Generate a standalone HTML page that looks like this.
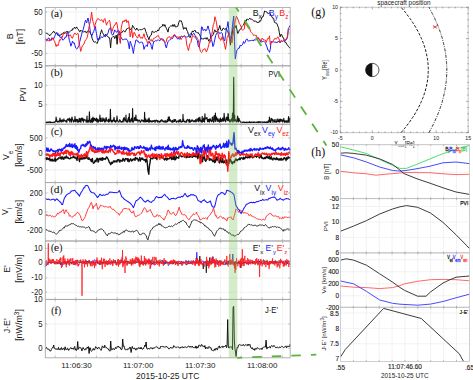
<!DOCTYPE html>
<html><head><meta charset="utf-8"><style>
html,body{margin:0;padding:0;background:#fff;width:473px;height:380px;overflow:hidden;position:relative}
text{font-family:"Liberation Sans",sans-serif;fill:#1a1a1a}
.tl{font-size:8px}
.xl{font-size:8.5px}
.yt{font-size:8.7px}
.yl{font-size:8.9px}
.sub{font-size:6px}
.sup{font-size:6px}
.pl{font-family:"Liberation Serif",serif;font-size:11.4px;fill:#111;stroke:#111;stroke-width:0.08}
.pp{font-size:9.3px}
.gs{font-size:5.2px}
.hs{font-size:6.5px;stroke:#1a1a1a;stroke-width:0.12}
.gl{font-family:"Liberation Serif",serif;font-size:12px;fill:#111}
.lg{font-size:8.4px}
.lgs{font-size:6px}
</style></head><body>
<svg width="473" height="380" viewBox="0 0 473 380" style="position:absolute;left:0;top:0">
<rect width="473" height="380" fill="#fff"/>
<line x1="55.2" y1="7.4" x2="55.2" y2="65.8" stroke="#efefef" stroke-width="0.8"/>
<line x1="75.9" y1="7.4" x2="75.9" y2="65.8" stroke="#efefef" stroke-width="0.8"/>
<line x1="96.5" y1="7.4" x2="96.5" y2="65.8" stroke="#efefef" stroke-width="0.8"/>
<line x1="117.2" y1="7.4" x2="117.2" y2="65.8" stroke="#efefef" stroke-width="0.8"/>
<line x1="137.9" y1="7.4" x2="137.9" y2="65.8" stroke="#efefef" stroke-width="0.8"/>
<line x1="158.6" y1="7.4" x2="158.6" y2="65.8" stroke="#efefef" stroke-width="0.8"/>
<line x1="179.2" y1="7.4" x2="179.2" y2="65.8" stroke="#efefef" stroke-width="0.8"/>
<line x1="199.9" y1="7.4" x2="199.9" y2="65.8" stroke="#efefef" stroke-width="0.8"/>
<line x1="220.6" y1="7.4" x2="220.6" y2="65.8" stroke="#efefef" stroke-width="0.8"/>
<line x1="241.2" y1="7.4" x2="241.2" y2="65.8" stroke="#efefef" stroke-width="0.8"/>
<line x1="261.9" y1="7.4" x2="261.9" y2="65.8" stroke="#efefef" stroke-width="0.8"/>
<line x1="282.6" y1="7.4" x2="282.6" y2="65.8" stroke="#efefef" stroke-width="0.8"/>
<line x1="45.3" y1="12.0" x2="290.2" y2="12.0" stroke="#efefef" stroke-width="0.8"/>
<line x1="45.3" y1="32.8" x2="290.2" y2="32.8" stroke="#efefef" stroke-width="0.8"/>
<line x1="45.3" y1="53.5" x2="290.2" y2="53.5" stroke="#efefef" stroke-width="0.8"/>
<line x1="55.2" y1="65.8" x2="55.2" y2="124.2" stroke="#efefef" stroke-width="0.8"/>
<line x1="75.9" y1="65.8" x2="75.9" y2="124.2" stroke="#efefef" stroke-width="0.8"/>
<line x1="96.5" y1="65.8" x2="96.5" y2="124.2" stroke="#efefef" stroke-width="0.8"/>
<line x1="117.2" y1="65.8" x2="117.2" y2="124.2" stroke="#efefef" stroke-width="0.8"/>
<line x1="137.9" y1="65.8" x2="137.9" y2="124.2" stroke="#efefef" stroke-width="0.8"/>
<line x1="158.6" y1="65.8" x2="158.6" y2="124.2" stroke="#efefef" stroke-width="0.8"/>
<line x1="179.2" y1="65.8" x2="179.2" y2="124.2" stroke="#efefef" stroke-width="0.8"/>
<line x1="199.9" y1="65.8" x2="199.9" y2="124.2" stroke="#efefef" stroke-width="0.8"/>
<line x1="220.6" y1="65.8" x2="220.6" y2="124.2" stroke="#efefef" stroke-width="0.8"/>
<line x1="241.2" y1="65.8" x2="241.2" y2="124.2" stroke="#efefef" stroke-width="0.8"/>
<line x1="261.9" y1="65.8" x2="261.9" y2="124.2" stroke="#efefef" stroke-width="0.8"/>
<line x1="282.6" y1="65.8" x2="282.6" y2="124.2" stroke="#efefef" stroke-width="0.8"/>
<line x1="45.3" y1="85.4" x2="290.2" y2="85.4" stroke="#efefef" stroke-width="0.8"/>
<line x1="45.3" y1="104.8" x2="290.2" y2="104.8" stroke="#efefef" stroke-width="0.8"/>
<line x1="55.2" y1="124.2" x2="55.2" y2="182.6" stroke="#efefef" stroke-width="0.8"/>
<line x1="75.9" y1="124.2" x2="75.9" y2="182.6" stroke="#efefef" stroke-width="0.8"/>
<line x1="96.5" y1="124.2" x2="96.5" y2="182.6" stroke="#efefef" stroke-width="0.8"/>
<line x1="117.2" y1="124.2" x2="117.2" y2="182.6" stroke="#efefef" stroke-width="0.8"/>
<line x1="137.9" y1="124.2" x2="137.9" y2="182.6" stroke="#efefef" stroke-width="0.8"/>
<line x1="158.6" y1="124.2" x2="158.6" y2="182.6" stroke="#efefef" stroke-width="0.8"/>
<line x1="179.2" y1="124.2" x2="179.2" y2="182.6" stroke="#efefef" stroke-width="0.8"/>
<line x1="199.9" y1="124.2" x2="199.9" y2="182.6" stroke="#efefef" stroke-width="0.8"/>
<line x1="220.6" y1="124.2" x2="220.6" y2="182.6" stroke="#efefef" stroke-width="0.8"/>
<line x1="241.2" y1="124.2" x2="241.2" y2="182.6" stroke="#efefef" stroke-width="0.8"/>
<line x1="261.9" y1="124.2" x2="261.9" y2="182.6" stroke="#efefef" stroke-width="0.8"/>
<line x1="282.6" y1="124.2" x2="282.6" y2="182.6" stroke="#efefef" stroke-width="0.8"/>
<line x1="45.3" y1="137.9" x2="290.2" y2="137.9" stroke="#efefef" stroke-width="0.8"/>
<line x1="45.3" y1="153.7" x2="290.2" y2="153.7" stroke="#efefef" stroke-width="0.8"/>
<line x1="45.3" y1="169.9" x2="290.2" y2="169.9" stroke="#efefef" stroke-width="0.8"/>
<line x1="55.2" y1="182.6" x2="55.2" y2="241.0" stroke="#efefef" stroke-width="0.8"/>
<line x1="75.9" y1="182.6" x2="75.9" y2="241.0" stroke="#efefef" stroke-width="0.8"/>
<line x1="96.5" y1="182.6" x2="96.5" y2="241.0" stroke="#efefef" stroke-width="0.8"/>
<line x1="117.2" y1="182.6" x2="117.2" y2="241.0" stroke="#efefef" stroke-width="0.8"/>
<line x1="137.9" y1="182.6" x2="137.9" y2="241.0" stroke="#efefef" stroke-width="0.8"/>
<line x1="158.6" y1="182.6" x2="158.6" y2="241.0" stroke="#efefef" stroke-width="0.8"/>
<line x1="179.2" y1="182.6" x2="179.2" y2="241.0" stroke="#efefef" stroke-width="0.8"/>
<line x1="199.9" y1="182.6" x2="199.9" y2="241.0" stroke="#efefef" stroke-width="0.8"/>
<line x1="220.6" y1="182.6" x2="220.6" y2="241.0" stroke="#efefef" stroke-width="0.8"/>
<line x1="241.2" y1="182.6" x2="241.2" y2="241.0" stroke="#efefef" stroke-width="0.8"/>
<line x1="261.9" y1="182.6" x2="261.9" y2="241.0" stroke="#efefef" stroke-width="0.8"/>
<line x1="282.6" y1="182.6" x2="282.6" y2="241.0" stroke="#efefef" stroke-width="0.8"/>
<line x1="45.3" y1="193.0" x2="290.2" y2="193.0" stroke="#efefef" stroke-width="0.8"/>
<line x1="45.3" y1="212.0" x2="290.2" y2="212.0" stroke="#efefef" stroke-width="0.8"/>
<line x1="45.3" y1="230.5" x2="290.2" y2="230.5" stroke="#efefef" stroke-width="0.8"/>
<line x1="55.2" y1="241.0" x2="55.2" y2="299.4" stroke="#efefef" stroke-width="0.8"/>
<line x1="75.9" y1="241.0" x2="75.9" y2="299.4" stroke="#efefef" stroke-width="0.8"/>
<line x1="96.5" y1="241.0" x2="96.5" y2="299.4" stroke="#efefef" stroke-width="0.8"/>
<line x1="117.2" y1="241.0" x2="117.2" y2="299.4" stroke="#efefef" stroke-width="0.8"/>
<line x1="137.9" y1="241.0" x2="137.9" y2="299.4" stroke="#efefef" stroke-width="0.8"/>
<line x1="158.6" y1="241.0" x2="158.6" y2="299.4" stroke="#efefef" stroke-width="0.8"/>
<line x1="179.2" y1="241.0" x2="179.2" y2="299.4" stroke="#efefef" stroke-width="0.8"/>
<line x1="199.9" y1="241.0" x2="199.9" y2="299.4" stroke="#efefef" stroke-width="0.8"/>
<line x1="220.6" y1="241.0" x2="220.6" y2="299.4" stroke="#efefef" stroke-width="0.8"/>
<line x1="241.2" y1="241.0" x2="241.2" y2="299.4" stroke="#efefef" stroke-width="0.8"/>
<line x1="261.9" y1="241.0" x2="261.9" y2="299.4" stroke="#efefef" stroke-width="0.8"/>
<line x1="282.6" y1="241.0" x2="282.6" y2="299.4" stroke="#efefef" stroke-width="0.8"/>
<line x1="45.3" y1="248.4" x2="290.2" y2="248.4" stroke="#efefef" stroke-width="0.8"/>
<line x1="45.3" y1="262.7" x2="290.2" y2="262.7" stroke="#efefef" stroke-width="0.8"/>
<line x1="45.3" y1="277.9" x2="290.2" y2="277.9" stroke="#efefef" stroke-width="0.8"/>
<line x1="45.3" y1="292.2" x2="290.2" y2="292.2" stroke="#efefef" stroke-width="0.8"/>
<line x1="55.2" y1="299.4" x2="55.2" y2="357.8" stroke="#efefef" stroke-width="0.8"/>
<line x1="75.9" y1="299.4" x2="75.9" y2="357.8" stroke="#efefef" stroke-width="0.8"/>
<line x1="96.5" y1="299.4" x2="96.5" y2="357.8" stroke="#efefef" stroke-width="0.8"/>
<line x1="117.2" y1="299.4" x2="117.2" y2="357.8" stroke="#efefef" stroke-width="0.8"/>
<line x1="137.9" y1="299.4" x2="137.9" y2="357.8" stroke="#efefef" stroke-width="0.8"/>
<line x1="158.6" y1="299.4" x2="158.6" y2="357.8" stroke="#efefef" stroke-width="0.8"/>
<line x1="179.2" y1="299.4" x2="179.2" y2="357.8" stroke="#efefef" stroke-width="0.8"/>
<line x1="199.9" y1="299.4" x2="199.9" y2="357.8" stroke="#efefef" stroke-width="0.8"/>
<line x1="220.6" y1="299.4" x2="220.6" y2="357.8" stroke="#efefef" stroke-width="0.8"/>
<line x1="241.2" y1="299.4" x2="241.2" y2="357.8" stroke="#efefef" stroke-width="0.8"/>
<line x1="261.9" y1="299.4" x2="261.9" y2="357.8" stroke="#efefef" stroke-width="0.8"/>
<line x1="282.6" y1="299.4" x2="282.6" y2="357.8" stroke="#efefef" stroke-width="0.8"/>
<line x1="45.3" y1="324.0" x2="290.2" y2="324.0" stroke="#efefef" stroke-width="0.8"/>
<line x1="45.3" y1="348.3" x2="290.2" y2="348.3" stroke="#efefef" stroke-width="0.8"/>
<text transform="translate(42.6,14.6) scale(0.9,1)" text-anchor="end" class="yt">50</text>
<text transform="translate(42.6,35.3) scale(0.9,1)" text-anchor="end" class="yt">0</text>
<text transform="translate(42.6,56.0) scale(0.9,1)" text-anchor="end" class="yt">-50</text>
<text transform="translate(42.6,68.3) scale(0.9,1)" text-anchor="end" class="yt">15</text>
<text transform="translate(42.6,88.0) scale(0.9,1)" text-anchor="end" class="yt">10</text>
<text transform="translate(42.6,107.3) scale(0.9,1)" text-anchor="end" class="yt">5</text>
<text transform="translate(42.6,140.5) scale(0.9,1)" text-anchor="end" class="yt">500</text>
<text transform="translate(42.6,156.2) scale(0.9,1)" text-anchor="end" class="yt">0</text>
<text transform="translate(42.6,172.5) scale(0.9,1)" text-anchor="end" class="yt">-500</text>
<text transform="translate(42.6,195.6) scale(0.9,1)" text-anchor="end" class="yt">200</text>
<text transform="translate(42.6,214.6) scale(0.9,1)" text-anchor="end" class="yt">0</text>
<text transform="translate(42.6,233.1) scale(0.9,1)" text-anchor="end" class="yt">-200</text>
<text transform="translate(42.6,251.0) scale(0.9,1)" text-anchor="end" class="yt">10</text>
<text transform="translate(42.6,265.2) scale(0.9,1)" text-anchor="end" class="yt">0</text>
<text transform="translate(42.6,280.4) scale(0.9,1)" text-anchor="end" class="yt">-10</text>
<text transform="translate(42.6,294.8) scale(0.9,1)" text-anchor="end" class="yt">-20</text>
<text transform="translate(42.6,301.9) scale(0.9,1)" text-anchor="end" class="yt">10</text>
<text transform="translate(42.6,326.6) scale(0.9,1)" text-anchor="end" class="yt">5</text>
<text transform="translate(42.6,350.9) scale(0.9,1)" text-anchor="end" class="yt">0</text>
<polyline points="45.3,32.5 46.0,33.5 46.6,33.4 47.3,33.8 48.1,33.8 48.9,34.7 49.7,35.9 50.4,34.8 51.0,34.6 51.7,33.4 52.3,32.8 53.0,32.0 53.8,31.1 54.6,33.0 55.4,33.0 56.0,33.8 56.6,33.3 57.3,34.0 57.9,35.4 58.7,35.4 59.5,35.7 60.3,35.2 61.0,35.0 61.6,33.8 62.3,33.9 62.9,33.5 63.6,32.3 64.2,33.7 64.9,32.7 65.5,33.0 66.2,31.7 66.8,31.4 67.4,31.7 68.1,31.8 68.7,32.3 69.4,32.1 70.0,31.6 70.7,30.6 71.3,30.2 72.0,30.7 72.6,28.7 73.3,28.8 73.9,28.7 74.5,27.2 75.2,28.0 75.8,28.6 76.6,26.9 77.4,28.4 78.0,29.4 78.7,29.7 79.3,31.4 79.9,31.9 80.7,30.2 81.5,31.0 82.1,31.1 82.8,31.4 83.4,31.9 84.0,31.3 84.8,31.7 85.6,31.3 86.4,33.1 87.2,31.5 88.0,30.8 88.6,30.7 89.2,31.3 89.9,32.0 90.5,33.5 91.3,34.6 92.1,38.3 92.9,40.2 93.7,41.8 94.5,42.1 95.3,41.7 96.2,42.5 97.0,43.5 97.8,42.0 98.4,39.7 99.0,39.0 99.7,37.1 100.3,34.4 100.9,32.1 101.6,29.8 102.4,32.5 103.3,33.9 104.1,35.1 104.9,36.4 105.7,34.1 106.5,35.1 107.3,36.2 108.2,37.1 109.0,37.2 109.8,39.7 110.6,47.9 111.4,38.0 112.2,37.5 113.0,36.7 113.8,35.9 114.7,38.6 115.5,36.8 116.3,35.1 117.1,44.3 117.9,33.9 118.8,34.0 119.6,35.0 120.4,33.1 121.2,32.4 122.0,32.6 122.8,31.1 123.7,30.5 124.5,31.7 125.3,31.7 126.1,30.0 126.9,28.6 127.7,28.5 128.5,28.1 129.3,27.6 130.2,29.6 131.0,28.8 131.8,28.7 132.6,25.4 133.4,26.5 134.2,28.2 135.1,29.4 135.9,30.1 136.7,28.0 137.5,29.1 138.3,30.4 139.1,30.3 139.9,29.4 140.8,29.7 141.6,29.9 142.4,29.1 143.2,29.1 144.0,28.2 144.8,28.3 145.7,31.3 146.5,33.3 147.3,35.8 148.1,37.6 148.9,39.8 149.7,37.0 150.5,35.5 151.3,35.1 152.2,31.0 153.0,31.7 153.8,32.3 154.6,32.2 155.2,31.9 155.8,31.2 156.5,31.7 157.1,31.3 157.8,29.9 158.5,31.0 159.2,28.9 159.9,27.4 160.7,27.2 161.5,26.6 162.3,26.2 162.9,24.2 163.6,25.5 164.2,26.3 164.8,24.6 165.6,26.6 166.4,28.4 167.2,30.0 168.0,32.1 168.8,27.9 169.7,26.8 170.5,26.0 171.3,25.8 172.1,26.5 172.9,24.5 173.8,26.5 174.6,24.5 175.4,27.0 176.2,26.8 177.0,26.7 177.8,26.2 178.7,22.9 179.5,20.6 180.3,21.0 181.1,20.6 181.9,22.5 182.7,25.6 183.5,29.3 184.3,27.6 185.2,28.8 186.0,27.5 186.8,30.1 187.6,31.7 188.4,34.4 189.2,36.4 190.1,37.7 190.9,35.6 191.7,32.6 192.5,30.9 193.1,32.1 193.8,30.9 194.4,30.6 195.0,30.1 195.8,32.2 196.6,32.1 197.4,32.9 198.2,32.5 199.0,34.3 199.8,34.8 200.7,37.3 201.5,39.0 202.3,38.6 203.1,39.4 203.9,38.2 204.7,38.3 205.5,37.9 206.3,39.3 207.1,37.5 207.9,38.9 208.8,41.2 209.6,39.5 210.4,38.6 211.0,36.1 211.6,36.7 212.4,35.8 213.3,34.5 214.1,31.8 214.9,29.8 215.7,31.8 216.5,32.0 217.3,30.8 218.2,30.4 219.0,28.1 219.8,25.5 220.6,29.2 221.4,30.7 222.2,30.4 223.1,28.1 223.9,28.3 224.7,29.5 225.5,29.2 226.3,28.0 227.2,30.8 228.0,31.9 228.8,35.5 229.6,38.7 230.4,45.2 231.2,38.9 232.1,35.0 232.9,28.3 233.7,28.0 234.5,26.6 235.3,27.7 236.1,25.4 236.9,29.9 237.8,33.5 238.6,31.9 239.4,29.9 240.2,29.3 241.0,29.1 241.8,26.7 242.7,25.7 243.5,24.9 244.3,22.9 245.0,20.5 245.6,20.5 246.2,21.2 246.9,19.0 247.5,19.3 248.3,19.8 249.1,19.1 249.9,18.1 250.5,19.2 251.2,19.4 251.8,19.1 252.4,19.5 253.2,20.4 254.0,21.6 254.8,20.9 255.4,21.1 256.1,21.6 256.7,21.6 257.3,22.9 258.1,22.0 258.9,22.7 259.7,20.7 260.5,21.2 261.3,19.3 262.1,16.8 263.0,16.9 263.8,14.2 264.6,11.0 265.4,11.4 266.2,11.7 267.0,12.1 267.9,13.7 268.7,13.3 269.5,12.8 270.3,13.8 271.1,15.7 272.0,16.9 272.8,18.4 273.6,18.3 274.4,21.9 275.2,23.0 276.0,22.8 276.9,23.5 277.7,25.9 278.5,27.6 279.3,32.3 280.1,36.8 281.0,34.2 281.8,34.8 282.6,37.3 283.4,37.6 284.2,40.1 285.0,42.4 285.9,42.4 286.7,44.1 287.5,45.2 288.3,46.3 289.1,47.0 289.9,48.3" fill="none" stroke="#111111" stroke-width="1.0" stroke-linejoin="round"/>
<polyline points="45.3,38.3 45.8,38.5 46.4,39.8 47.0,40.2 47.6,39.3 48.3,38.2 48.9,37.9 49.7,40.7 50.5,40.2 51.3,40.4 51.9,37.7 52.5,39.2 53.2,38.5 53.8,38.7 54.6,36.5 55.4,34.8 56.2,33.8 56.8,32.4 57.5,34.6 58.1,34.3 58.7,33.8 59.5,36.3 60.3,37.7 61.1,36.7 62.0,38.4 62.8,40.2 63.6,39.7 64.4,38.9 65.2,37.0 66.0,37.4 66.8,34.6 67.6,31.1 68.4,34.7 69.3,40.3 70.1,42.7 70.9,46.2 71.7,43.9 72.5,41.1 73.3,43.1 74.2,42.7 75.0,45.7 75.8,48.2 76.6,48.9 77.4,48.5 78.2,46.9 79.0,45.3 79.8,41.5 80.7,38.0 81.5,34.9 82.3,31.7 83.2,29.6 84.0,26.2 84.8,22.8 85.6,20.1 86.2,21.7 86.7,22.8 87.3,20.6 88.0,18.0 88.7,21.4 89.3,24.5 89.9,28.2 90.5,33.8 91.3,35.0 92.1,35.5 92.9,33.0 93.7,31.4 94.6,28.8 95.4,26.6 96.0,31.1 96.5,33.7 97.2,38.1 97.8,40.2 98.4,38.4 99.0,38.6 99.7,39.5 100.3,37.4 101.0,36.7 101.7,37.1 102.4,37.9 103.2,36.7 104.1,35.3 104.9,36.6 105.7,36.5 106.5,35.1 107.3,34.7 108.2,32.5 109.0,29.2 109.8,28.9 110.6,27.1 111.4,33.4 112.2,34.8 113.0,35.0 113.8,33.0 114.7,29.9 115.5,31.3 116.3,31.8 117.1,32.4 117.9,30.3 118.8,30.6 119.6,32.0 120.4,36.4 121.2,37.4 122.0,39.0 122.8,39.8 123.7,39.6 124.5,39.2 125.3,39.3 126.1,38.6 126.9,39.9 127.7,40.5 128.5,44.1 129.3,48.8 130.2,41.3 131.0,43.5 131.8,45.8 132.6,49.3 133.4,53.5 134.2,47.5 135.1,43.7 135.9,40.0 136.7,39.9 137.5,41.4 138.3,41.2 139.1,42.9 139.9,42.9 140.8,42.1 141.6,42.1 142.4,42.3 143.2,44.4 144.0,49.4 144.8,46.9 145.7,45.7 146.5,45.2 147.3,46.5 148.1,42.6 148.9,41.4 149.7,43.1 150.5,42.9 151.3,46.5 152.2,49.4 153.0,44.6 153.8,41.3 154.4,41.4 155.1,41.3 155.7,40.4 156.3,40.9 157.0,40.5 157.6,40.2 158.3,39.7 159.1,40.6 159.9,40.8 160.7,38.7 161.5,38.9 162.3,38.9 163.2,39.3 164.0,41.2 164.8,42.5 165.6,46.1 166.4,48.0 167.2,44.5 168.0,41.7 168.8,40.7 169.7,39.8 170.5,39.6 171.3,38.7 172.1,38.9 172.9,37.8 173.8,36.3 174.6,34.8 175.4,36.7 176.2,36.6 177.0,38.2 177.8,39.2 178.7,38.2 179.5,39.3 180.3,38.1 181.1,35.9 181.9,36.6 182.7,36.6 183.5,36.3 184.3,35.6 185.2,36.4 186.0,37.0 186.8,37.1 187.6,36.8 188.4,36.5 189.2,35.4 190.1,34.3 190.9,33.4 191.7,34.5 192.5,34.7 193.3,33.6 194.1,33.4 194.9,35.2 195.8,37.7 196.6,39.6 197.4,40.6 198.2,45.7 199.0,47.2 199.8,43.2 200.7,37.7 201.5,26.9 202.3,27.1 203.1,30.6 203.9,30.0 204.7,29.0 205.6,31.0 206.4,30.5 207.2,28.7 208.0,25.9 208.8,28.9 209.6,31.4 210.4,35.0 211.3,39.5 212.1,41.8 212.9,46.6 213.5,45.9 214.2,42.3 214.9,39.1 215.7,35.5 216.5,33.6 217.3,33.5 218.2,31.9 219.0,32.2 219.8,33.8 220.6,33.1 221.4,32.4 222.2,33.4 223.1,37.1 223.9,39.5 224.7,40.9 225.5,35.4 226.3,29.2 227.2,26.7 228.0,21.6 228.8,29.9 229.6,34.9 230.4,40.4 231.2,35.7 232.0,30.4 232.8,22.9 233.7,16.0 234.5,41.4 235.3,58.9 236.1,54.2 236.9,50.1 237.8,49.4 238.6,48.0 239.4,48.1 240.2,45.0 241.0,45.9 241.8,45.4 242.7,44.2 243.5,41.5 244.3,43.3 245.1,42.6 245.8,40.1 246.6,39.1 247.4,39.2 248.3,41.3 249.1,40.5 249.9,41.0 250.7,40.5 251.5,40.4 252.3,40.0 253.2,41.0 254.0,39.6 254.8,40.1 255.6,39.9 256.4,39.6 257.2,38.7 258.1,37.9 258.9,39.4 259.7,39.8 260.5,42.0 261.3,42.3 261.9,41.7 262.6,41.5 263.2,41.3 263.8,41.2 264.6,42.0 265.4,42.8 266.2,45.0 267.1,47.1 267.9,50.1 268.7,50.3 269.5,52.4 270.3,49.3 271.1,41.4 272.0,41.9 272.8,41.9 273.6,41.9 274.4,42.1 275.2,42.0 276.0,42.8 276.9,42.2 277.7,42.3 278.5,41.0 279.3,42.0 280.1,42.2 281.0,41.1 281.8,40.7 282.6,41.4 283.4,40.6 284.2,41.4 285.0,41.0 285.8,40.3 286.6,39.2 287.5,37.6 288.3,28.6 289.1,27.4 289.9,25.4" fill="none" stroke="#1a1aff" stroke-width="1.0" stroke-linejoin="round"/>
<polyline points="45.3,39.5 45.8,39.7 46.4,40.8 47.0,41.2 47.6,39.9 48.3,40.6 48.9,41.2 49.7,39.4 50.5,39.6 51.3,39.1 52.1,39.4 53.0,37.8 53.8,40.2 54.6,41.3 55.4,44.1 56.2,46.6 57.0,44.6 57.9,45.9 58.7,43.5 59.5,39.8 60.3,40.3 61.1,38.6 61.9,37.9 62.8,35.8 63.6,32.5 64.4,32.2 65.2,32.1 66.0,32.8 66.8,34.5 67.7,35.5 68.5,36.8 69.3,35.8 70.1,34.6 70.9,35.8 71.7,37.8 72.5,38.3 73.3,35.7 74.2,33.9 75.0,33.0 75.8,34.3 76.6,34.5 77.4,33.6 78.2,33.7 79.1,43.5 79.9,46.6 80.7,51.4 81.5,48.3 82.3,46.1 83.2,44.9 84.0,44.0 84.8,41.4 85.6,39.9 86.4,39.3 87.2,37.4 88.0,33.6 88.8,28.1 89.7,24.2 90.5,20.2 91.0,17.0 91.6,12.1 92.2,16.8 92.9,21.4 93.7,23.6 94.5,27.8 95.3,24.1 96.2,21.5 97.0,19.8 97.8,18.4 98.6,18.9 99.4,19.9 100.3,20.1 100.9,20.7 101.6,19.5 102.4,20.5 103.3,22.4 104.1,19.5 104.9,18.5 105.7,21.7 106.5,25.2 107.3,22.8 108.2,21.5 109.0,20.5 109.8,20.7 110.6,26.9 111.4,30.7 112.2,31.4 113.0,28.2 113.8,26.6 114.7,24.7 115.5,24.4 116.3,22.1 117.1,24.4 117.9,29.0 118.8,34.8 119.6,40.4 120.4,43.4 121.2,27.9 122.0,24.3 122.8,21.1 123.4,20.9 124.0,22.0 124.7,20.3 125.3,21.1 126.1,19.5 126.9,22.6 127.7,21.1 128.5,21.1 129.3,27.6 130.2,36.8 131.0,33.0 131.8,29.2 132.6,37.9 133.4,34.7 134.2,32.3 135.1,34.0 135.9,36.0 136.7,36.7 137.5,38.2 138.3,36.3 139.1,34.2 139.9,36.8 140.8,38.3 141.6,37.3 142.4,38.5 143.2,36.3 144.0,33.7 144.8,37.5 145.7,39.4 146.5,39.4 147.3,42.7 148.1,42.3 148.9,43.1 149.7,41.4 150.5,39.9 151.3,39.4 152.2,41.5 153.0,39.7 153.8,38.2 154.4,38.2 155.0,37.7 155.8,37.5 156.6,36.3 157.4,36.0 158.2,35.4 159.1,37.3 159.9,38.6 160.7,39.5 161.5,39.0 162.1,39.3 162.8,40.6 163.4,39.6 164.0,40.5 164.8,42.3 165.6,42.5 166.4,41.2 167.2,37.9 167.8,37.9 168.4,37.1 169.1,36.7 169.7,36.7 170.5,38.4 171.3,37.2 172.1,36.8 172.9,37.1 173.8,34.9 174.6,34.6 175.4,35.9 176.2,36.6 177.0,37.5 177.8,36.6 178.7,38.1 179.5,36.6 180.3,38.3 181.1,39.6 181.9,38.1 182.7,37.4 183.5,36.5 184.3,35.7 185.2,37.2 186.0,38.6 186.8,45.0 187.6,47.6 188.4,50.6 189.2,47.1 190.1,43.3 190.9,42.5 191.7,39.0 192.5,35.5 193.3,36.0 193.9,36.5 194.6,37.0 195.2,37.0 195.8,36.6 196.6,36.9 197.4,38.5 198.2,39.9 199.0,43.8 199.8,49.1 200.7,51.8 201.5,52.6 202.3,51.7 203.1,49.5 203.9,49.7 204.7,48.5 205.6,50.1 206.4,52.0 207.2,50.2 208.0,47.8 208.8,44.6 209.6,41.4 210.0,42.5 210.8,40.0 211.6,35.5 212.4,30.8 213.3,24.6 214.1,22.9 214.9,16.7 215.7,19.6 216.5,22.4 217.3,28.6 218.2,34.3 219.0,38.5 219.8,38.1 220.6,40.3 221.4,39.7 222.2,36.5 223.1,40.2 223.9,41.8 224.7,45.7 225.5,49.4 226.3,44.2 227.1,37.6 227.9,36.2 228.8,33.3 229.6,36.1 230.4,37.2 231.2,39.6 232.0,42.8 232.8,36.7 233.7,31.0 234.5,25.1 235.3,20.0 235.9,18.2 236.4,16.2 237.1,17.5 237.8,19.2 238.6,20.9 239.4,23.9 240.2,24.7 241.0,26.6 241.8,29.2 242.7,30.3 243.5,29.7 244.3,29.1 245.0,22.8 245.8,24.6 246.6,25.6 247.4,25.9 248.3,28.2 249.1,28.8 249.9,28.8 250.7,31.7 251.5,32.6 252.3,33.4 253.2,34.9 254.0,35.7 254.8,34.8 255.6,35.9 256.4,35.4 257.2,38.4 258.1,37.4 258.9,39.3 259.7,38.9 260.5,40.2 261.3,41.5 262.1,38.0 263.0,39.0 263.8,40.0 264.6,40.0 265.4,40.1 266.2,42.4 267.0,40.2 267.9,38.2 268.7,38.7 269.5,35.8 270.3,44.9 271.1,42.6 272.0,41.9 272.8,41.8 273.6,40.2 274.4,38.8 275.2,38.2 276.0,39.3 276.9,38.2 277.7,36.8 278.5,37.5 279.3,40.1 280.1,43.0 281.0,40.7 281.8,41.6 282.6,41.5 283.4,40.6 284.2,41.1 285.0,39.4 285.9,39.5 286.7,38.0 287.5,36.1 288.3,30.5 289.1,29.7 289.9,28.7" fill="none" stroke="#ff1a1a" stroke-width="1.0" stroke-linejoin="round"/>
<polyline points="45.3,122.2 45.6,122.5 45.9,122.3 46.2,122.6 46.5,122.1 46.8,122.3 47.1,122.6 47.4,122.2 47.7,122.4 48.0,122.0 48.3,122.5 48.6,122.5 48.9,122.0 49.2,121.9 49.5,122.3 49.8,122.5 50.1,121.7 50.4,122.2 50.7,122.6 51.0,122.2 51.3,122.4 51.6,122.5 51.9,122.4 52.2,122.5 52.5,122.6 52.8,122.3 53.1,122.1 53.4,122.2 53.7,122.2 54.0,122.6 54.3,122.1 54.6,122.3 54.9,121.9 55.2,121.9 55.5,120.8 55.8,121.8 56.1,117.0 56.4,119.4 56.7,119.3 57.0,121.7 57.3,121.5 57.6,121.6 57.9,122.1 58.2,121.6 58.5,121.7 58.8,120.9 59.1,122.1 59.4,121.0 59.7,119.8 60.0,118.0 60.3,120.9 60.6,121.5 60.9,120.2 61.2,122.2 61.5,120.5 61.8,121.5 62.1,119.7 62.4,119.8 62.7,120.7 63.0,121.9 63.3,121.2 63.6,120.9 63.9,118.8 64.2,121.0 64.5,120.6 64.8,120.5 65.1,120.8 65.4,121.1 65.7,121.4 66.0,121.8 66.3,120.3 66.6,120.5 66.9,122.3 67.2,119.7 67.5,119.2 67.8,118.8 68.1,119.1 68.4,119.3 68.7,120.4 69.0,119.9 69.3,118.0 69.6,120.5 69.9,122.1 70.2,119.1 70.5,120.1 70.8,119.4 71.1,119.2 71.4,122.1 71.7,118.3 72.0,117.1 72.3,119.1 72.6,119.3 72.9,120.4 73.2,121.8 73.5,121.9 73.8,121.9 74.1,120.2 74.4,119.9 74.7,120.9 75.0,116.5 75.3,121.9 75.6,120.7 75.9,119.5 76.2,121.3 76.5,119.8 76.8,119.4 77.1,121.1 77.4,122.1 77.7,119.5 78.0,122.1 78.3,122.2 78.6,121.3 78.9,122.0 79.2,118.4 79.5,121.5 79.8,118.8 80.1,118.7 80.4,121.9 80.7,121.8 81.0,122.2 81.3,118.0 81.6,118.9 81.9,120.2 82.2,118.5 82.5,120.4 82.8,118.1 83.1,121.1 83.4,122.1 83.7,121.2 84.0,119.3 84.3,119.5 84.6,120.3 84.9,120.3 85.2,120.0 85.5,120.0 85.8,120.1 86.1,122.1 86.4,121.6 86.7,121.3 87.0,116.0 87.3,122.1 87.6,122.2 87.9,121.5 88.2,120.4 88.5,122.1 88.8,122.0 89.1,119.8 89.4,111.8 89.7,119.1 90.0,120.8 90.3,122.3 90.6,120.2 90.9,121.4 91.2,122.2 91.5,118.7 91.8,119.9 92.1,122.3 92.4,118.1 92.7,122.2 93.0,117.0 93.3,119.8 93.6,121.2 93.9,119.0 94.2,118.2 94.5,118.2 94.8,119.0 95.1,120.8 95.4,119.5 95.7,120.5 96.0,118.7 96.3,121.3 96.6,118.1 96.9,118.5 97.2,122.3 97.5,119.5 97.8,121.8 98.1,119.4 98.4,122.2 98.7,120.9 99.0,121.4 99.3,120.6 99.6,120.2 99.9,115.0 100.2,119.4 100.5,121.8 100.8,120.8 101.1,118.0 101.4,120.1 101.7,121.3 102.0,121.2 102.3,121.5 102.6,119.6 102.9,117.8 103.2,121.0 103.5,120.6 103.8,119.9 104.1,118.7 104.4,119.9 104.7,122.2 105.0,122.1 105.3,121.8 105.6,120.1 105.9,118.2 106.2,117.5 106.5,119.7 106.8,121.1 107.1,120.8 107.4,120.7 107.7,121.1 108.0,120.7 108.3,119.3 108.6,122.1 108.9,119.1 109.2,121.8 109.5,120.9 109.8,120.9 110.1,120.9 110.4,109.3 110.7,119.6 111.0,120.2 111.3,122.2 111.6,121.2 111.9,120.4 112.2,120.5 112.5,122.0 112.8,120.6 113.1,119.7 113.4,120.9 113.7,120.5 114.0,117.3 114.3,119.4 114.6,121.7 114.9,120.7 115.2,121.8 115.5,122.2 115.8,120.5 116.1,121.9 116.4,120.7 116.7,120.1 117.0,116.0 117.3,119.5 117.6,121.0 117.9,121.2 118.2,121.5 118.5,121.5 118.8,122.2 119.1,121.8 119.4,119.9 119.7,119.9 120.0,120.8 120.3,120.4 120.6,121.1 120.9,122.1 121.2,122.1 121.5,121.5 121.8,121.5 122.1,122.2 122.4,121.9 122.7,121.0 123.0,120.0 123.3,119.1 123.6,118.4 123.9,121.9 124.2,117.4 124.5,119.1 124.8,119.3 125.1,119.4 125.4,120.9 125.7,120.8 126.0,115.0 126.3,122.0 126.6,121.2 126.9,121.4 127.2,120.9 127.5,122.3 127.8,120.0 128.1,118.5 128.4,118.0 128.7,117.2 129.0,121.7 129.3,113.5 129.6,122.0 129.9,119.5 130.2,122.1 130.5,120.7 130.8,119.8 131.1,120.6 131.4,118.2 131.7,118.2 132.0,121.9 132.3,119.9 132.6,108.5 132.9,120.8 133.2,122.3 133.5,121.5 133.8,120.8 134.1,120.8 134.4,117.8 134.7,117.8 135.0,117.4 135.3,120.6 135.6,119.1 135.9,115.1 136.2,119.0 136.5,120.7 136.8,120.6 137.1,119.5 137.4,119.9 137.7,119.8 138.0,122.2 138.3,120.5 138.6,120.2 138.9,120.2 139.2,120.1 139.5,120.6 139.8,121.4 140.1,122.1 140.4,121.5 140.7,122.2 141.0,121.1 141.3,119.8 141.6,120.6 141.9,120.7 142.2,120.5 142.5,120.1 142.8,120.8 143.1,121.5 143.4,120.2 143.7,121.3 144.0,122.1 144.3,121.6 144.6,112.2 144.9,121.8 145.2,119.6 145.5,121.6 145.8,118.8 146.1,121.9 146.4,120.6 146.7,121.8 147.0,120.4 147.3,120.5 147.6,121.5 147.9,119.4 148.2,120.3 148.5,122.2 148.8,118.6 149.1,117.9 149.4,120.3 149.7,122.2 150.0,121.8 150.3,120.6 150.6,121.0 150.9,121.3 151.2,121.6 151.5,121.2 151.8,122.0 152.1,120.6 152.4,121.9 152.7,121.1 153.0,121.1 153.3,121.5 153.6,121.4 153.9,120.5 154.2,121.0 154.5,120.2 154.8,121.9 155.1,122.3 155.4,120.8 155.7,120.5 156.0,120.3 156.3,120.1 156.6,121.0 156.9,120.4 157.2,121.4 157.5,122.1 157.8,120.5 158.1,120.7 158.4,121.7 158.7,121.9 159.0,122.2 159.3,122.0 159.6,121.3 159.9,122.2 160.2,121.3 160.5,120.6 160.8,121.8 161.1,120.4 161.4,119.9 161.7,119.9 162.0,119.9 162.3,121.0 162.6,120.7 162.9,121.8 163.2,121.8 163.5,121.1 163.8,122.0 164.1,121.7 164.4,121.8 164.7,122.0 165.0,120.4 165.3,122.3 165.6,121.1 165.9,121.9 166.2,121.1 166.5,122.2 166.8,121.5 167.1,121.7 167.4,119.6 167.7,121.8 168.0,121.3 168.3,117.0 168.6,120.5 168.9,120.4 169.2,116.7 169.5,118.7 169.8,120.8 170.1,121.3 170.4,119.7 170.7,120.9 171.0,120.9 171.3,120.9 171.6,121.9 171.9,122.2 172.2,121.6 172.5,120.3 172.8,122.3 173.1,121.4 173.4,121.7 173.7,121.4 174.0,119.2 174.3,121.2 174.6,121.6 174.9,119.7 175.2,120.8 175.5,119.5 175.8,120.7 176.1,121.6 176.4,122.2 176.7,122.0 177.0,121.9 177.3,121.0 177.6,121.1 177.9,121.0 178.2,121.3 178.5,122.1 178.8,121.6 179.1,119.8 179.4,120.3 179.7,121.7 180.0,121.7 180.3,119.7 180.6,119.6 180.9,121.6 181.2,122.2 181.5,121.7 181.8,121.3 182.1,121.5 182.4,121.7 182.7,121.8 183.0,114.4 183.3,121.3 183.6,119.4 183.9,121.3 184.2,121.6 184.5,122.0 184.8,121.2 185.1,121.9 185.4,121.8 185.7,122.2 186.0,122.3 186.3,120.5 186.6,121.9 186.9,121.3 187.2,119.3 187.5,119.7 187.8,119.9 188.1,119.7 188.4,120.0 188.7,121.2 189.0,122.0 189.3,122.3 189.6,119.4 189.9,120.8 190.2,120.9 190.5,122.0 190.8,120.9 191.1,120.9 191.4,121.4 191.7,121.1 192.0,119.5 192.3,120.9 192.6,120.2 192.9,121.1 193.2,121.1 193.5,120.9 193.8,121.9 194.1,120.8 194.4,121.4 194.7,121.6 195.0,120.5 195.3,121.7 195.6,119.5 195.9,121.4 196.2,121.8 196.5,121.1 196.8,120.2 197.1,118.6 197.4,119.7 197.7,120.0 198.0,121.0 198.3,121.7 198.6,117.8 198.9,120.4 199.2,121.2 199.5,118.5 199.8,117.4 200.1,119.5 200.4,121.2 200.7,120.1 201.0,120.5 201.3,122.2 201.6,121.4 201.9,121.8 202.2,116.4 202.5,122.0 202.8,121.5 203.1,119.4 203.4,121.4 203.7,118.1 204.0,120.1 204.3,120.7 204.6,122.2 204.9,113.8 205.2,117.8 205.5,119.0 205.8,118.8 206.1,118.8 206.4,117.9 206.7,118.4 207.0,117.5 207.3,120.4 207.6,121.8 207.9,119.5 208.2,121.7 208.5,119.2 208.8,120.0 209.1,119.6 209.4,122.2 209.7,120.5 210.0,118.5 210.3,119.4 210.6,119.9 210.9,121.1 211.2,121.2 211.5,121.7 211.8,121.2 212.1,119.3 212.4,117.0 212.7,120.9 213.0,119.5 213.3,120.8 213.6,122.3 213.9,116.1 214.2,119.3 214.5,115.6 214.8,116.1 215.1,121.6 215.4,113.0 215.7,119.5 216.0,121.1 216.3,116.9 216.6,118.4 216.9,119.7 217.2,118.0 217.5,119.9 217.8,121.6 218.1,121.6 218.4,121.2 218.7,119.6 219.0,118.8 219.3,120.6 219.6,122.2 219.9,120.9 220.2,121.3 220.5,118.1 220.8,121.4 221.1,119.8 221.4,121.5 221.7,119.5 222.0,119.4 222.3,121.3 222.6,118.6 222.9,117.9 223.2,120.0 223.5,121.2 223.8,121.0 224.1,113.2 224.4,116.8 224.7,118.5 225.0,120.8 225.3,120.2 225.6,121.9 225.9,121.2 226.2,118.6 226.5,117.2 226.8,117.5 227.1,119.7 227.4,119.2 227.7,120.6 228.0,113.5 228.3,114.2 228.6,120.5 228.9,120.4 229.2,121.1 229.5,122.0 229.8,119.4 230.1,121.6 230.4,121.9 230.7,121.1 231.0,121.4 231.3,119.5 231.6,118.7 231.9,120.8 232.2,120.3 232.5,113.0 232.8,121.9 233.1,121.5 233.4,111.0 233.7,77.2 234.0,112.0 234.3,121.2 234.6,115.0 234.9,121.0 235.2,119.6 235.5,121.0 235.8,119.8 236.1,119.8 236.4,121.5 236.7,122.1 237.0,120.9 237.3,118.6 237.6,116.1 237.9,117.9 238.2,121.8 238.5,121.9 238.8,118.3 239.1,118.6 239.4,121.0 239.7,120.2 240.0,120.9 240.3,121.5 240.6,121.9 240.9,122.5 241.2,122.3 241.5,122.3 241.8,122.1 242.1,122.3 242.4,122.3 242.7,122.6 243.0,122.0 243.3,121.9 243.6,122.0 243.9,122.4 244.2,122.0 244.5,122.2 244.8,122.6 245.1,122.2 245.4,122.3 245.7,122.6 246.0,122.4 246.3,122.6 246.6,122.0 246.9,122.0 247.2,122.4 247.5,122.3 247.8,122.5 248.1,122.5 248.4,122.3 248.7,122.2 249.0,122.4 249.3,121.6 249.6,122.4 249.9,122.5 250.2,122.1 250.5,122.6 250.8,122.3 251.1,122.4 251.4,122.4 251.7,122.3 252.0,121.9 252.3,122.0 252.6,122.4 252.9,122.4 253.2,122.2 253.5,122.5 253.8,121.9 254.1,121.9 254.4,122.5 254.7,122.0 255.0,122.2 255.3,122.3 255.6,122.3 255.9,122.2 256.2,122.5 256.5,122.5 256.8,122.5 257.1,121.8 257.4,121.9 257.7,122.4 258.0,122.6 258.3,122.5 258.6,121.6 258.9,122.6 259.2,122.3 259.5,122.0 259.8,121.7 260.1,122.3 260.4,122.5 260.7,122.5 261.0,121.8 261.3,122.3 261.6,122.3 261.9,122.1 262.2,122.6 262.5,121.9 262.8,122.4 263.1,122.2 263.4,122.4 263.7,122.4 264.0,121.8 264.3,122.5 264.6,122.3 264.9,122.4 265.2,122.1 265.5,122.4 265.8,122.1 266.1,122.4 266.4,121.9 266.7,122.4 267.0,122.6 267.3,121.9 267.6,122.1 267.9,122.5 268.2,120.8 268.5,120.8 268.8,122.1 269.1,122.0 269.4,117.1 269.7,118.8 270.0,121.3 270.3,122.4 270.6,121.0 270.9,122.3 271.2,118.4 271.5,118.9 271.8,120.1 272.1,119.4 272.4,119.2 272.7,120.6 273.0,122.5 273.3,120.8 273.6,120.9 273.9,120.3 274.2,119.5 274.5,121.7 274.8,122.3 275.1,122.3 275.4,121.3 275.7,121.7 276.0,119.4 276.3,121.8 276.6,122.3 276.9,122.2 277.2,121.1 277.5,120.4 277.8,118.9 278.1,121.4 278.4,119.9 278.7,120.3 279.0,122.1 279.3,122.1 279.6,119.3 279.9,119.5 280.2,121.7 280.5,119.0 280.8,119.4 281.1,119.6 281.4,121.1 281.7,119.5 282.0,119.6 282.3,120.4 282.6,122.2 282.9,120.4 283.2,121.0 283.5,120.9 283.8,118.4 284.1,121.0 284.4,122.4 284.7,120.8 285.0,121.5 285.3,121.1 285.6,121.2 285.9,122.4 286.2,120.5 286.5,122.0 286.8,122.1 287.1,122.3 287.4,121.6 287.7,120.6 288.0,122.2 288.3,118.9 288.6,116.5 288.9,119.0 289.2,122.5 289.5,120.8 289.8,119.3 290.1,117.6" fill="none" stroke="#111111" stroke-width="1.1" stroke-linejoin="round"/>
<polyline points="45.3,157.8 45.8,158.9 46.2,157.8 46.7,159.6 47.2,157.8 47.7,159.1 48.1,158.5 48.6,159.5 49.1,158.8 49.6,157.9 50.1,160.8 50.6,160.1 51.1,159.3 51.6,160.2 52.1,161.1 52.6,159.1 53.1,160.1 53.6,160.9 54.1,161.0 54.6,159.9 55.1,157.8 55.6,161.2 56.1,160.1 56.7,159.6 57.2,159.1 57.7,159.5 58.2,158.6 58.7,157.8 59.2,157.9 59.7,158.0 60.2,157.9 60.7,157.2 61.2,159.0 61.8,156.9 62.3,158.9 62.8,157.0 63.3,158.4 63.8,159.3 64.3,158.0 64.8,157.0 65.3,157.9 65.8,158.0 66.3,156.0 66.8,157.2 67.4,158.0 67.9,157.3 68.4,157.9 68.9,158.6 69.4,158.6 69.9,158.8 70.4,158.4 70.9,157.5 71.4,157.8 71.9,157.5 72.4,157.5 72.9,157.6 73.4,156.0 73.9,157.5 74.4,157.8 74.9,156.9 75.4,158.0 75.9,158.6 76.4,158.0 77.0,160.4 77.5,155.6 78.0,158.2 78.5,156.6 79.0,159.6 79.5,161.5 80.0,156.0 80.5,158.7 81.0,159.1 81.4,158.1 81.9,159.0 82.4,156.0 82.9,159.1 83.4,158.6 83.9,158.1 84.4,157.4 84.8,158.7 85.3,157.4 85.8,158.1 86.3,157.3 86.8,155.6 87.3,158.1 87.8,158.5 88.3,159.3 88.8,157.7 89.4,158.8 89.9,159.6 90.4,159.3 90.9,160.6 91.4,161.6 91.9,159.1 92.4,158.5 92.9,162.0 93.4,163.2 93.9,163.1 94.4,162.6 95.0,160.8 95.5,160.4 96.0,161.7 96.5,159.5 97.0,158.2 97.6,158.8 98.1,162.1 98.6,161.4 99.1,158.6 99.6,158.5 100.1,159.4 100.7,158.3 101.2,160.4 101.7,158.9 102.2,157.7 102.7,160.2 103.2,158.1 103.7,159.0 104.2,158.8 104.7,158.6 105.2,159.4 105.8,158.4 106.3,157.2 106.8,156.9 107.3,158.0 107.8,158.6 108.3,159.5 108.8,160.7 109.3,162.4 109.8,163.2 110.3,163.4 110.8,164.7 111.3,162.3 111.8,163.5 112.3,163.4 112.8,162.6 113.3,161.1 113.8,160.9 114.3,162.0 114.8,161.0 115.3,161.7 115.8,161.4 116.4,160.9 116.9,162.0 117.4,160.0 117.9,160.1 118.4,159.6 118.9,159.5 119.4,161.9 119.9,162.0 120.5,160.1 121.0,160.6 121.5,161.1 122.0,160.6 122.5,161.0 123.0,158.4 123.5,159.0 124.1,160.1 124.6,161.1 125.1,159.6 125.6,158.6 126.1,159.1 126.6,158.8 127.1,158.6 127.6,161.1 128.1,158.8 128.6,159.5 129.1,161.8 129.6,160.7 130.1,159.9 130.6,158.8 131.1,159.8 131.6,161.0 132.0,159.9 132.5,160.5 133.0,159.3 133.5,159.6 134.0,158.8 134.5,159.4 135.0,160.3 135.4,157.4 135.9,158.7 136.4,159.0 136.9,158.1 137.4,158.4 137.9,159.6 138.4,161.0 138.8,159.6 139.3,159.3 139.8,157.4 140.3,161.1 140.8,159.2 141.3,159.2 141.8,158.1 142.2,159.3 142.7,158.2 143.2,159.5 143.7,160.0 144.2,159.8 144.7,160.3 145.2,159.3 145.6,162.0 146.1,160.0 146.6,159.0 147.1,161.0 147.5,165.5 147.9,170.3 148.4,172.3 148.8,174.2 149.2,168.0 149.6,164.5 150.0,163.1 150.4,159.4 150.9,158.4 151.4,158.6 151.9,158.2 152.3,158.1 152.8,158.8 153.3,157.8 153.8,155.3 154.3,157.7 154.8,156.7 155.3,158.2 155.8,156.8 156.4,157.6 156.9,159.6 157.4,156.1 157.9,156.0 158.4,155.6 158.9,154.5 159.4,155.1 159.9,157.5 160.4,156.6 160.9,155.4 161.4,155.8 162.0,158.1 162.5,156.7 163.0,157.3 163.5,158.1 164.0,159.2 164.5,159.9 165.0,159.1 165.5,158.2 166.0,158.4 166.5,160.1 167.0,159.8 167.5,158.1 168.0,159.0 168.5,158.9 169.0,158.8 169.5,158.1 170.0,157.1 170.5,157.9 171.0,156.7 171.6,159.5 172.1,158.7 172.6,156.8 173.1,159.4 173.6,158.8 174.1,155.8 174.6,159.7 175.1,158.5 175.6,159.7 176.1,156.2 176.6,158.0 177.2,157.8 177.7,157.5 178.2,157.3 178.7,158.2 179.2,155.4 179.7,155.6 180.2,155.4 180.7,156.1 181.2,156.0 181.8,156.9 182.3,156.7 182.8,156.4 183.3,155.6 183.8,155.7 184.3,157.1 184.8,156.9 185.3,156.2 185.8,155.8 186.3,157.7 186.8,155.5 187.3,156.8 187.8,157.3 188.3,155.8 188.8,157.0 189.3,154.9 189.8,157.2 190.3,156.3 190.8,154.4 191.3,156.8 191.9,155.2 192.4,157.4 192.9,155.4 193.4,155.9 193.9,156.4 194.4,155.8 194.9,156.4 195.4,155.6 195.9,157.0 196.3,156.3 196.8,156.8 197.3,151.2 197.8,158.7 198.3,156.6 198.9,153.2 199.4,156.8 199.9,157.6 200.5,158.8 201.0,154.7 201.5,159.9 202.0,156.8 202.5,161.8 202.9,157.2 203.4,158.9 203.9,157.1 204.4,155.8 204.9,160.2 205.4,160.0 205.8,161.3 206.3,160.2 206.8,157.6 207.3,155.7 207.8,157.7 208.3,157.8 208.9,157.6 209.4,160.3 209.9,159.9 210.4,158.9 210.9,159.8 211.4,159.3 211.9,160.1 212.5,161.2 213.0,161.6 213.5,158.6 214.0,157.0 214.5,162.6 215.0,160.1 215.5,162.0 216.0,156.8 216.6,159.3 217.1,160.0 217.6,157.2 218.1,159.0 218.6,161.4 219.1,162.0 219.6,163.0 220.1,158.5 220.6,157.7 221.2,161.5 221.7,162.4 222.2,161.2 222.7,158.5 223.2,162.6 223.7,162.8 224.2,162.5 224.8,160.7 225.3,162.3 225.8,163.4 226.3,161.6 226.8,159.9 227.3,164.8 227.8,165.9 228.3,163.5 228.9,163.6 229.4,159.8 229.9,158.8 230.4,159.3 230.9,161.0 231.4,162.8 231.9,161.6 232.4,163.8 232.9,163.0 233.5,162.0 234.0,161.5 234.5,162.5 235.0,160.2 235.5,160.0 236.0,158.8 236.5,160.3 237.0,160.7 237.5,160.0 238.1,159.7 238.6,159.1 239.1,159.3 239.6,157.9 240.1,159.7 240.6,158.5 241.1,157.8 241.7,158.0 242.2,157.9 242.7,159.1 243.2,159.2 243.7,157.2 244.2,158.9 244.8,158.8 245.3,157.5 245.8,156.7 246.3,157.2 246.8,157.2 247.3,157.9 247.8,157.3 248.3,155.8 248.8,157.6 249.4,156.1 249.9,157.9 250.4,156.2 250.9,156.5 251.4,156.3 251.9,156.4 252.4,157.8 252.9,157.5 253.4,157.3 253.9,157.1 254.4,155.6 254.9,156.4 255.4,156.4 256.0,156.0 256.5,157.2 257.0,156.2 257.5,156.2 258.0,156.0 258.5,155.2 259.0,157.4 259.5,158.0 260.1,157.2 260.6,156.4 261.1,155.1 261.6,157.4 262.1,158.4 262.6,157.7 263.1,158.3 263.7,158.8 264.2,158.6 264.7,157.4 265.2,158.6 265.7,158.4 266.2,156.6 266.7,157.5 267.2,156.7 267.8,157.7 268.3,158.3 268.8,156.9 269.3,156.2 269.8,158.8 270.3,158.1 270.8,159.0 271.3,156.8 271.8,158.8 272.4,159.7 272.9,159.8 273.4,158.1 273.9,158.6 274.4,158.3 274.9,159.3 275.4,159.5 276.0,158.8 276.5,157.7 277.0,159.5 277.5,158.5 278.0,159.4 278.5,159.1 279.0,160.2 279.5,159.8 280.0,158.5 280.5,159.2 281.0,160.3 281.5,158.5 282.0,159.2 282.5,159.9 283.0,159.9 283.5,159.2 284.0,157.7 284.5,157.7 285.1,158.8 285.6,158.8 286.1,160.5 286.6,157.7 287.1,159.2 287.6,158.8 288.1,156.8 288.7,157.4 289.2,158.1 289.7,157.5 290.2,157.8" fill="none" stroke="#111111" stroke-width="1.4" stroke-linejoin="round"/>
<polyline points="45.3,154.2 45.8,155.1 46.3,153.5 46.8,155.2 47.3,153.9 47.8,154.1 48.3,155.6 48.8,154.3 49.3,155.4 49.8,157.2 50.3,155.3 50.8,155.1 51.3,156.1 51.8,154.6 52.3,156.3 52.9,153.2 53.4,155.4 53.9,153.9 54.4,153.4 54.9,156.5 55.4,153.1 56.0,156.2 56.5,154.7 57.0,155.6 57.5,152.4 58.0,155.0 58.5,155.3 59.0,153.2 59.5,153.1 60.0,156.3 60.6,153.3 61.1,152.5 61.6,152.2 62.1,153.4 62.6,153.2 63.1,152.8 63.6,154.5 64.1,151.7 64.5,152.4 65.0,153.4 65.5,150.1 66.0,152.4 66.5,153.9 67.0,150.3 67.5,151.1 67.9,151.7 68.4,151.1 68.9,154.5 69.4,152.1 69.9,154.9 70.4,156.0 70.9,152.0 71.3,153.5 71.8,151.4 72.3,154.7 72.8,152.7 73.3,153.4 73.8,154.0 74.3,154.8 74.8,153.8 75.3,154.5 75.8,153.9 76.3,154.9 76.8,153.5 77.3,155.2 77.8,152.9 78.3,155.0 78.8,158.4 79.4,156.4 79.9,155.1 80.4,157.3 80.9,155.6 81.5,154.5 82.0,155.4 82.5,157.1 83.0,156.4 83.5,155.6 84.1,154.3 84.6,153.9 85.1,156.8 85.6,155.1 86.1,153.4 86.5,151.7 87.0,152.4 87.5,157.0 88.0,152.2 88.5,152.1 89.0,151.1 89.5,149.3 90.0,147.8 90.5,145.1 91.0,146.3 91.5,150.6 92.0,148.4 92.5,151.3 93.0,149.0 93.5,150.8 94.0,151.6 94.5,152.6 95.0,150.0 95.5,152.3 96.1,152.1 96.6,150.7 97.1,152.3 97.6,150.7 98.1,150.9 98.6,151.8 99.1,148.3 99.6,151.5 100.1,150.3 100.7,149.7 101.2,150.9 101.7,152.3 102.2,150.8 102.7,152.8 103.2,149.6 103.7,149.4 104.2,153.1 104.7,151.6 105.2,152.3 105.8,150.1 106.3,152.1 106.8,151.4 107.3,151.9 107.8,151.1 108.3,152.6 108.8,150.2 109.3,149.6 109.8,148.9 110.2,152.0 110.7,149.5 111.2,149.0 111.7,149.0 112.2,150.2 112.6,149.8 113.1,151.6 113.6,151.8 114.1,152.5 114.5,152.6 115.0,154.4 115.5,153.5 116.0,153.8 116.5,153.6 116.9,153.4 117.4,149.9 117.9,151.6 118.4,150.9 118.9,153.0 119.4,150.2 119.9,151.4 120.5,152.0 121.0,152.1 121.5,153.9 122.0,152.2 122.5,154.0 123.0,151.0 123.5,150.5 124.1,154.3 124.6,153.3 125.1,153.4 125.6,153.2 126.1,153.9 126.6,152.0 127.0,154.9 127.5,153.3 128.0,155.4 128.5,154.5 129.0,151.8 129.4,152.5 129.9,155.5 130.4,153.8 130.9,153.3 131.3,154.0 131.8,153.1 132.3,152.8 132.8,153.6 133.3,153.5 133.8,155.2 134.4,153.3 134.9,155.5 135.4,155.3 135.9,155.1 136.4,154.2 136.9,153.0 137.4,153.0 137.9,152.6 138.4,151.9 138.9,152.7 139.4,152.0 140.0,154.9 140.5,153.5 141.0,152.2 141.5,150.4 142.0,152.7 142.5,152.4 143.0,151.7 143.5,151.7 143.9,150.4 144.4,154.1 144.9,153.4 145.4,156.9 146.0,154.4 146.5,155.1 147.1,157.9 147.6,156.2 148.0,156.1 148.5,155.3 149.0,154.9 149.5,157.4 149.9,156.7 150.4,157.5 150.9,154.9 151.4,155.3 151.9,154.2 152.3,156.5 152.8,153.5 153.3,156.0 153.8,156.7 154.3,157.2 154.8,154.3 155.3,156.9 155.8,154.7 156.4,154.7 156.9,154.1 157.4,157.3 157.9,158.0 158.4,155.3 158.9,155.1 159.4,155.7 159.9,159.3 160.4,157.4 160.9,155.4 161.4,153.8 162.0,155.3 162.5,157.6 163.0,158.5 163.5,155.8 164.0,155.2 164.5,155.4 165.0,153.6 165.5,157.0 166.0,154.4 166.5,157.0 167.0,153.5 167.5,153.9 168.0,155.8 168.5,154.4 169.0,156.3 169.5,155.2 170.0,153.6 170.5,155.8 171.0,156.0 171.6,152.4 172.1,157.1 172.6,155.3 173.1,155.5 173.6,152.1 174.1,153.5 174.6,153.9 175.1,155.6 175.6,152.3 176.1,153.0 176.6,151.4 177.2,153.6 177.7,154.3 178.2,151.6 178.7,152.9 179.2,154.2 179.7,155.7 180.2,154.6 180.7,153.5 181.2,152.4 181.8,152.8 182.3,153.2 182.8,154.3 183.3,154.2 183.8,156.4 184.3,154.8 184.8,153.1 185.3,156.5 185.8,155.9 186.3,154.9 186.8,153.9 187.3,152.6 187.8,153.7 188.3,156.3 188.8,154.2 189.3,153.6 189.8,155.4 190.3,155.3 190.8,155.6 191.3,155.4 191.9,156.2 192.4,153.2 192.9,155.3 193.4,152.7 193.9,154.6 194.4,153.8 194.9,153.8 195.4,154.6 195.9,153.2 196.3,155.7 196.8,155.0 197.3,153.2 197.8,151.5 198.2,151.0 198.7,151.5 199.1,152.2 199.6,154.7 200.1,163.6 200.7,160.3 201.2,162.7 201.7,157.1 202.2,155.7 202.7,154.8 203.2,154.1 203.7,150.6 204.2,155.9 204.8,150.2 205.3,153.2 205.8,147.4 206.3,154.8 206.8,157.5 207.3,159.3 207.8,159.0 208.4,156.9 208.9,155.4 209.4,149.4 209.9,152.3 210.4,148.9 210.9,156.0 211.4,155.5 211.9,154.5 212.4,153.2 212.9,153.8 213.4,159.5 214.0,159.4 214.5,155.4 215.0,158.6 215.5,152.2 216.0,151.3 216.5,154.4 217.0,153.4 217.6,154.0 218.1,155.6 218.6,161.9 219.1,153.4 219.6,154.9 220.1,155.7 220.6,155.2 221.1,157.7 221.6,159.8 222.2,153.2 222.7,156.7 223.2,155.9 223.7,157.6 224.2,154.7 224.7,155.5 225.2,155.6 225.8,163.5 226.3,164.1 226.8,165.2 227.3,163.2 227.8,171.3 228.3,161.8 228.8,151.6 229.3,154.4 229.9,157.2 230.4,157.7 230.9,157.8 231.4,157.4 231.9,155.0 232.4,154.8 232.9,153.8 233.4,155.9 234.0,156.7 234.5,155.6 235.0,154.6 235.5,152.9 236.0,155.5 236.5,153.1 237.1,152.6 237.6,154.1 238.1,153.0 238.6,150.7 239.1,153.4 239.6,154.0 240.1,155.5 240.6,155.1 241.1,154.7 241.6,153.0 242.1,153.4 242.7,154.6 243.2,155.0 243.7,153.7 244.2,154.4 244.7,154.4 245.2,154.9 245.6,155.1 246.1,154.5 246.6,153.6 247.1,156.0 247.6,156.3 248.1,154.7 248.6,155.8 249.0,155.2 249.5,155.4 250.0,155.3 250.5,154.1 251.0,155.4 251.5,155.8 252.0,153.9 252.5,156.7 253.0,156.8 253.5,156.6 254.0,156.7 254.5,155.5 255.0,154.5 255.5,154.2 256.0,154.0 256.5,154.9 257.0,154.7 257.5,155.3 258.1,152.6 258.6,156.7 259.1,156.5 259.6,154.2 260.1,154.8 260.6,154.5 261.1,154.2 261.7,153.7 262.2,153.7 262.7,152.9 263.2,153.9 263.7,153.8 264.2,154.2 264.6,153.1 265.1,154.0 265.6,154.1 266.1,154.7 266.6,153.2 267.1,154.7 267.5,155.3 268.0,155.0 268.5,154.1 269.0,154.0 269.5,154.2 270.0,155.1 270.5,155.8 271.0,154.1 271.5,153.5 272.0,154.5 272.5,154.2 273.0,153.1 273.5,153.2 274.0,153.7 274.5,154.4 275.0,152.6 275.5,152.8 276.0,154.3 276.5,152.7 277.0,154.1 277.5,154.4 278.0,154.0 278.5,153.2 279.0,154.2 279.5,154.0 280.0,154.7 280.5,153.6 281.0,155.5 281.5,152.8 282.0,154.2 282.5,154.3 283.0,155.2 283.5,153.6 284.0,154.6 284.5,153.5 285.0,154.7 285.5,155.6 286.0,153.4 286.5,154.2 287.0,152.8 287.5,154.5 288.1,154.5 288.6,153.2 289.1,151.9 289.7,153.3 290.2,152.7" fill="none" stroke="#ff1a1a" stroke-width="1.4" stroke-linejoin="round"/>
<polyline points="45.3,151.4 45.8,151.2 46.2,150.9 46.7,148.0 47.2,149.1 47.7,151.2 48.1,148.3 48.6,150.7 49.1,151.4 49.6,150.4 50.1,150.9 50.6,149.6 51.1,148.8 51.6,150.1 52.1,150.2 52.6,150.5 53.1,151.5 53.6,150.8 54.1,151.3 54.6,151.5 55.1,150.9 55.6,152.8 56.1,151.2 56.7,150.7 57.2,150.3 57.7,149.8 58.2,151.8 58.7,150.4 59.2,149.1 59.7,149.6 60.2,150.1 60.7,149.7 61.1,151.3 61.6,149.0 62.1,150.7 62.6,150.4 63.2,148.1 63.7,148.6 64.3,147.6 64.8,147.9 65.3,146.5 65.8,146.9 66.2,144.5 66.7,144.7 67.2,146.3 67.7,146.2 68.2,145.2 68.7,144.7 69.2,146.6 69.6,143.4 70.1,144.9 70.6,146.6 71.1,146.7 71.6,144.9 72.0,144.0 72.5,147.5 73.0,146.2 73.5,145.1 73.9,146.1 74.4,146.9 74.9,143.8 75.4,148.1 75.9,148.2 76.3,145.8 76.8,149.2 77.3,147.0 77.8,150.6 78.4,150.1 78.9,152.3 79.5,149.6 80.1,148.8 80.6,148.5 81.2,145.3 81.7,145.1 82.2,145.4 82.7,145.5 83.1,144.3 83.6,145.9 84.1,145.8 84.6,145.2 85.1,146.7 85.6,144.3 86.1,145.8 86.5,143.6 87.0,144.8 87.5,141.7 88.0,143.7 88.6,142.7 89.1,141.8 89.7,141.2 90.3,143.4 90.8,145.0 91.4,145.4 91.9,147.1 92.3,147.1 92.8,147.1 93.3,146.6 93.8,147.6 94.2,148.5 94.7,147.4 95.2,147.3 95.7,149.4 96.2,149.1 96.6,149.1 97.1,149.5 97.6,148.0 98.1,148.4 98.6,149.7 99.1,147.9 99.6,148.4 100.0,148.9 100.5,148.9 101.0,148.2 101.5,149.5 102.0,148.2 102.5,149.0 103.0,149.3 103.4,148.7 103.9,148.7 104.4,146.6 104.9,146.3 105.4,147.1 105.9,148.2 106.4,149.3 106.8,146.4 107.3,148.0 107.8,146.8 108.3,146.9 108.8,147.2 109.3,147.9 109.8,147.2 110.2,148.0 110.7,145.5 111.2,147.2 111.7,147.0 112.2,146.2 112.6,146.7 113.1,145.8 113.6,145.3 114.1,146.1 114.5,146.0 115.0,149.8 115.5,146.4 116.0,148.8 116.5,147.4 116.9,147.6 117.4,148.2 117.9,146.8 118.4,148.7 118.9,148.1 119.4,146.1 119.9,148.3 120.3,148.3 120.8,148.2 121.3,149.4 121.8,147.3 122.3,148.5 122.9,149.0 123.4,147.6 123.9,149.9 124.4,147.2 124.9,147.5 125.3,149.6 125.8,148.0 126.3,149.1 126.8,147.7 127.3,149.7 127.7,148.7 128.2,150.5 128.7,148.8 129.2,151.1 129.6,150.6 130.1,151.2 130.6,150.8 131.1,150.8 131.6,149.0 132.0,147.4 132.5,149.9 133.0,148.7 133.5,148.9 134.0,149.6 134.5,146.8 135.0,147.9 135.4,147.8 135.9,147.1 136.4,148.3 136.9,147.6 137.4,146.8 137.9,146.7 138.4,148.5 138.8,147.0 139.3,148.3 139.8,148.2 140.3,145.7 140.8,146.4 141.3,147.4 141.8,147.7 142.2,148.0 142.7,147.9 143.2,148.0 143.7,146.4 144.2,147.1 144.7,148.6 145.2,147.8 145.6,149.9 146.1,147.6 146.6,150.4 147.1,150.0 147.6,147.9 148.0,150.7 148.5,149.8 149.0,149.3 149.5,147.9 149.9,148.3 150.4,150.1 150.9,147.8 151.4,145.1 151.9,148.0 152.3,147.8 152.8,149.0 153.3,148.9 153.8,148.4 154.3,148.3 154.8,150.0 155.3,147.2 155.7,150.5 156.2,147.6 156.7,146.8 157.2,148.5 157.7,148.3 158.2,146.7 158.7,148.7 159.1,146.0 159.6,147.0 160.1,149.2 160.6,147.8 161.1,146.8 161.6,148.8 162.1,149.2 162.5,148.3 163.0,146.5 163.5,148.1 164.0,148.9 164.5,149.2 165.0,150.2 165.5,147.9 165.9,147.5 166.4,147.9 166.9,149.1 167.4,146.7 167.9,149.3 168.3,145.3 168.8,149.3 169.3,148.0 169.8,149.4 170.2,149.9 170.7,148.2 171.2,149.3 171.7,149.7 172.2,150.0 172.6,148.4 173.1,148.4 173.6,147.4 174.1,152.1 174.6,149.1 175.1,148.9 175.6,147.4 176.0,149.9 176.5,148.2 177.0,150.1 177.5,149.4 178.0,148.4 178.5,149.0 179.0,147.0 179.4,147.7 179.9,147.3 180.4,146.5 180.9,147.7 181.5,146.4 182.0,146.9 182.6,140.8 183.2,144.7 183.7,145.6 184.3,147.2 184.8,148.1 185.3,148.1 185.8,147.7 186.2,147.2 186.7,148.2 187.2,148.1 187.7,145.8 188.2,147.5 188.6,146.5 189.1,146.8 189.6,148.3 190.1,148.3 190.5,148.5 191.0,147.6 191.5,148.3 192.0,147.5 192.5,148.9 192.9,149.2 193.4,150.3 193.9,149.8 194.4,147.7 194.9,148.3 195.4,148.0 195.9,149.5 196.3,153.2 196.8,151.1 197.3,145.8 197.8,147.8 198.2,147.2 198.7,150.1 199.1,148.6 199.6,149.3 200.1,152.2 200.6,147.4 201.1,147.5 201.7,153.0 202.2,150.0 202.7,148.0 203.2,145.7 203.7,146.6 204.2,144.7 204.7,149.4 205.2,149.2 205.8,150.9 206.3,148.6 206.8,147.4 207.3,147.2 207.8,152.1 208.3,145.0 208.8,148.6 209.4,148.1 209.9,149.1 210.4,147.1 210.9,148.7 211.4,149.1 211.9,147.2 212.4,146.5 212.9,146.9 213.4,145.3 214.0,146.6 214.5,146.3 215.0,147.1 215.5,149.1 216.0,148.9 216.5,145.5 217.0,147.3 217.6,146.6 218.1,147.4 218.6,145.8 219.1,146.1 219.6,144.6 220.1,144.1 220.6,147.4 221.1,148.4 221.6,147.3 222.2,147.0 222.7,146.8 223.2,145.6 223.7,143.2 224.2,147.5 224.7,146.3 225.2,144.5 225.8,143.4 226.3,147.3 226.8,141.1 227.3,147.1 227.8,144.2 228.3,146.7 228.8,140.0 229.3,142.2 229.9,142.4 230.4,143.9 230.9,144.3 231.4,143.6 231.9,145.4 232.4,143.3 232.9,143.5 233.4,139.2 234.0,132.6 234.5,140.4 235.0,149.0 235.5,148.7 236.0,148.3 236.5,150.1 237.0,150.5 237.5,152.4 238.0,150.5 238.6,152.5 239.1,151.4 239.6,152.1 240.1,152.4 240.6,152.7 241.1,152.9 241.6,153.3 242.1,151.2 242.7,152.5 243.2,152.0 243.7,151.6 244.2,150.1 244.7,151.3 245.2,150.4 245.8,150.7 246.3,150.1 246.8,150.8 247.3,151.0 247.8,151.0 248.3,149.8 248.8,150.7 249.4,150.9 249.9,148.9 250.4,150.8 250.9,148.5 251.4,150.0 251.9,150.1 252.4,150.8 252.9,149.8 253.4,149.2 254.0,149.0 254.5,148.6 255.0,150.2 255.5,149.4 256.0,149.0 256.5,150.0 257.0,148.9 257.5,149.1 258.1,149.0 258.6,150.6 259.1,150.4 259.6,149.0 260.1,147.8 260.6,149.2 261.1,148.9 261.7,149.0 262.2,149.1 262.7,148.3 263.2,149.3 263.7,149.1 264.2,148.5 264.7,147.9 265.2,147.8 265.8,148.7 266.3,147.1 266.8,147.8 267.3,147.3 267.8,146.7 268.3,148.2 268.8,147.6 269.3,147.8 269.8,148.6 270.4,146.9 270.9,148.2 271.4,148.7 271.9,149.3 272.4,147.9 272.9,149.5 273.4,149.3 274.0,150.4 274.5,150.3 275.0,150.0 275.5,151.2 276.0,149.4 276.5,149.0 277.0,149.0 277.5,148.4 278.1,149.1 278.6,147.5 279.1,148.9 279.6,149.2 280.1,149.6 280.6,148.4 281.1,149.7 281.6,148.2 282.1,148.7 282.7,147.3 283.2,148.3 283.7,148.4 284.2,150.3 284.7,149.6 285.2,148.4 285.8,149.8 286.3,149.8 286.8,149.3 287.3,149.6 287.8,149.2 288.3,148.8 288.8,147.7 289.2,148.9 289.7,149.8 290.2,148.6" fill="none" stroke="#1a1aff" stroke-width="1.4" stroke-linejoin="round"/>
<polyline points="45.3,230.0 46.1,229.6 46.8,229.7 47.6,230.3 48.3,231.1 49.1,231.2 49.9,231.0 50.8,231.7 51.6,231.8 52.4,232.4 53.3,232.2 54.1,232.1 55.0,233.3 55.8,234.2 56.7,233.9 57.5,233.2 58.4,232.5 59.2,230.8 60.1,230.1 60.9,230.6 61.8,229.5 62.6,229.0 63.5,227.5 64.3,228.0 65.2,225.9 66.0,225.8 66.8,226.1 67.7,226.1 68.6,224.9 69.4,224.8 70.2,224.8 71.1,223.4 72.0,224.1 72.8,223.6 73.6,223.6 74.4,224.5 75.3,225.0 76.1,225.2 76.9,225.8 77.8,226.6 78.7,226.2 79.5,226.9 80.3,226.6 81.2,227.3 82.1,226.6 82.9,227.0 83.8,227.1 84.6,227.3 85.5,228.2 86.3,227.7 87.1,227.8 88.0,226.9 88.8,226.6 89.7,228.0 90.5,230.6 91.3,230.8 92.2,230.5 93.0,231.1 93.8,231.4 94.7,231.8 95.6,232.8 96.4,232.4 97.2,231.1 98.1,230.3 99.0,230.0 99.8,229.1 100.7,229.1 101.5,229.0 102.4,229.3 103.2,230.0 104.1,231.5 104.9,232.4 105.7,233.8 106.6,235.0 107.4,235.9 108.3,233.6 109.1,234.0 110.0,233.4 110.8,233.1 111.7,232.1 112.5,232.6 113.3,233.0 114.2,233.1 115.0,232.8 115.8,233.0 116.7,234.0 117.6,233.3 118.4,234.8 119.3,234.4 120.0,234.5 120.8,233.2 121.7,232.9 122.6,232.8 123.4,231.3 124.2,232.4 125.1,230.4 126.0,230.1 126.8,230.2 127.6,230.8 128.4,231.4 129.3,231.3 130.1,231.8 130.9,231.8 131.8,231.7 132.7,230.8 133.5,232.3 134.3,231.6 135.2,231.1 136.1,230.4 136.9,230.3 137.8,231.5 138.6,232.7 139.5,234.5 140.3,234.6 141.2,234.8 142.0,233.5 142.8,233.2 143.7,233.3 144.5,233.4 145.4,234.9 146.2,235.8 147.1,238.7 147.9,240.0 148.7,236.5 149.6,234.4 150.4,230.8 151.3,229.8 152.1,229.3 153.0,227.3 153.8,227.0 154.7,226.6 155.5,226.2 156.3,225.1 157.2,225.1 158.1,225.0 158.9,223.2 159.8,224.9 160.6,223.8 161.5,226.0 162.3,225.9 163.2,226.7 164.0,227.1 164.8,227.6 165.7,227.9 166.5,227.5 167.4,227.4 168.2,226.5 169.0,226.1 169.9,226.3 170.7,226.5 171.5,225.9 172.4,226.7 173.2,225.8 174.1,225.2 174.9,224.5 175.8,223.8 176.7,224.4 177.5,223.7 178.3,222.6 179.2,223.0 180.1,221.6 180.9,222.0 181.7,220.8 182.6,220.5 183.4,220.3 184.3,221.1 185.1,222.2 186.0,222.2 186.8,224.6 187.7,225.7 188.5,226.4 189.3,227.9 190.2,225.4 191.0,223.6 191.9,221.1 192.7,220.9 193.6,220.1 194.4,219.8 195.2,220.0 196.0,220.3 196.8,220.3 197.6,220.9 198.3,221.3 199.1,222.1 199.9,221.6 200.7,223.1 201.6,222.5 202.4,223.4 203.2,224.0 204.0,224.4 204.8,226.0 205.7,225.8 206.5,227.2 207.3,227.6 208.1,227.7 208.9,228.9 209.8,230.1 210.6,230.2 211.4,231.2 212.2,232.2 212.9,233.8 213.7,234.9 214.5,236.3 215.5,234.2 216.5,231.8 217.3,230.5 218.1,229.7 218.8,229.2 219.6,228.0 220.4,227.9 221.2,229.0 222.1,228.4 222.9,229.4 223.7,228.8 224.5,230.6 225.3,229.9 226.2,231.4 227.0,232.2 227.8,231.8 228.6,233.4 229.4,232.9 230.1,233.0 230.9,234.6 231.7,235.1 232.4,235.2 233.2,234.7 234.0,236.3 234.8,235.9 235.5,235.6 236.2,235.4 237.0,234.5 237.8,234.3 238.6,234.5 239.3,233.6 240.1,232.0 240.9,231.1 241.7,230.7 242.6,230.2 243.4,229.2 244.2,227.6 245.0,227.4 245.8,226.5 246.7,226.3 247.5,225.3 248.3,224.2 249.1,224.7 249.9,224.3 250.8,225.3 251.6,224.7 252.4,225.3 253.2,225.7 254.0,225.1 254.9,225.4 255.7,225.1 256.5,226.2 257.3,225.9 258.1,225.6 259.0,225.7 259.8,224.4 260.6,225.1 261.5,225.1 262.3,225.0 263.2,225.4 264.1,225.9 264.9,224.9 265.8,224.7 266.6,225.6 267.3,226.6 268.1,227.6 268.8,227.7 269.6,228.1 270.4,226.9 271.3,227.3 272.1,226.7 272.9,226.3 273.7,227.2 274.5,226.4 275.4,226.6 276.2,227.1 277.0,227.5 277.8,226.7 278.6,227.6 279.5,227.4 280.3,228.2 281.1,228.7 281.8,229.2 282.5,230.1 283.2,231.3 284.0,229.4 284.8,230.5 285.5,229.9 286.3,229.3 287.1,229.0 287.9,228.9 288.6,229.1 289.4,229.7 290.2,229.2" fill="none" stroke="#333" stroke-width="1.0" stroke-linejoin="round"/>
<polyline points="45.3,215.0 46.0,215.9 46.7,214.3 47.4,215.6 48.2,215.9 49.1,215.8 49.9,215.0 50.8,215.5 51.6,216.8 52.5,216.0 53.3,216.6 54.1,217.0 55.0,216.4 55.8,216.1 56.6,215.2 57.5,213.1 58.4,214.2 59.2,212.6 60.0,211.9 60.9,212.4 61.8,211.0 62.6,209.9 63.5,209.6 64.3,213.8 65.2,211.5 66.0,209.7 66.8,211.6 67.7,212.6 68.6,213.1 69.4,216.3 70.2,215.4 71.1,216.7 71.9,217.5 72.7,217.0 73.6,215.7 74.4,215.2 75.2,215.4 76.1,213.7 77.0,212.5 77.8,212.6 78.7,213.1 79.5,214.5 80.4,215.9 81.2,218.5 82.1,220.8 82.9,220.5 83.8,219.1 84.6,217.8 85.4,216.3 86.3,213.2 87.1,211.4 88.0,208.8 88.8,207.7 89.7,205.9 90.6,203.1 91.4,202.4 92.2,205.1 93.0,208.9 93.8,206.0 94.7,206.1 95.6,204.9 96.4,203.3 97.2,206.8 98.1,209.7 99.0,208.2 99.8,206.6 100.7,205.0 101.5,205.7 102.4,205.8 103.2,206.2 104.0,206.5 104.9,207.1 105.8,206.4 106.6,206.8 107.4,207.2 108.3,207.1 109.2,207.3 110.0,206.1 110.8,207.9 111.7,208.5 112.5,209.6 113.3,208.9 114.2,210.2 115.0,211.0 115.8,211.4 116.7,212.2 117.6,213.2 118.4,213.4 119.3,215.3 120.0,213.8 120.8,212.4 121.7,212.3 122.6,210.0 123.4,208.7 124.2,208.7 125.1,208.2 126.0,208.9 126.8,208.4 127.6,209.2 128.5,209.0 129.3,208.8 130.1,211.0 131.0,211.6 131.8,213.1 132.7,212.0 133.5,210.8 134.3,214.3 135.2,216.4 136.0,216.6 136.9,216.2 137.8,215.4 138.6,215.3 139.4,214.8 140.3,214.3 141.2,213.4 142.0,212.6 142.8,210.8 143.7,208.9 144.5,207.6 145.4,208.6 146.2,210.1 147.1,212.2 147.9,211.1 148.8,210.9 149.6,210.2 150.4,209.6 151.2,211.8 152.1,213.3 153.0,215.4 153.8,216.7 154.7,217.1 155.5,216.2 156.3,216.4 157.2,214.4 158.0,215.6 158.9,216.4 159.8,215.3 160.6,216.5 161.4,217.6 162.3,218.4 163.2,218.5 164.0,220.2 164.8,218.5 165.7,216.2 166.5,215.4 167.3,212.4 168.2,209.9 169.0,211.1 169.9,213.0 170.7,214.1 171.6,214.1 172.4,213.2 173.3,212.1 174.1,213.4 175.0,215.1 175.8,215.6 176.7,214.1 177.5,212.3 178.3,210.0 179.2,207.1 180.0,210.2 180.9,212.2 181.7,214.2 182.5,214.0 183.4,215.1 184.2,214.7 185.1,214.7 185.9,215.9 186.8,217.7 187.7,218.3 188.5,219.6 189.3,219.6 190.2,217.9 191.0,216.3 191.8,216.0 192.7,215.2 193.6,213.7 194.4,214.7 195.1,214.3 195.8,213.6 196.5,212.1 197.3,214.5 198.1,215.5 199.1,217.1 200.1,220.0 200.9,219.8 201.6,218.9 202.4,218.9 203.2,217.9 204.0,218.5 204.8,218.4 205.5,217.9 206.3,218.4 207.1,219.4 207.9,217.0 208.6,216.5 209.4,215.4 210.2,214.9 210.9,213.5 211.7,212.2 212.4,211.7 213.5,207.8 214.5,212.2 215.5,216.2 216.2,215.5 216.9,217.3 217.6,218.3 218.3,218.3 219.1,217.0 219.8,216.8 220.6,216.0 221.4,216.7 222.1,217.7 222.9,218.7 223.7,217.3 224.5,219.1 225.2,219.1 226.0,219.2 226.8,221.0 227.8,217.7 228.8,217.9 229.5,217.3 230.2,217.5 230.9,216.7 231.9,218.9 232.9,220.0 233.6,218.0 234.3,215.8 235.0,213.0 236.0,208.9 236.7,209.6 237.4,210.5 238.1,211.1 238.8,212.4 239.6,211.0 240.3,209.9 241.1,210.8 241.9,211.2 242.6,211.8 243.4,213.2 244.2,212.7 245.0,212.9 245.8,212.8 246.7,213.4 247.5,213.4 248.3,213.9 249.1,215.7 249.9,214.8 250.8,214.6 251.6,216.3 252.4,216.2 253.2,216.6 254.0,217.0 254.9,217.5 255.7,217.8 256.5,218.6 257.3,218.8 258.1,219.4 259.0,218.9 259.8,219.5 260.6,219.5 261.4,220.2 262.2,219.9 263.1,219.1 263.9,219.4 264.7,220.2 265.5,218.5 266.2,216.3 267.0,215.8 267.8,215.1 268.5,214.1 269.2,213.7 269.9,213.4 270.6,213.7 271.4,213.8 272.1,215.4 272.9,215.8 273.7,216.1 274.5,216.0 275.4,215.8 276.2,216.1 277.0,216.7 277.8,216.8 278.6,216.4 279.5,218.7 280.3,217.9 281.1,218.5 281.9,218.8 282.7,216.9 283.6,218.4 284.4,216.9 285.2,217.2 286.0,216.8 286.9,217.4 287.7,217.5 288.5,217.6 289.4,216.8 290.2,217.9" fill="none" stroke="#ff3a3a" stroke-width="1.0" stroke-linejoin="round"/>
<polyline points="45.3,198.4 46.3,198.9 47.4,199.4 48.5,199.0 49.7,199.7 50.8,199.9 52.0,199.5 53.3,199.2 54.1,199.2 55.0,200.7 55.9,199.7 56.7,198.8 57.5,199.5 58.4,200.3 59.6,201.5 60.9,202.7 61.8,204.4 62.6,204.6 63.5,201.1 64.3,198.4 65.4,196.6 66.6,194.9 67.7,194.1 68.8,193.6 70.0,192.9 71.1,191.3 72.2,190.7 73.3,190.7 74.4,190.2 75.3,190.9 76.1,192.1 77.0,192.9 78.2,194.4 79.5,196.1 80.3,193.9 81.2,192.2 82.5,190.5 83.7,187.8 84.6,187.8 85.4,185.7 86.3,185.5 87.2,185.4 88.0,186.1 89.2,188.8 90.5,191.5 91.8,192.5 93.0,192.8 93.8,193.0 94.7,193.7 95.6,195.0 96.4,195.8 97.3,197.5 98.5,196.5 99.8,194.2 100.9,195.1 102.1,195.6 103.2,194.8 104.3,195.3 105.5,194.9 106.6,194.2 107.7,194.3 108.9,193.0 110.0,191.9 111.1,192.3 112.2,192.3 113.3,192.4 114.4,192.6 115.6,192.8 116.7,192.6 117.6,192.3 118.4,191.9 119.3,190.4 120.0,192.0 120.8,194.1 121.7,196.8 122.8,197.4 124.0,199.0 125.1,199.8 126.2,200.4 127.4,201.3 128.5,202.0 129.8,202.9 131.0,204.0 132.2,205.5 133.5,207.6 134.4,205.1 135.2,202.9 136.1,200.7 137.3,200.2 138.6,199.1 139.4,198.1 140.3,197.1 141.6,198.2 142.8,199.7 143.7,200.9 144.5,201.5 145.4,202.2 146.7,201.0 147.9,200.1 149.0,201.3 150.2,202.1 151.3,202.4 152.6,201.0 153.8,200.5 154.7,199.3 155.5,197.5 156.4,196.5 157.7,197.2 158.9,197.8 160.2,197.2 161.4,197.5 162.5,196.5 163.7,195.2 164.8,194.4 165.7,195.8 166.5,196.6 167.4,197.1 168.7,199.0 169.9,199.7 171.2,198.6 172.4,198.5 173.5,198.3 174.7,198.8 175.8,198.9 176.9,198.0 178.1,197.4 179.2,197.1 180.3,197.4 181.5,196.3 182.6,196.9 183.8,195.2 185.1,193.4 186.0,195.0 186.8,196.3 187.7,196.9 188.8,195.6 189.9,195.7 191.0,194.3 192.1,195.1 193.3,194.6 194.4,195.5 195.2,195.7 196.0,195.9 197.1,198.4 198.1,200.6 199.1,201.0 200.2,201.4 201.2,202.6 202.2,200.9 203.2,200.6 204.2,199.6 205.2,201.0 206.3,201.8 207.3,202.6 208.3,202.3 209.4,201.8 210.4,201.0 211.4,204.5 212.4,206.8 213.4,207.0 214.5,207.2 215.5,203.5 216.5,198.6 217.6,195.9 218.6,194.5 219.6,194.3 220.7,193.0 221.7,192.4 222.7,192.8 223.7,193.4 224.7,194.7 225.8,193.3 226.8,190.2 227.8,190.5 228.9,191.1 229.9,191.1 230.9,192.0 231.9,192.6 232.9,193.5 234.0,194.9 235.0,200.4 236.0,205.9 237.1,207.2 238.1,209.1 239.1,209.7 240.1,211.9 241.1,213.6 242.1,211.8 243.2,209.8 244.2,207.7 245.3,206.2 246.3,204.2 247.3,204.2 248.4,203.3 249.4,202.9 250.4,202.6 251.4,202.3 252.4,202.9 253.5,202.3 254.5,202.8 255.5,202.3 256.6,201.6 257.6,201.7 258.6,201.2 259.6,200.9 260.6,200.4 261.7,200.5 262.7,199.3 263.7,200.2 264.8,200.1 265.8,199.8 266.8,199.7 267.8,200.0 268.9,198.3 269.9,198.4 270.9,197.7 271.9,197.5 272.9,197.3 274.0,197.3 275.0,197.5 276.0,198.8 277.0,200.3 278.0,199.7 279.1,199.5 280.1,198.2 281.1,199.2 282.2,199.4 283.2,200.3 284.2,199.3 285.3,199.0 286.3,198.6 287.3,198.8 288.2,198.7 289.2,199.4 290.2,199.4" fill="none" stroke="#1a1aff" stroke-width="1.05" stroke-linejoin="round"/>
<polyline points="45.3,263.0 45.8,263.7 46.3,262.6 46.8,262.0 47.3,262.5 47.8,263.7 48.3,263.5 48.8,262.2 49.3,261.8 49.8,262.1 50.3,263.0 50.8,262.8 51.3,262.4 51.8,262.3 52.3,262.5 52.8,262.0 53.3,262.3 53.8,262.6 54.3,263.7 54.8,263.1 55.3,263.5 55.8,262.4 56.3,263.0 56.8,262.9 57.3,262.4 57.8,262.4 58.3,263.1 58.8,262.6 59.3,263.3 59.8,264.0 60.3,264.5 60.8,264.7 61.3,262.9 61.8,263.0 62.3,262.3 62.8,263.1 63.3,262.9 63.8,262.9 64.3,263.1 64.8,262.4 65.3,262.5 65.8,262.1 66.3,263.7 66.8,262.9 67.3,262.7 67.8,261.4 68.3,260.9 68.8,261.1 69.3,262.3 69.8,262.9 70.3,263.0 70.8,262.3 71.3,263.7 71.8,262.5 72.3,261.9 72.8,262.5 73.3,261.9 73.8,262.4 74.3,263.1 74.8,262.8 75.3,263.0 75.8,262.8 76.3,262.2 76.8,260.2 77.3,260.4 77.8,261.4 78.3,260.8 78.8,261.2 79.3,261.9 79.8,263.1 80.3,261.9 80.8,261.9 81.3,262.3 81.8,262.8 82.3,261.7 82.8,263.4 83.3,262.4 83.8,263.2 84.3,262.8 84.8,263.0 85.3,263.9 85.8,263.8 86.3,263.3 86.8,262.3 87.3,262.0 87.8,261.2 88.3,263.2 88.8,261.9 89.3,260.4 89.8,262.5 90.3,263.4 90.8,262.8 91.3,263.3 91.8,262.4 92.3,262.1 92.8,262.6 93.3,262.9 93.8,262.4 94.3,263.6 94.8,263.6 95.3,263.2 95.8,262.1 96.3,262.4 96.8,262.3 97.3,262.3 97.8,263.0 98.3,262.4 98.8,262.6 99.3,263.2 99.8,263.1 100.3,264.5 100.8,262.4 101.3,262.4 101.8,261.7 102.3,262.0 102.8,264.0 103.3,262.2 103.8,262.2 104.3,262.8 104.8,262.7 105.3,263.3 105.8,261.9 106.3,262.9 106.8,262.1 107.3,261.4 107.8,262.3 108.3,262.8 108.8,262.2 109.3,261.8 109.8,262.0 110.3,262.2 110.8,262.2 111.3,261.7 111.8,260.5 112.3,262.3 112.8,262.5 113.3,261.7 113.8,261.0 114.3,261.2 114.8,261.5 115.3,260.5 115.8,262.4 116.3,262.7 116.8,262.4 117.3,262.7 117.8,262.8 118.3,263.4 118.8,263.1 119.3,263.7 119.8,264.3 120.3,263.3 120.8,262.6 121.3,262.0 121.8,262.1 122.3,261.8 122.8,262.1 123.3,262.5 123.8,262.9 124.3,261.9 124.8,262.9 125.3,262.5 125.8,262.5 126.3,262.1 126.8,260.9 127.3,261.8 127.8,260.9 128.3,262.4 128.8,262.5 129.3,263.6 129.8,263.6 130.3,263.6 130.8,264.1 131.3,263.3 131.8,264.0 132.3,263.3 132.8,263.1 133.3,262.4 133.8,262.8 134.3,263.2 134.8,262.5 135.3,261.6 135.8,262.0 136.3,262.5 136.8,262.4 137.3,261.8 137.8,261.6 138.3,261.8 138.8,260.3 139.3,260.9 139.8,262.6 140.3,261.7 140.8,261.9 141.3,263.4 141.8,263.5 142.3,263.7 142.8,263.1 143.3,261.9 143.8,264.2 144.3,263.6 144.8,263.3 145.3,264.1 145.8,263.9 146.3,263.3 146.8,262.2 147.3,262.2 147.8,262.3 148.3,261.9 148.8,261.6 149.3,261.3 149.8,261.8 150.3,261.7 150.8,262.3 151.3,263.1 151.8,263.1 152.3,262.8 152.8,263.8 153.3,263.7 153.8,262.1 154.3,261.8 154.8,262.3 155.3,261.8 155.8,262.6 156.3,261.4 156.8,260.5 157.3,262.1 157.8,262.7 158.3,261.5 158.8,262.0 159.3,263.2 159.8,262.1 160.3,261.5 160.8,261.1 161.3,261.0 161.8,260.5 162.3,261.1 162.8,260.7 163.3,261.6 163.8,263.5 164.3,262.3 164.8,263.0 165.3,263.6 165.8,261.5 166.3,262.0 166.8,262.2 167.3,262.1 167.8,262.9 168.3,262.4 168.8,262.7 169.3,262.3 169.8,262.3 170.3,261.9 170.8,263.7 171.3,263.1 171.8,262.1 172.3,263.6 172.8,264.2 173.3,263.3 173.8,262.5 174.3,262.0 174.8,263.1 175.3,262.6 175.8,262.1 176.3,262.8 176.8,262.5 177.3,262.5 177.8,263.8 178.3,263.8 178.8,264.1 179.3,263.7 179.8,264.0 180.3,263.2 180.8,263.6 181.3,263.8 181.8,262.9 182.3,261.8 182.8,262.5 183.3,262.4 183.8,262.9 184.3,262.3 184.8,262.8 185.3,263.3 185.8,264.6 186.3,264.9 186.8,264.1 187.3,264.4 187.8,263.1 188.3,263.6 188.8,263.2 189.3,263.8 189.8,263.5 190.3,262.9 190.8,262.2 191.3,263.2 191.8,262.9 192.3,263.2 192.8,263.2 193.3,261.5 193.8,262.4 194.3,262.2 194.8,262.6 195.3,262.9 195.8,261.5 196.3,261.7 196.8,262.0 197.3,262.5 197.8,263.2 198.3,262.4 198.8,262.3 199.3,262.8 199.8,256.0 200.3,263.2 200.8,262.2 201.3,263.3 201.8,263.0 202.3,264.1 202.8,264.1 203.3,269.0 203.8,261.8 204.3,262.2 204.8,262.6 205.3,262.9 205.8,261.9 206.3,272.8 206.8,261.4 207.3,262.1 207.8,261.7 208.3,262.0 208.8,262.9 209.3,262.4 209.8,257.5 210.3,263.2 210.8,262.7 211.3,263.4 211.8,263.3 212.3,262.8 212.8,262.2 213.3,262.3 213.8,262.6 214.3,263.4 214.8,263.2 215.3,262.4 215.8,261.5 216.3,262.2 216.8,262.6 217.3,263.3 217.8,262.6 218.3,261.7 218.8,262.6 219.3,262.4 219.8,261.6 220.3,263.2 220.8,263.5 221.3,263.1 221.8,263.0 222.3,262.3 222.8,263.1 223.3,262.5 223.8,262.2 224.3,262.1 224.8,261.5 225.3,262.7 225.8,263.8 226.3,263.7 226.8,261.7 227.3,261.9 227.8,261.7 228.3,262.3 228.8,260.9 229.3,260.1 229.8,260.9 230.3,262.3 230.8,262.3 231.3,263.9 231.8,262.7 232.3,262.6 232.8,262.5 233.3,261.9 233.8,262.9 234.3,261.8 234.8,268.0 235.3,261.6 235.8,261.7 236.3,262.8 236.8,262.3 237.3,262.8 237.8,262.3 238.3,263.3 238.8,262.9 239.3,262.9 239.8,261.6 240.3,262.5 240.8,268.0 241.3,262.9 241.8,263.1 242.3,263.2 242.8,263.7 243.3,263.4 243.8,262.4 244.3,262.5 244.8,262.6 245.3,261.8 245.8,262.5 246.3,263.5 246.8,263.2 247.3,263.0 247.8,263.1 248.3,263.6 248.8,262.7 249.3,263.3 249.8,262.4 250.3,262.8 250.8,263.0 251.3,261.9 251.8,262.6 252.3,262.7 252.8,261.5 253.3,261.6 253.8,261.6 254.3,261.4 254.8,262.2 255.3,261.8 255.8,262.1 256.3,261.5 256.8,261.8 257.3,263.4 257.8,263.3 258.3,261.8 258.8,261.5 259.3,261.8 259.8,261.0 260.3,262.4 260.8,262.4 261.3,262.4 261.8,262.5 262.3,262.0 262.8,261.4 263.3,259.8 263.8,259.9 264.3,261.2 264.8,262.3 265.3,262.2 265.8,261.1 266.3,261.5 266.8,262.0 267.3,261.3 267.8,262.8 268.3,261.9 268.8,262.2 269.3,261.6 269.8,262.6 270.3,261.7 270.8,261.4 271.3,262.7 271.8,261.7 272.3,261.7 272.8,262.4 273.3,262.7 273.8,261.4 274.3,262.3 274.8,262.2 275.3,263.2 275.8,261.7 276.3,262.6 276.8,262.8 277.3,262.4 277.8,262.2 278.3,262.6 278.8,262.1 279.3,262.0 279.8,261.7 280.3,262.2 280.8,262.8 281.3,261.5 281.8,262.0 282.3,262.4 282.8,263.5 283.3,262.5 283.8,263.4 284.3,262.7 284.8,262.9 285.3,262.9 285.8,262.9 286.3,262.5 286.8,261.8 287.3,263.2 287.8,263.9 288.3,263.2 288.8,262.7 289.3,262.5 289.8,261.6" fill="none" stroke="#111111" stroke-width="0.8" stroke-linejoin="round"/>
<polyline points="45.3,263.0 45.8,262.6 46.3,265.8 46.8,264.8 47.3,263.9 47.8,263.7 48.3,262.7 48.8,261.9 49.3,262.7 49.8,262.2 50.3,263.1 50.8,262.6 51.3,260.9 51.8,260.4 52.3,260.5 52.8,259.5 53.3,260.8 53.8,261.3 54.3,262.7 54.8,261.8 55.3,261.9 55.8,262.7 56.3,263.3 56.8,262.0 57.3,263.7 57.8,262.5 58.3,263.7 58.8,262.9 59.3,262.3 59.8,261.2 60.3,261.7 60.8,264.3 61.3,262.9 61.8,264.2 62.3,264.7 62.8,263.3 63.3,264.0 63.8,264.6 64.3,263.4 64.8,262.5 65.3,263.6 65.8,263.4 66.3,265.0 66.8,264.3 67.3,262.4 67.8,262.4 68.3,261.3 68.8,262.6 69.3,263.2 69.8,262.5 70.3,261.7 70.8,262.9 71.3,262.4 71.8,263.6 72.3,262.2 72.8,262.1 73.3,261.7 73.8,261.1 74.3,264.3 74.8,265.1 75.3,263.3 75.8,263.7 76.3,261.5 76.8,263.1 77.3,263.9 77.8,262.9 78.3,262.4 78.8,262.7 79.3,263.0 79.8,262.5 80.3,261.7 80.8,261.8 81.3,261.7 81.8,262.8 82.3,262.8 82.8,262.9 83.3,261.1 83.8,261.4 84.3,261.5 84.8,261.5 85.3,261.8 85.8,261.9 86.3,260.7 86.8,262.4 87.3,263.3 87.8,262.5 88.3,263.1 88.8,262.0 89.3,261.0 89.8,261.5 90.3,263.4 90.8,262.9 91.3,261.3 91.8,262.1 92.3,261.8 92.8,261.4 93.3,262.3 93.8,260.7 94.3,259.9 94.8,259.7 95.3,262.0 95.8,262.4 96.3,261.9 96.8,261.5 97.3,262.6 97.8,263.8 98.3,262.6 98.8,262.8 99.3,264.9 99.8,264.5 100.3,263.3 100.8,263.3 101.3,263.1 101.8,263.5 102.3,263.4 102.8,262.6 103.3,262.5 103.8,262.9 104.3,262.1 104.8,262.4 105.3,261.6 105.8,263.2 106.3,264.4 106.8,262.8 107.3,263.5 107.8,263.3 108.3,263.1 108.8,262.6 109.3,262.9 109.8,263.7 110.3,262.1 110.8,263.3 111.3,262.7 111.8,261.6 112.3,262.0 112.8,262.9 113.3,262.7 113.8,262.9 114.3,262.5 114.8,262.0 115.3,263.2 115.8,262.1 116.3,263.3 116.8,263.3 117.3,262.7 117.8,262.5 118.3,262.3 118.8,262.4 119.3,262.4 119.8,262.4 120.3,260.7 120.8,259.6 121.3,261.3 121.8,261.3 122.3,261.3 122.8,261.8 123.3,261.1 123.8,263.2 124.3,263.0 124.8,262.6 125.3,261.6 125.8,262.9 126.3,263.5 126.8,264.5 127.3,264.5 127.8,262.9 128.3,261.6 128.8,263.3 129.3,262.4 129.8,262.4 130.3,262.3 130.8,262.9 131.3,263.3 131.8,262.0 132.3,261.7 132.8,260.5 133.3,262.0 133.8,262.1 134.3,260.8 134.8,262.6 135.3,262.6 135.8,261.7 136.3,261.7 136.8,261.6 137.3,262.1 137.8,262.6 138.3,262.0 138.8,262.7 139.3,260.2 139.8,261.0 140.3,262.3 140.8,263.4 141.3,263.8 141.8,262.3 142.3,260.9 142.8,261.3 143.3,264.0 143.8,263.6 144.3,262.5 144.8,261.0 145.3,261.9 145.8,261.8 146.3,262.6 146.8,262.8 147.3,260.5 147.8,261.4 148.3,262.7 148.8,262.1 149.3,261.2 149.8,260.8 150.3,260.4 150.8,263.4 151.3,264.3 151.8,263.0 152.3,264.1 152.8,262.4 153.3,262.0 153.8,261.6 154.3,261.9 154.8,262.8 155.3,264.6 155.8,264.4 156.3,263.5 156.8,263.2 157.3,262.7 157.8,263.0 158.3,262.0 158.8,262.5 159.3,263.0 159.8,263.7 160.3,262.4 160.8,262.9 161.3,263.0 161.8,262.1 162.3,260.5 162.8,260.9 163.3,262.5 163.8,262.3 164.3,264.5 164.8,264.2 165.3,262.8 165.8,262.6 166.3,263.0 166.8,263.3 167.3,262.7 167.8,263.1 168.3,265.6 168.8,265.1 169.3,264.1 169.8,263.0 170.3,261.2 170.8,262.0 171.3,261.9 171.8,262.1 172.3,261.8 172.8,262.9 173.3,263.7 173.8,262.6 174.3,261.3 174.8,262.2 175.3,263.6 175.8,263.5 176.3,263.5 176.8,261.8 177.3,261.7 177.8,262.6 178.3,262.9 178.8,262.8 179.3,263.2 179.8,263.7 180.3,263.3 180.8,262.3 181.3,261.1 181.8,262.0 182.3,262.1 182.8,262.1 183.3,263.3 183.8,262.4 184.3,262.2 184.8,263.0 185.3,262.0 185.8,260.3 186.3,260.8 186.8,262.3 187.3,261.9 187.8,262.0 188.3,260.5 188.8,262.5 189.3,261.0 189.8,261.1 190.3,261.6 190.8,263.8 191.3,263.3 191.8,262.3 192.3,261.1 192.8,261.5 193.3,260.8 193.8,261.0 194.3,261.8 194.8,263.2 195.3,261.9 195.8,263.5 196.3,261.3 196.8,252.3 197.3,262.6 197.8,262.2 198.3,261.9 198.8,262.4 199.3,262.4 199.8,262.2 200.3,261.7 200.8,261.6 201.3,262.1 201.8,261.8 202.3,261.5 202.8,260.7 203.3,261.5 203.8,262.4 204.3,261.6 204.8,262.9 205.3,262.7 205.8,262.7 206.3,261.1 206.8,262.3 207.3,263.6 207.8,264.9 208.3,263.3 208.8,262.9 209.3,263.4 209.8,263.5 210.3,262.5 210.8,262.6 211.3,263.5 211.8,263.6 212.3,263.1 212.8,256.5 213.3,261.9 213.8,262.6 214.3,262.0 214.8,261.9 215.3,262.9 215.8,264.3 216.3,264.0 216.8,263.4 217.3,264.5 217.8,264.3 218.3,261.5 218.8,261.5 219.3,261.4 219.8,261.3 220.3,260.5 220.8,262.0 221.3,262.4 221.8,264.1 222.3,263.1 222.8,263.0 223.3,262.1 223.8,263.3 224.3,264.1 224.8,264.9 225.3,264.8 225.8,263.3 226.3,264.1 226.8,262.6 227.3,262.0 227.8,262.1 228.3,264.2 228.8,262.9 229.3,261.8 229.8,262.4 230.3,263.6 230.8,263.6 231.3,263.7 231.8,262.4 232.3,262.2 232.8,254.0 233.3,263.2 233.8,262.4 234.3,262.2 234.8,263.6 235.3,264.7 235.8,264.1 236.3,262.7 236.8,264.2 237.3,262.9 237.8,262.9 238.3,263.1 238.8,262.9 239.3,262.6 239.8,264.1 240.3,263.7 240.8,261.9 241.3,261.7 241.8,263.3 242.3,262.9 242.8,261.8 243.3,263.0 243.8,263.3 244.3,263.0 244.8,263.4 245.3,262.7 245.8,262.8 246.3,263.3 246.8,262.5 247.3,263.7 247.8,262.3 248.3,264.3 248.8,263.6 249.3,263.5 249.8,262.0 250.3,263.0 250.8,262.1 251.3,262.8 251.8,262.7 252.3,262.0 252.8,263.9 253.3,263.5 253.8,262.6 254.3,262.3 254.8,262.8 255.3,262.8 255.8,263.5 256.3,262.6 256.8,262.8 257.3,262.3 257.8,261.8 258.3,262.9 258.8,262.1 259.3,260.9 259.8,262.3 260.3,262.0 260.8,262.8 261.3,263.2 261.8,263.4 262.3,263.1 262.8,264.3 263.3,262.6 263.8,263.7 264.3,263.1 264.8,263.2 265.3,262.6 265.8,263.4 266.3,263.5 266.8,262.7 267.3,262.7 267.8,263.1 268.3,262.8 268.8,265.0 269.3,264.4 269.8,263.3 270.3,263.9 270.8,263.6 271.3,262.7 271.8,262.4 272.3,261.1 272.8,262.5 273.3,263.9 273.8,263.3 274.3,262.3 274.8,260.9 275.3,260.6 275.8,261.6 276.3,261.5 276.8,261.9 277.3,261.5 277.8,261.9 278.3,262.0 278.8,262.5 279.3,262.7 279.8,262.8 280.3,262.1 280.8,262.1 281.3,261.3 281.8,261.5 282.3,262.0 282.8,262.7 283.3,261.5 283.8,261.2 284.3,261.4 284.8,260.9 285.3,261.4 285.8,261.8 286.3,261.6 286.8,263.5 287.3,262.7 287.8,262.9 288.3,261.2 288.8,262.6 289.3,262.9 289.8,263.0" fill="none" stroke="#1a1aff" stroke-width="0.8" stroke-linejoin="round"/>
<polyline points="45.3,267.1 45.5,261.1 45.8,262.9 46.0,262.0 46.3,260.5 46.5,260.9 46.8,261.1 47.0,262.0 47.3,263.2 47.5,264.8 47.8,263.4 48.0,265.0 48.3,243.4 48.5,262.9 48.8,262.0 49.0,260.3 49.3,258.6 49.5,261.4 49.8,261.8 50.0,262.9 50.3,263.2 50.5,259.9 50.8,260.4 51.0,259.6 51.3,263.9 51.5,262.4 51.8,262.6 52.0,260.5 52.3,259.3 52.5,260.5 52.8,261.7 53.0,263.2 53.3,259.3 53.5,262.4 53.8,260.5 54.0,260.9 54.3,261.3 54.5,261.2 54.8,263.1 55.0,264.3 55.3,263.4 55.5,261.4 55.8,263.0 56.0,263.2 56.3,264.3 56.5,263.3 56.8,259.1 57.0,260.1 57.3,261.0 57.5,264.0 57.8,262.4 58.0,264.2 58.3,263.3 58.5,260.0 58.8,261.9 59.0,263.4 59.3,263.4 59.5,259.4 59.8,262.6 60.0,261.1 60.3,257.7 60.5,260.2 60.8,257.8 61.0,258.7 61.3,264.6 61.5,267.9 61.8,265.7 62.0,263.9 62.3,266.6 62.5,263.9 62.8,260.6 63.0,256.8 63.3,263.1 63.5,257.7 63.8,255.4 64.0,259.6 64.3,261.9 64.5,260.4 64.8,264.1 65.0,258.5 65.3,262.8 65.5,263.4 65.8,261.3 66.0,262.6 66.3,267.3 66.5,261.3 66.8,262.5 67.0,263.5 67.3,261.4 67.5,262.0 67.8,258.7 68.0,260.7 68.3,262.1 68.5,264.6 68.8,264.8 69.0,261.6 69.3,259.9 69.5,265.7 69.8,264.9 70.0,258.8 70.3,260.9 70.5,260.2 70.8,260.6 71.0,258.4 71.3,260.7 71.5,260.9 71.8,261.6 72.0,264.4 72.3,263.3 72.5,260.0 72.8,258.2 73.0,260.4 73.3,264.4 73.5,264.8 73.8,261.6 74.0,264.7 74.3,263.8 74.5,261.4 74.8,263.1 75.0,262.4 75.3,260.0 75.5,261.0 75.8,262.5 76.0,265.2 76.3,260.8 76.5,262.6 76.8,262.5 77.0,262.3 77.3,259.8 77.5,264.6 77.8,265.6 78.0,266.4 78.3,264.2 78.5,265.9 78.8,264.3 79.0,264.9 79.3,262.2 79.5,262.9 79.8,261.8 80.0,260.0 80.3,261.0 80.5,259.7 80.8,259.5 81.0,261.0 81.3,260.9 81.5,266.5 81.8,267.0 82.0,295.8 82.3,264.8 82.5,261.1 82.8,262.7 83.0,259.4 83.3,260.5 83.5,261.0 83.8,261.4 84.0,264.1 84.3,261.1 84.5,267.3 84.8,262.3 85.0,264.2 85.3,259.4 85.5,263.8 85.8,260.1 86.0,262.4 86.3,262.4 86.5,264.2 86.8,264.1 87.0,263.6 87.3,262.4 87.5,266.6 87.8,262.3 88.0,262.4 88.3,261.4 88.5,262.5 88.8,260.4 89.0,261.2 89.3,263.3 89.5,261.4 89.8,263.2 90.0,261.4 90.3,265.3 90.5,262.7 90.8,266.3 91.0,264.3 91.3,262.5 91.5,264.5 91.8,265.4 92.0,266.3 92.3,266.2 92.5,265.1 92.8,260.5 93.0,264.1 93.3,262.6 93.5,263.3 93.8,265.3 94.0,261.5 94.3,265.1 94.5,268.1 94.8,264.8 95.0,262.2 95.3,265.4 95.5,263.4 95.8,264.9 96.0,265.6 96.3,259.8 96.5,262.6 96.8,259.2 97.0,257.5 97.3,263.3 97.5,260.1 97.8,260.4 98.0,261.1 98.3,262.8 98.5,263.3 98.8,263.6 99.0,261.6 99.3,260.7 99.5,263.0 99.8,260.7 100.0,260.3 100.3,263.5 100.5,260.9 100.8,260.2 101.0,264.4 101.3,262.7 101.5,257.7 101.8,259.9 102.0,266.1 102.3,269.2 102.5,263.1 102.8,264.1 103.0,264.3 103.3,263.5 103.5,258.7 103.8,263.8 104.0,263.3 104.3,262.1 104.5,258.9 104.8,260.3 105.0,267.0 105.3,261.7 105.5,262.8 105.8,261.7 106.0,264.4 106.3,264.1 106.5,260.3 106.8,260.7 107.0,263.0 107.3,261.3 107.5,265.2 107.8,261.8 108.0,262.8 108.3,263.8 108.5,260.2 108.8,264.6 109.0,262.4 109.3,260.9 109.5,260.6 109.8,258.4 110.0,258.7 110.3,264.8 110.5,262.6 110.8,261.8 111.0,262.7 111.3,263.7 111.5,260.9 111.8,261.6 112.0,262.8 112.3,264.6 112.5,263.4 112.8,266.1 113.0,262.7 113.3,261.7 113.5,259.3 113.8,261.7 114.0,263.6 114.3,262.1 114.5,262.0 114.8,260.2 115.0,260.7 115.3,261.1 115.5,261.9 115.8,264.6 116.0,263.9 116.3,264.6 116.5,265.3 116.8,262.0 117.0,265.2 117.3,263.0 117.5,259.7 117.8,260.6 118.0,261.8 118.3,259.0 118.5,266.6 118.8,263.1 119.0,264.4 119.3,260.2 119.5,262.2 119.8,262.9 120.0,260.9 120.3,262.6 120.5,262.4 120.8,263.2 121.0,260.0 121.3,263.0 121.5,261.9 121.8,260.5 122.0,257.3 122.3,260.9 122.5,250.1 122.8,267.2 123.0,260.8 123.3,265.2 123.5,265.6 123.8,263.9 124.0,263.2 124.3,263.6 124.5,259.5 124.8,264.8 125.0,273.0 125.3,260.7 125.5,262.0 125.8,256.4 126.0,258.3 126.3,259.0 126.5,258.3 126.8,262.8 127.0,265.8 127.3,263.1 127.5,261.8 127.8,262.9 128.1,261.4 128.3,262.4 128.6,263.2 128.8,262.0 129.1,261.4 129.3,262.3 129.6,262.5 129.8,263.8 130.1,259.4 130.3,259.4 130.6,260.7 130.8,263.0 131.1,259.7 131.3,264.4 131.6,265.8 131.8,261.4 132.1,264.5 132.3,258.3 132.6,261.3 132.8,258.7 133.1,263.9 133.3,264.4 133.6,263.8 133.8,261.4 134.1,259.7 134.3,262.7 134.6,261.3 134.8,263.5 135.1,258.5 135.3,262.6 135.6,263.6 135.8,256.7 136.1,257.9 136.3,259.6 136.6,260.2 136.8,257.4 137.1,261.3 137.3,259.1 137.6,261.4 137.8,257.4 138.1,258.2 138.3,263.2 138.6,258.0 138.8,261.3 139.1,265.7 139.3,264.9 139.6,259.4 139.8,267.2 140.1,261.8 140.3,264.5 140.6,265.1 140.8,261.9 141.1,263.7 141.3,255.5 141.6,261.1 141.8,262.3 142.1,261.3 142.3,262.3 142.6,264.9 142.8,265.1 143.1,261.2 143.3,264.0 143.6,265.5 143.8,263.1 144.1,263.3 144.3,256.2 144.6,257.0 144.8,262.1 145.1,258.3 145.3,263.5 145.6,265.4 145.8,260.3 146.1,258.8 146.3,261.0 146.6,262.5 146.8,264.3 147.1,262.0 147.3,262.2 147.6,259.6 147.8,262.3 148.1,260.2 148.3,264.3 148.6,264.3 148.8,258.4 149.1,262.2 149.3,259.4 149.6,264.0 149.8,259.9 150.1,269.0 150.3,265.4 150.6,267.7 150.8,264.1 151.1,262.6 151.3,265.3 151.6,259.6 151.8,261.5 152.1,261.2 152.3,261.8 152.6,258.0 152.8,257.0 153.1,256.8 153.3,264.7 153.6,261.8 153.8,263.6 154.1,262.1 154.3,261.5 154.6,265.3 154.8,256.9 155.1,260.5 155.3,259.8 155.6,259.3 155.8,257.4 156.1,257.3 156.3,258.1 156.6,264.0 156.8,260.7 157.1,260.6 157.3,261.4 157.6,263.5 157.8,265.0 158.1,263.2 158.3,262.3 158.6,263.5 158.8,260.3 159.1,262.3 159.3,266.4 159.6,261.3 159.8,259.8 160.1,259.5 160.3,261.8 160.6,263.1 160.8,261.8 161.1,261.7 161.3,263.9 161.6,262.6 161.8,263.4 162.1,261.9 162.3,264.1 162.6,264.0 162.8,262.4 163.1,261.4 163.3,265.9 163.6,261.4 163.8,260.7 164.1,258.2 164.3,262.5 164.6,262.4 164.8,262.2 165.1,260.0 165.3,261.8 165.6,261.0 165.8,260.3 166.1,261.5 166.3,262.6 166.6,262.1 166.8,261.5 167.1,263.2 167.3,262.8 167.6,261.8 167.8,263.1 168.1,262.9 168.3,263.8 168.6,263.8 168.8,263.7 169.1,261.7 169.3,264.1 169.6,264.1 169.8,261.9 170.1,264.1 170.3,262.8 170.6,260.9 170.8,262.0 171.1,260.3 171.3,263.6 171.6,260.7 171.8,264.2 172.1,261.4 172.3,261.9 172.6,264.1 172.8,263.2 173.1,260.0 173.3,261.7 173.6,259.5 173.8,262.7 174.1,260.9 174.3,261.9 174.6,262.0 174.8,260.0 175.1,262.3 175.3,265.0 175.6,261.5 175.8,261.3 176.1,262.7 176.3,264.2 176.6,261.4 176.8,262.4 177.1,262.9 177.3,264.0 177.6,261.4 177.8,265.8 178.1,266.0 178.3,261.1 178.6,260.9 178.8,262.6 179.1,261.4 179.3,261.4 179.6,262.1 179.8,261.2 180.1,261.2 180.3,262.4 180.6,261.8 180.8,262.8 181.1,264.0 181.3,264.3 181.6,262.9 181.8,265.5 182.1,262.4 182.3,263.7 182.6,265.3 182.8,263.2 183.1,263.7 183.3,261.9 183.6,261.4 183.8,262.5 184.1,263.1 184.3,263.1 184.6,263.5 184.8,263.1 185.1,262.4 185.3,261.5 185.6,262.0 185.8,262.4 186.1,262.4 186.3,260.8 186.6,263.9 186.8,264.3 187.1,263.1 187.3,261.8 187.6,263.9 187.8,262.4 188.1,262.0 188.3,263.2 188.6,261.8 188.8,262.5 189.1,261.7 189.3,263.2 189.6,263.2 189.8,263.6 190.1,263.3 190.3,263.1 190.6,263.1 190.8,263.7 191.1,261.3 191.3,260.5 191.6,262.1 191.8,262.6 192.1,262.1 192.3,264.5 192.6,263.5 192.8,264.5 193.1,263.0 193.3,260.5 193.6,260.1 193.8,263.5 194.1,262.7 194.3,261.8 194.6,264.2 194.8,265.3 195.1,263.9 195.3,265.7 195.6,262.3 195.8,260.2 196.1,258.1 196.3,264.1 196.6,259.1 196.8,260.8 197.1,262.2 197.3,263.7 197.6,258.3 197.8,261.0 198.1,260.2 198.3,265.4 198.6,262.5 198.8,260.9 199.1,266.1 199.3,263.5 199.6,264.5 199.8,263.6 200.1,262.3 200.3,264.1 200.6,261.0 200.8,258.9 201.1,260.2 201.3,263.4 201.6,261.7 201.8,264.8 202.1,264.5 202.3,263.3 202.6,265.2 202.8,263.8 203.1,263.4 203.3,262.0 203.6,262.1 203.8,262.2 204.1,264.8 204.3,266.6 204.6,265.8 204.8,263.7 205.1,262.4 205.3,263.0 205.6,261.2 205.8,262.1 206.1,261.6 206.3,262.2 206.6,256.8 206.8,261.3 207.1,263.7 207.3,260.2 207.6,266.1 207.8,263.5 208.1,261.3 208.3,265.5 208.6,260.8 208.8,268.4 209.1,262.0 209.3,264.5 209.6,266.2 209.8,264.8 210.1,263.2 210.3,260.9 210.6,261.8 210.8,262.8 211.1,264.8 211.3,257.7 211.6,262.9 211.8,259.9 212.1,260.5 212.3,261.8 212.6,260.8 212.8,263.5 213.1,257.0 213.3,262.8 213.6,260.1 213.8,261.1 214.1,262.0 214.3,259.0 214.6,262.7 214.8,267.4 215.1,261.9 215.3,260.2 215.6,265.5 215.8,266.9 216.1,258.5 216.3,260.8 216.6,260.2 216.8,262.3 217.1,262.2 217.3,260.0 217.6,260.9 217.8,264.7 218.1,260.7 218.3,262.6 218.6,263.9 218.8,266.7 219.1,264.2 219.3,263.3 219.6,260.4 219.8,262.6 220.1,265.6 220.3,264.1 220.6,265.6 220.8,261.9 221.1,264.2 221.3,262.2 221.6,260.7 221.8,260.6 222.1,264.8 222.3,264.3 222.6,262.4 222.8,261.8 223.1,264.2 223.3,261.7 223.6,264.9 223.8,263.6 224.1,261.3 224.3,261.8 224.6,259.8 224.8,259.4 225.1,260.6 225.3,260.9 225.6,261.3 225.8,260.4 226.1,260.5 226.3,262.8 226.6,259.4 226.8,255.9 227.1,265.1 227.3,263.2 227.6,263.0 227.8,265.2 228.1,265.6 228.3,266.4 228.6,265.4 228.8,264.8 229.1,264.0 229.3,262.5 229.6,262.1 229.8,254.0 230.1,264.6 230.3,262.6 230.6,260.1 230.8,264.7 231.1,261.2 231.3,263.1 231.6,260.6 231.8,259.4 232.1,264.4 232.3,263.1 232.6,258.9 232.8,263.3 233.1,264.7 233.3,262.2 233.6,264.0 233.8,265.8 234.1,265.8 234.3,266.0 234.6,264.7 234.8,266.7 235.1,272.8 235.3,262.1 235.6,261.7 235.8,269.8 236.1,261.5 236.3,262.3 236.6,258.1 236.8,261.5 237.1,261.8 237.3,262.1 237.6,264.2 237.8,266.2 238.1,263.7 238.3,260.8 238.6,260.9 238.8,262.2 239.1,260.7 239.3,261.9 239.6,263.6 239.8,263.1 240.1,267.5 240.3,259.4 240.6,262.1 240.8,265.0 241.1,260.2 241.3,257.8 241.6,266.6 241.8,265.6 242.1,264.4 242.3,249.2 242.6,260.6 242.8,259.2 243.1,265.6 243.3,263.3 243.6,258.6 243.8,261.3 244.1,266.1 244.3,260.5 244.6,258.1 244.8,255.8 245.1,260.7 245.3,261.8 245.6,260.7 245.8,260.7 246.1,261.3 246.3,260.6 246.6,260.6 246.8,264.4 247.1,262.9 247.3,263.8 247.6,258.1 247.8,259.3 248.1,264.3 248.3,263.1 248.6,265.1 248.8,259.3 249.1,263.3 249.3,261.2 249.6,262.2 249.8,260.6 250.1,260.0 250.3,259.7 250.6,261.6 250.8,264.4 251.1,260.5 251.3,260.7 251.6,260.0 251.8,260.1 252.1,263.4 252.3,261.7 252.6,260.2 252.8,263.4 253.1,263.3 253.3,263.3 253.6,262.9 253.8,261.2 254.1,263.9 254.3,261.4 254.6,262.7 254.8,262.8 255.1,264.9 255.3,262.6 255.6,264.2 255.8,259.1 256.1,262.0 256.3,262.7 256.6,262.7 256.8,258.2 257.1,263.1 257.3,261.2 257.6,260.7 257.8,265.4 258.1,262.5 258.3,264.4 258.6,259.1 258.8,263.2 259.1,263.0 259.3,263.2 259.6,276.9 259.8,262.8 260.1,262.1 260.3,265.2 260.6,261.9 260.8,258.9 261.1,263.9 261.3,260.4 261.6,261.5 261.8,263.8 262.1,266.3 262.3,264.4 262.6,264.3 262.8,263.2 263.1,262.8 263.3,262.4 263.6,263.1 263.8,260.6 264.1,262.5 264.3,264.9 264.6,263.3 264.8,262.3 265.1,264.0 265.3,260.9 265.6,261.7 265.8,267.1 266.1,265.1 266.3,264.6 266.6,262.6 266.8,261.0 267.1,259.8 267.3,262.0 267.6,265.1 267.8,262.9 268.1,264.3 268.3,262.2 268.6,262.6 268.8,263.3 269.1,268.9 269.3,264.0 269.6,260.9 269.8,264.1 270.1,262.8 270.3,263.7 270.6,261.2 270.8,264.1 271.1,261.3 271.3,263.1 271.6,261.8 271.8,260.8 272.1,263.4 272.3,263.5 272.6,258.4 272.8,263.2 273.1,264.3 273.3,263.2 273.6,263.4 273.8,263.3 274.1,263.3 274.3,261.9 274.6,264.6 274.8,265.5 275.1,261.3 275.3,262.4 275.6,260.5 275.8,261.1 276.1,264.3 276.3,262.9 276.6,263.0 276.8,261.8 277.1,267.3 277.3,265.9 277.6,264.0 277.8,263.2 278.1,266.3 278.3,265.8 278.6,263.8 278.8,262.4 279.1,260.1 279.3,264.9 279.6,266.6 279.8,268.3 280.1,264.3 280.3,264.7 280.6,258.8 280.8,263.2 281.1,261.1 281.3,260.5 281.6,260.3 281.8,260.2 282.1,261.0 282.3,263.3 282.6,261.2 282.8,261.5 283.1,262.0 283.3,266.6 283.6,265.0 283.8,261.7 284.1,264.0 284.3,266.3 284.6,262.9 284.8,264.1 285.1,265.1 285.3,260.1 285.6,262.3 285.8,262.2 286.1,264.2 286.3,265.6 286.6,262.1 286.8,259.2 287.1,260.8 287.3,262.2 287.6,261.1 287.8,262.7 288.1,260.1 288.3,263.1 288.6,264.2 288.8,267.0 289.1,263.2 289.3,264.7 289.6,261.5 289.8,260.9 290.1,260.5" fill="none" stroke="#ff1a1a" stroke-width="0.8" stroke-linejoin="round"/>
<polyline points="45.3,349.0 45.9,348.8 46.5,347.4 47.1,348.9 47.7,349.1 48.3,349.2 48.9,349.1 49.5,350.6 50.1,350.7 50.7,351.1 51.3,349.6 51.9,348.6 52.5,347.5 53.1,347.7 53.7,345.0 54.3,348.4 54.9,348.6 55.5,348.7 56.1,349.6 56.7,348.7 57.3,348.9 57.9,349.6 58.5,347.4 59.1,349.9 59.7,349.4 60.3,349.7 60.9,348.0 61.5,347.6 62.1,349.9 62.7,348.7 63.3,348.2 63.9,348.9 64.5,350.3 65.1,346.8 65.7,349.3 66.3,349.2 66.9,349.9 67.5,348.2 68.1,348.7 68.7,350.4 69.3,349.5 69.9,348.4 70.5,348.0 71.1,347.6 71.7,348.9 72.3,349.0 72.9,348.2 73.5,349.3 74.1,347.7 74.7,346.5 75.3,350.2 75.9,348.7 76.5,350.5 77.1,349.5 77.7,341.5 78.3,349.3 78.9,348.0 79.5,347.3 80.1,347.6 80.7,347.6 81.3,348.8 81.9,350.9 82.5,348.5 83.1,347.5 83.7,348.9 84.3,349.3 84.9,350.2 85.5,348.6 86.1,349.3 86.7,348.9 87.3,346.9 87.9,348.1 88.5,346.6 89.1,353.5 89.7,347.8 90.3,347.9 90.9,350.6 91.5,351.4 92.1,350.6 92.7,350.1 93.3,348.5 93.9,350.0 94.5,350.0 95.1,348.4 95.7,346.6 96.3,347.5 96.9,347.8 97.5,349.1 98.1,347.7 98.7,347.1 99.3,348.2 99.9,348.5 100.5,349.6 101.1,350.4 101.7,348.5 102.3,345.9 102.9,347.1 103.5,347.0 104.1,347.9 104.7,345.2 105.3,346.6 105.9,347.6 106.5,347.4 107.1,348.5 107.7,348.6 108.3,348.9 108.9,350.2 109.5,350.9 110.1,351.2 110.7,341.0 111.3,349.8 111.9,349.9 112.5,349.6 113.1,348.3 113.7,348.9 114.3,349.8 114.9,348.8 115.5,347.4 116.1,348.6 116.7,347.7 117.3,346.4 117.9,347.1 118.5,346.1 119.1,347.6 119.7,347.4 120.3,347.5 120.9,349.1 121.5,349.9 122.1,348.9 122.7,339.0 123.3,346.4 123.9,345.8 124.5,347.8 125.1,349.7 125.7,349.7 126.3,349.7 126.9,349.6 127.5,349.7 128.1,348.5 128.7,349.3 129.3,348.4 129.9,347.0 130.5,347.5 131.1,352.5 131.7,348.7 132.3,346.4 132.9,348.5 133.5,348.6 134.1,349.0 134.7,348.0 135.3,348.6 135.9,350.2 136.5,348.5 137.1,349.1 137.7,349.0 138.3,347.6 138.9,348.0 139.5,348.7 140.1,347.5 140.7,349.0 141.3,347.4 141.9,349.0 142.5,349.3 143.1,349.0 143.7,347.7 144.3,347.0 144.9,345.0 145.5,346.3 146.1,342.0 146.7,348.1 147.3,349.2 147.9,348.9 148.5,348.2 149.1,349.2 149.7,348.7 150.3,348.4 150.9,347.5 151.5,348.4 152.1,347.8 152.7,349.1 153.3,348.1 153.9,347.8 154.5,347.9 155.1,347.6 155.7,346.9 156.3,346.8 156.9,346.8 157.5,347.2 158.1,348.2 158.7,348.5 159.3,348.5 159.9,348.8 160.5,346.5 161.1,346.5 161.7,346.5 162.3,346.3 162.9,347.0 163.5,346.8 164.1,346.4 164.7,347.3 165.3,347.0 165.9,347.0 166.5,346.3 167.1,347.3 167.7,347.3 168.3,348.2 168.9,349.1 169.5,348.7 170.1,347.9 170.7,347.2 171.3,348.2 171.9,347.7 172.5,347.9 173.1,347.8 173.7,345.6 174.3,346.5 174.9,347.0 175.5,347.2 176.1,347.2 176.7,347.4 177.3,346.8 177.9,347.4 178.5,347.1 179.1,347.3 179.7,348.3 180.3,348.0 180.9,347.1 181.5,347.4 182.1,346.5 182.7,347.0 183.3,348.0 183.9,347.1 184.5,347.1 185.1,346.7 185.7,347.1 186.3,347.4 186.9,347.5 187.5,347.2 188.1,346.2 188.7,346.2 189.3,346.4 189.9,347.3 190.5,346.2 191.1,347.3 191.7,346.9 192.3,346.1 192.9,347.5 193.5,347.6 194.1,347.0 194.7,347.3 195.3,348.1 195.9,345.9 196.5,348.3 197.1,346.7 197.7,348.1 198.3,347.0 198.9,345.1 199.5,345.3 200.1,345.6 200.7,346.5 201.3,344.7 201.9,344.6 202.5,346.2 203.1,346.3 203.7,346.1 204.3,347.2 204.9,345.5 205.5,349.0 206.1,347.3 206.7,347.8 207.3,347.4 207.9,348.7 208.5,347.5 209.1,346.4 209.7,347.2 210.3,348.0 210.9,347.5 211.5,350.1 212.1,349.9 212.7,350.6 213.3,350.8 213.9,350.6 214.5,348.9 215.1,350.3 215.7,348.5 216.3,348.2 216.9,349.6 217.5,349.8 218.1,347.3 218.7,346.9 219.3,345.9 219.9,348.1 220.5,347.3 221.1,347.3 221.7,346.5 222.3,346.2 222.9,347.6 223.5,346.2 224.1,346.8 224.7,346.4 225.3,346.3 225.9,345.1 226.5,347.6 227.1,345.4 227.7,319.6 228.3,347.1 228.9,348.0 229.5,347.7 230.1,346.5 230.7,347.1 231.3,346.9 231.9,347.1 232.5,349.7 233.1,307.5 233.7,306.3 234.3,340.0 234.9,348.5 235.5,352.0 236.1,356.5 236.7,350.0 237.3,347.2 237.9,347.6 238.5,345.1 239.1,344.9 239.7,344.5 240.3,345.1 240.9,344.9 241.5,345.3 242.1,345.8 242.7,345.2 243.3,344.3 243.9,345.7 244.5,345.9 245.1,345.2 245.7,344.4 246.3,344.9 246.9,345.3 247.5,345.7 248.1,344.0 248.7,345.4 249.3,345.2 249.9,344.3 250.5,347.3 251.1,347.5 251.7,348.7 252.3,347.7 252.9,349.3 253.5,349.5 254.1,348.7 254.7,350.4 255.3,348.5 255.9,348.8 256.5,349.1 257.1,347.7 257.7,347.8 258.3,348.5 258.9,349.1 259.5,349.1 260.1,348.8 260.7,348.9 261.3,348.3 261.9,349.6 262.5,348.0 263.1,347.7 263.7,346.9 264.3,346.8 264.9,347.1 265.5,347.0 266.1,340.1 266.7,348.8 267.3,348.6 267.9,347.0 268.5,347.4 269.1,346.8 269.7,346.8 270.3,348.1 270.9,346.4 271.5,345.6 272.1,345.7 272.7,346.7 273.3,346.5 273.9,345.3 274.5,346.2 275.1,346.9 275.7,347.7 276.3,347.4 276.9,347.9 277.5,347.0 278.1,347.5 278.7,348.0 279.3,347.3 279.9,346.8 280.5,347.6 281.1,346.8 281.7,346.2 282.3,346.5 282.9,347.0 283.5,347.5 284.1,346.9 284.7,347.2 285.3,346.4 285.9,345.8 286.5,347.9 287.1,346.9 287.7,345.9 288.3,346.5 288.9,346.1 289.5,346.9 290.1,344.2" fill="none" stroke="#111111" stroke-width="1.0" stroke-linejoin="round"/>
<rect x="45.3" y="7.4" width="244.9" height="58.4" fill="none" stroke="#aaaaaa" stroke-width="0.9"/>
<line x1="55.2" y1="7.4" x2="55.2" y2="9.4" stroke="#aaaaaa" stroke-width="0.7"/>
<line x1="55.2" y1="65.8" x2="55.2" y2="63.8" stroke="#aaaaaa" stroke-width="0.7"/>
<line x1="75.9" y1="7.4" x2="75.9" y2="9.4" stroke="#aaaaaa" stroke-width="0.7"/>
<line x1="75.9" y1="65.8" x2="75.9" y2="63.8" stroke="#aaaaaa" stroke-width="0.7"/>
<line x1="96.5" y1="7.4" x2="96.5" y2="9.4" stroke="#aaaaaa" stroke-width="0.7"/>
<line x1="96.5" y1="65.8" x2="96.5" y2="63.8" stroke="#aaaaaa" stroke-width="0.7"/>
<line x1="117.2" y1="7.4" x2="117.2" y2="9.4" stroke="#aaaaaa" stroke-width="0.7"/>
<line x1="117.2" y1="65.8" x2="117.2" y2="63.8" stroke="#aaaaaa" stroke-width="0.7"/>
<line x1="137.9" y1="7.4" x2="137.9" y2="9.4" stroke="#aaaaaa" stroke-width="0.7"/>
<line x1="137.9" y1="65.8" x2="137.9" y2="63.8" stroke="#aaaaaa" stroke-width="0.7"/>
<line x1="158.6" y1="7.4" x2="158.6" y2="9.4" stroke="#aaaaaa" stroke-width="0.7"/>
<line x1="158.6" y1="65.8" x2="158.6" y2="63.8" stroke="#aaaaaa" stroke-width="0.7"/>
<line x1="179.2" y1="7.4" x2="179.2" y2="9.4" stroke="#aaaaaa" stroke-width="0.7"/>
<line x1="179.2" y1="65.8" x2="179.2" y2="63.8" stroke="#aaaaaa" stroke-width="0.7"/>
<line x1="199.9" y1="7.4" x2="199.9" y2="9.4" stroke="#aaaaaa" stroke-width="0.7"/>
<line x1="199.9" y1="65.8" x2="199.9" y2="63.8" stroke="#aaaaaa" stroke-width="0.7"/>
<line x1="220.6" y1="7.4" x2="220.6" y2="9.4" stroke="#aaaaaa" stroke-width="0.7"/>
<line x1="220.6" y1="65.8" x2="220.6" y2="63.8" stroke="#aaaaaa" stroke-width="0.7"/>
<line x1="241.2" y1="7.4" x2="241.2" y2="9.4" stroke="#aaaaaa" stroke-width="0.7"/>
<line x1="241.2" y1="65.8" x2="241.2" y2="63.8" stroke="#aaaaaa" stroke-width="0.7"/>
<line x1="261.9" y1="7.4" x2="261.9" y2="9.4" stroke="#aaaaaa" stroke-width="0.7"/>
<line x1="261.9" y1="65.8" x2="261.9" y2="63.8" stroke="#aaaaaa" stroke-width="0.7"/>
<line x1="282.6" y1="7.4" x2="282.6" y2="9.4" stroke="#aaaaaa" stroke-width="0.7"/>
<line x1="282.6" y1="65.8" x2="282.6" y2="63.8" stroke="#aaaaaa" stroke-width="0.7"/>
<line x1="45.3" y1="12.0" x2="47.3" y2="12.0" stroke="#aaaaaa" stroke-width="0.7"/>
<line x1="290.2" y1="12.0" x2="288.2" y2="12.0" stroke="#aaaaaa" stroke-width="0.7"/>
<line x1="45.3" y1="32.8" x2="47.3" y2="32.8" stroke="#aaaaaa" stroke-width="0.7"/>
<line x1="290.2" y1="32.8" x2="288.2" y2="32.8" stroke="#aaaaaa" stroke-width="0.7"/>
<line x1="45.3" y1="53.5" x2="47.3" y2="53.5" stroke="#aaaaaa" stroke-width="0.7"/>
<line x1="290.2" y1="53.5" x2="288.2" y2="53.5" stroke="#aaaaaa" stroke-width="0.7"/>
<rect x="45.3" y="65.8" width="244.9" height="58.4" fill="none" stroke="#aaaaaa" stroke-width="0.9"/>
<line x1="55.2" y1="65.8" x2="55.2" y2="67.8" stroke="#aaaaaa" stroke-width="0.7"/>
<line x1="55.2" y1="124.2" x2="55.2" y2="122.2" stroke="#aaaaaa" stroke-width="0.7"/>
<line x1="75.9" y1="65.8" x2="75.9" y2="67.8" stroke="#aaaaaa" stroke-width="0.7"/>
<line x1="75.9" y1="124.2" x2="75.9" y2="122.2" stroke="#aaaaaa" stroke-width="0.7"/>
<line x1="96.5" y1="65.8" x2="96.5" y2="67.8" stroke="#aaaaaa" stroke-width="0.7"/>
<line x1="96.5" y1="124.2" x2="96.5" y2="122.2" stroke="#aaaaaa" stroke-width="0.7"/>
<line x1="117.2" y1="65.8" x2="117.2" y2="67.8" stroke="#aaaaaa" stroke-width="0.7"/>
<line x1="117.2" y1="124.2" x2="117.2" y2="122.2" stroke="#aaaaaa" stroke-width="0.7"/>
<line x1="137.9" y1="65.8" x2="137.9" y2="67.8" stroke="#aaaaaa" stroke-width="0.7"/>
<line x1="137.9" y1="124.2" x2="137.9" y2="122.2" stroke="#aaaaaa" stroke-width="0.7"/>
<line x1="158.6" y1="65.8" x2="158.6" y2="67.8" stroke="#aaaaaa" stroke-width="0.7"/>
<line x1="158.6" y1="124.2" x2="158.6" y2="122.2" stroke="#aaaaaa" stroke-width="0.7"/>
<line x1="179.2" y1="65.8" x2="179.2" y2="67.8" stroke="#aaaaaa" stroke-width="0.7"/>
<line x1="179.2" y1="124.2" x2="179.2" y2="122.2" stroke="#aaaaaa" stroke-width="0.7"/>
<line x1="199.9" y1="65.8" x2="199.9" y2="67.8" stroke="#aaaaaa" stroke-width="0.7"/>
<line x1="199.9" y1="124.2" x2="199.9" y2="122.2" stroke="#aaaaaa" stroke-width="0.7"/>
<line x1="220.6" y1="65.8" x2="220.6" y2="67.8" stroke="#aaaaaa" stroke-width="0.7"/>
<line x1="220.6" y1="124.2" x2="220.6" y2="122.2" stroke="#aaaaaa" stroke-width="0.7"/>
<line x1="241.2" y1="65.8" x2="241.2" y2="67.8" stroke="#aaaaaa" stroke-width="0.7"/>
<line x1="241.2" y1="124.2" x2="241.2" y2="122.2" stroke="#aaaaaa" stroke-width="0.7"/>
<line x1="261.9" y1="65.8" x2="261.9" y2="67.8" stroke="#aaaaaa" stroke-width="0.7"/>
<line x1="261.9" y1="124.2" x2="261.9" y2="122.2" stroke="#aaaaaa" stroke-width="0.7"/>
<line x1="282.6" y1="65.8" x2="282.6" y2="67.8" stroke="#aaaaaa" stroke-width="0.7"/>
<line x1="282.6" y1="124.2" x2="282.6" y2="122.2" stroke="#aaaaaa" stroke-width="0.7"/>
<line x1="45.3" y1="65.8" x2="47.3" y2="65.8" stroke="#aaaaaa" stroke-width="0.7"/>
<line x1="290.2" y1="65.8" x2="288.2" y2="65.8" stroke="#aaaaaa" stroke-width="0.7"/>
<line x1="45.3" y1="85.4" x2="47.3" y2="85.4" stroke="#aaaaaa" stroke-width="0.7"/>
<line x1="290.2" y1="85.4" x2="288.2" y2="85.4" stroke="#aaaaaa" stroke-width="0.7"/>
<line x1="45.3" y1="104.8" x2="47.3" y2="104.8" stroke="#aaaaaa" stroke-width="0.7"/>
<line x1="290.2" y1="104.8" x2="288.2" y2="104.8" stroke="#aaaaaa" stroke-width="0.7"/>
<rect x="45.3" y="124.2" width="244.9" height="58.4" fill="none" stroke="#aaaaaa" stroke-width="0.9"/>
<line x1="55.2" y1="124.2" x2="55.2" y2="126.2" stroke="#aaaaaa" stroke-width="0.7"/>
<line x1="55.2" y1="182.6" x2="55.2" y2="180.6" stroke="#aaaaaa" stroke-width="0.7"/>
<line x1="75.9" y1="124.2" x2="75.9" y2="126.2" stroke="#aaaaaa" stroke-width="0.7"/>
<line x1="75.9" y1="182.6" x2="75.9" y2="180.6" stroke="#aaaaaa" stroke-width="0.7"/>
<line x1="96.5" y1="124.2" x2="96.5" y2="126.2" stroke="#aaaaaa" stroke-width="0.7"/>
<line x1="96.5" y1="182.6" x2="96.5" y2="180.6" stroke="#aaaaaa" stroke-width="0.7"/>
<line x1="117.2" y1="124.2" x2="117.2" y2="126.2" stroke="#aaaaaa" stroke-width="0.7"/>
<line x1="117.2" y1="182.6" x2="117.2" y2="180.6" stroke="#aaaaaa" stroke-width="0.7"/>
<line x1="137.9" y1="124.2" x2="137.9" y2="126.2" stroke="#aaaaaa" stroke-width="0.7"/>
<line x1="137.9" y1="182.6" x2="137.9" y2="180.6" stroke="#aaaaaa" stroke-width="0.7"/>
<line x1="158.6" y1="124.2" x2="158.6" y2="126.2" stroke="#aaaaaa" stroke-width="0.7"/>
<line x1="158.6" y1="182.6" x2="158.6" y2="180.6" stroke="#aaaaaa" stroke-width="0.7"/>
<line x1="179.2" y1="124.2" x2="179.2" y2="126.2" stroke="#aaaaaa" stroke-width="0.7"/>
<line x1="179.2" y1="182.6" x2="179.2" y2="180.6" stroke="#aaaaaa" stroke-width="0.7"/>
<line x1="199.9" y1="124.2" x2="199.9" y2="126.2" stroke="#aaaaaa" stroke-width="0.7"/>
<line x1="199.9" y1="182.6" x2="199.9" y2="180.6" stroke="#aaaaaa" stroke-width="0.7"/>
<line x1="220.6" y1="124.2" x2="220.6" y2="126.2" stroke="#aaaaaa" stroke-width="0.7"/>
<line x1="220.6" y1="182.6" x2="220.6" y2="180.6" stroke="#aaaaaa" stroke-width="0.7"/>
<line x1="241.2" y1="124.2" x2="241.2" y2="126.2" stroke="#aaaaaa" stroke-width="0.7"/>
<line x1="241.2" y1="182.6" x2="241.2" y2="180.6" stroke="#aaaaaa" stroke-width="0.7"/>
<line x1="261.9" y1="124.2" x2="261.9" y2="126.2" stroke="#aaaaaa" stroke-width="0.7"/>
<line x1="261.9" y1="182.6" x2="261.9" y2="180.6" stroke="#aaaaaa" stroke-width="0.7"/>
<line x1="282.6" y1="124.2" x2="282.6" y2="126.2" stroke="#aaaaaa" stroke-width="0.7"/>
<line x1="282.6" y1="182.6" x2="282.6" y2="180.6" stroke="#aaaaaa" stroke-width="0.7"/>
<line x1="45.3" y1="137.9" x2="47.3" y2="137.9" stroke="#aaaaaa" stroke-width="0.7"/>
<line x1="290.2" y1="137.9" x2="288.2" y2="137.9" stroke="#aaaaaa" stroke-width="0.7"/>
<line x1="45.3" y1="153.7" x2="47.3" y2="153.7" stroke="#aaaaaa" stroke-width="0.7"/>
<line x1="290.2" y1="153.7" x2="288.2" y2="153.7" stroke="#aaaaaa" stroke-width="0.7"/>
<line x1="45.3" y1="169.9" x2="47.3" y2="169.9" stroke="#aaaaaa" stroke-width="0.7"/>
<line x1="290.2" y1="169.9" x2="288.2" y2="169.9" stroke="#aaaaaa" stroke-width="0.7"/>
<rect x="45.3" y="182.6" width="244.9" height="58.4" fill="none" stroke="#aaaaaa" stroke-width="0.9"/>
<line x1="55.2" y1="182.6" x2="55.2" y2="184.6" stroke="#aaaaaa" stroke-width="0.7"/>
<line x1="55.2" y1="241.0" x2="55.2" y2="239.0" stroke="#aaaaaa" stroke-width="0.7"/>
<line x1="75.9" y1="182.6" x2="75.9" y2="184.6" stroke="#aaaaaa" stroke-width="0.7"/>
<line x1="75.9" y1="241.0" x2="75.9" y2="239.0" stroke="#aaaaaa" stroke-width="0.7"/>
<line x1="96.5" y1="182.6" x2="96.5" y2="184.6" stroke="#aaaaaa" stroke-width="0.7"/>
<line x1="96.5" y1="241.0" x2="96.5" y2="239.0" stroke="#aaaaaa" stroke-width="0.7"/>
<line x1="117.2" y1="182.6" x2="117.2" y2="184.6" stroke="#aaaaaa" stroke-width="0.7"/>
<line x1="117.2" y1="241.0" x2="117.2" y2="239.0" stroke="#aaaaaa" stroke-width="0.7"/>
<line x1="137.9" y1="182.6" x2="137.9" y2="184.6" stroke="#aaaaaa" stroke-width="0.7"/>
<line x1="137.9" y1="241.0" x2="137.9" y2="239.0" stroke="#aaaaaa" stroke-width="0.7"/>
<line x1="158.6" y1="182.6" x2="158.6" y2="184.6" stroke="#aaaaaa" stroke-width="0.7"/>
<line x1="158.6" y1="241.0" x2="158.6" y2="239.0" stroke="#aaaaaa" stroke-width="0.7"/>
<line x1="179.2" y1="182.6" x2="179.2" y2="184.6" stroke="#aaaaaa" stroke-width="0.7"/>
<line x1="179.2" y1="241.0" x2="179.2" y2="239.0" stroke="#aaaaaa" stroke-width="0.7"/>
<line x1="199.9" y1="182.6" x2="199.9" y2="184.6" stroke="#aaaaaa" stroke-width="0.7"/>
<line x1="199.9" y1="241.0" x2="199.9" y2="239.0" stroke="#aaaaaa" stroke-width="0.7"/>
<line x1="220.6" y1="182.6" x2="220.6" y2="184.6" stroke="#aaaaaa" stroke-width="0.7"/>
<line x1="220.6" y1="241.0" x2="220.6" y2="239.0" stroke="#aaaaaa" stroke-width="0.7"/>
<line x1="241.2" y1="182.6" x2="241.2" y2="184.6" stroke="#aaaaaa" stroke-width="0.7"/>
<line x1="241.2" y1="241.0" x2="241.2" y2="239.0" stroke="#aaaaaa" stroke-width="0.7"/>
<line x1="261.9" y1="182.6" x2="261.9" y2="184.6" stroke="#aaaaaa" stroke-width="0.7"/>
<line x1="261.9" y1="241.0" x2="261.9" y2="239.0" stroke="#aaaaaa" stroke-width="0.7"/>
<line x1="282.6" y1="182.6" x2="282.6" y2="184.6" stroke="#aaaaaa" stroke-width="0.7"/>
<line x1="282.6" y1="241.0" x2="282.6" y2="239.0" stroke="#aaaaaa" stroke-width="0.7"/>
<line x1="45.3" y1="193.0" x2="47.3" y2="193.0" stroke="#aaaaaa" stroke-width="0.7"/>
<line x1="290.2" y1="193.0" x2="288.2" y2="193.0" stroke="#aaaaaa" stroke-width="0.7"/>
<line x1="45.3" y1="212.0" x2="47.3" y2="212.0" stroke="#aaaaaa" stroke-width="0.7"/>
<line x1="290.2" y1="212.0" x2="288.2" y2="212.0" stroke="#aaaaaa" stroke-width="0.7"/>
<line x1="45.3" y1="230.5" x2="47.3" y2="230.5" stroke="#aaaaaa" stroke-width="0.7"/>
<line x1="290.2" y1="230.5" x2="288.2" y2="230.5" stroke="#aaaaaa" stroke-width="0.7"/>
<rect x="45.3" y="241.0" width="244.9" height="58.4" fill="none" stroke="#aaaaaa" stroke-width="0.9"/>
<line x1="55.2" y1="241.0" x2="55.2" y2="243.0" stroke="#aaaaaa" stroke-width="0.7"/>
<line x1="55.2" y1="299.4" x2="55.2" y2="297.4" stroke="#aaaaaa" stroke-width="0.7"/>
<line x1="75.9" y1="241.0" x2="75.9" y2="243.0" stroke="#aaaaaa" stroke-width="0.7"/>
<line x1="75.9" y1="299.4" x2="75.9" y2="297.4" stroke="#aaaaaa" stroke-width="0.7"/>
<line x1="96.5" y1="241.0" x2="96.5" y2="243.0" stroke="#aaaaaa" stroke-width="0.7"/>
<line x1="96.5" y1="299.4" x2="96.5" y2="297.4" stroke="#aaaaaa" stroke-width="0.7"/>
<line x1="117.2" y1="241.0" x2="117.2" y2="243.0" stroke="#aaaaaa" stroke-width="0.7"/>
<line x1="117.2" y1="299.4" x2="117.2" y2="297.4" stroke="#aaaaaa" stroke-width="0.7"/>
<line x1="137.9" y1="241.0" x2="137.9" y2="243.0" stroke="#aaaaaa" stroke-width="0.7"/>
<line x1="137.9" y1="299.4" x2="137.9" y2="297.4" stroke="#aaaaaa" stroke-width="0.7"/>
<line x1="158.6" y1="241.0" x2="158.6" y2="243.0" stroke="#aaaaaa" stroke-width="0.7"/>
<line x1="158.6" y1="299.4" x2="158.6" y2="297.4" stroke="#aaaaaa" stroke-width="0.7"/>
<line x1="179.2" y1="241.0" x2="179.2" y2="243.0" stroke="#aaaaaa" stroke-width="0.7"/>
<line x1="179.2" y1="299.4" x2="179.2" y2="297.4" stroke="#aaaaaa" stroke-width="0.7"/>
<line x1="199.9" y1="241.0" x2="199.9" y2="243.0" stroke="#aaaaaa" stroke-width="0.7"/>
<line x1="199.9" y1="299.4" x2="199.9" y2="297.4" stroke="#aaaaaa" stroke-width="0.7"/>
<line x1="220.6" y1="241.0" x2="220.6" y2="243.0" stroke="#aaaaaa" stroke-width="0.7"/>
<line x1="220.6" y1="299.4" x2="220.6" y2="297.4" stroke="#aaaaaa" stroke-width="0.7"/>
<line x1="241.2" y1="241.0" x2="241.2" y2="243.0" stroke="#aaaaaa" stroke-width="0.7"/>
<line x1="241.2" y1="299.4" x2="241.2" y2="297.4" stroke="#aaaaaa" stroke-width="0.7"/>
<line x1="261.9" y1="241.0" x2="261.9" y2="243.0" stroke="#aaaaaa" stroke-width="0.7"/>
<line x1="261.9" y1="299.4" x2="261.9" y2="297.4" stroke="#aaaaaa" stroke-width="0.7"/>
<line x1="282.6" y1="241.0" x2="282.6" y2="243.0" stroke="#aaaaaa" stroke-width="0.7"/>
<line x1="282.6" y1="299.4" x2="282.6" y2="297.4" stroke="#aaaaaa" stroke-width="0.7"/>
<line x1="45.3" y1="248.4" x2="47.3" y2="248.4" stroke="#aaaaaa" stroke-width="0.7"/>
<line x1="290.2" y1="248.4" x2="288.2" y2="248.4" stroke="#aaaaaa" stroke-width="0.7"/>
<line x1="45.3" y1="262.7" x2="47.3" y2="262.7" stroke="#aaaaaa" stroke-width="0.7"/>
<line x1="290.2" y1="262.7" x2="288.2" y2="262.7" stroke="#aaaaaa" stroke-width="0.7"/>
<line x1="45.3" y1="277.9" x2="47.3" y2="277.9" stroke="#aaaaaa" stroke-width="0.7"/>
<line x1="290.2" y1="277.9" x2="288.2" y2="277.9" stroke="#aaaaaa" stroke-width="0.7"/>
<line x1="45.3" y1="292.2" x2="47.3" y2="292.2" stroke="#aaaaaa" stroke-width="0.7"/>
<line x1="290.2" y1="292.2" x2="288.2" y2="292.2" stroke="#aaaaaa" stroke-width="0.7"/>
<rect x="45.3" y="299.4" width="244.9" height="58.4" fill="none" stroke="#aaaaaa" stroke-width="0.9"/>
<line x1="55.2" y1="299.4" x2="55.2" y2="301.4" stroke="#aaaaaa" stroke-width="0.7"/>
<line x1="55.2" y1="357.8" x2="55.2" y2="355.8" stroke="#aaaaaa" stroke-width="0.7"/>
<line x1="75.9" y1="299.4" x2="75.9" y2="301.4" stroke="#aaaaaa" stroke-width="0.7"/>
<line x1="75.9" y1="357.8" x2="75.9" y2="355.8" stroke="#aaaaaa" stroke-width="0.7"/>
<line x1="96.5" y1="299.4" x2="96.5" y2="301.4" stroke="#aaaaaa" stroke-width="0.7"/>
<line x1="96.5" y1="357.8" x2="96.5" y2="355.8" stroke="#aaaaaa" stroke-width="0.7"/>
<line x1="117.2" y1="299.4" x2="117.2" y2="301.4" stroke="#aaaaaa" stroke-width="0.7"/>
<line x1="117.2" y1="357.8" x2="117.2" y2="355.8" stroke="#aaaaaa" stroke-width="0.7"/>
<line x1="137.9" y1="299.4" x2="137.9" y2="301.4" stroke="#aaaaaa" stroke-width="0.7"/>
<line x1="137.9" y1="357.8" x2="137.9" y2="355.8" stroke="#aaaaaa" stroke-width="0.7"/>
<line x1="158.6" y1="299.4" x2="158.6" y2="301.4" stroke="#aaaaaa" stroke-width="0.7"/>
<line x1="158.6" y1="357.8" x2="158.6" y2="355.8" stroke="#aaaaaa" stroke-width="0.7"/>
<line x1="179.2" y1="299.4" x2="179.2" y2="301.4" stroke="#aaaaaa" stroke-width="0.7"/>
<line x1="179.2" y1="357.8" x2="179.2" y2="355.8" stroke="#aaaaaa" stroke-width="0.7"/>
<line x1="199.9" y1="299.4" x2="199.9" y2="301.4" stroke="#aaaaaa" stroke-width="0.7"/>
<line x1="199.9" y1="357.8" x2="199.9" y2="355.8" stroke="#aaaaaa" stroke-width="0.7"/>
<line x1="220.6" y1="299.4" x2="220.6" y2="301.4" stroke="#aaaaaa" stroke-width="0.7"/>
<line x1="220.6" y1="357.8" x2="220.6" y2="355.8" stroke="#aaaaaa" stroke-width="0.7"/>
<line x1="241.2" y1="299.4" x2="241.2" y2="301.4" stroke="#aaaaaa" stroke-width="0.7"/>
<line x1="241.2" y1="357.8" x2="241.2" y2="355.8" stroke="#aaaaaa" stroke-width="0.7"/>
<line x1="261.9" y1="299.4" x2="261.9" y2="301.4" stroke="#aaaaaa" stroke-width="0.7"/>
<line x1="261.9" y1="357.8" x2="261.9" y2="355.8" stroke="#aaaaaa" stroke-width="0.7"/>
<line x1="282.6" y1="299.4" x2="282.6" y2="301.4" stroke="#aaaaaa" stroke-width="0.7"/>
<line x1="282.6" y1="357.8" x2="282.6" y2="355.8" stroke="#aaaaaa" stroke-width="0.7"/>
<line x1="45.3" y1="299.4" x2="47.3" y2="299.4" stroke="#aaaaaa" stroke-width="0.7"/>
<line x1="290.2" y1="299.4" x2="288.2" y2="299.4" stroke="#aaaaaa" stroke-width="0.7"/>
<line x1="45.3" y1="324.0" x2="47.3" y2="324.0" stroke="#aaaaaa" stroke-width="0.7"/>
<line x1="290.2" y1="324.0" x2="288.2" y2="324.0" stroke="#aaaaaa" stroke-width="0.7"/>
<line x1="45.3" y1="348.3" x2="47.3" y2="348.3" stroke="#aaaaaa" stroke-width="0.7"/>
<line x1="290.2" y1="348.3" x2="288.2" y2="348.3" stroke="#aaaaaa" stroke-width="0.7"/>
<text x="51.0" y="16.9" class="pl"><tspan class="pp">(</tspan>a<tspan class="pp">)</tspan></text>
<text x="50.8" y="76.1" class="pl"><tspan class="pp">(</tspan>b<tspan class="pp">)</tspan></text>
<text x="51.0" y="135.2" class="pl"><tspan class="pp">(</tspan>c<tspan class="pp">)</tspan></text>
<text x="50.6" y="192.9" class="pl"><tspan class="pp">(</tspan>d<tspan class="pp">)</tspan></text>
<text x="51.0" y="250.9" class="pl"><tspan class="pp">(</tspan>e<tspan class="pp">)</tspan></text>
<text x="51.2" y="313.5" class="pl"><tspan class="pp">(</tspan>f<tspan class="pp">)</tspan></text>
<text x="76.5" y="367.8" text-anchor="middle" class="tl">11:06:30</text>
<text x="138.2" y="367.8" text-anchor="middle" class="tl">11:07:00</text>
<text x="200.2" y="367.8" text-anchor="middle" class="tl">11:07:30</text>
<text x="262.2" y="367.8" text-anchor="middle" class="tl">11:08:00</text>
<text x="167.7" y="378.6" text-anchor="middle" class="xl">2015-10-25 UTC</text>
<text transform="translate(12.6,36.3) rotate(-90)" text-anchor="middle" class="yl">B</text>
<text transform="translate(23.4,36.5) rotate(-90)" text-anchor="middle" class="yl">[nT]</text>
<text transform="translate(25.8,94.7) rotate(-90)" text-anchor="middle" class="yl">PVI</text>
<text transform="translate(8.7,155.3) rotate(-90)" text-anchor="middle" class="yl">V<tspan style="font-size:6.5px" dy="3.9">e</tspan></text>
<text transform="translate(22.3,155) rotate(-90)" text-anchor="middle" class="yl">[km/s]</text>
<text transform="translate(8.3,211.4) rotate(-90)" text-anchor="middle" class="yl">V<tspan style="font-size:6.5px" dy="3.9">i</tspan></text>
<text transform="translate(22.3,211.6) rotate(-90)" text-anchor="middle" class="yl">[km/s]</text>
<text transform="translate(9.9,269) rotate(-90)" text-anchor="middle" class="yl">E'</text>
<text transform="translate(22.0,268.6) rotate(-90)" text-anchor="middle" class="yl">[mV/m]</text>
<text transform="translate(10.2,325.8) rotate(-90)" text-anchor="middle" class="yl">J·E'</text>
<text transform="translate(22.2,325.0) rotate(-90)" text-anchor="middle" class="yl">[nW/m<tspan style="font-size:6.5px" dy="-3.4">3</tspan><tspan dy="3.4">]</tspan></text>
<rect x="228.8" y="7.4" width="8.6" height="350.4" fill="rgb(120,195,90)" fill-opacity="0.32"/>
<text x="252.7" y="15.8" style="font-size:8.8px;fill:#111">B<tspan style="font-size:6.4px" dy="3.2">x</tspan></text>
<text x="268.8" y="15.8" style="font-size:8.8px;fill:#1a1aff">B<tspan style="font-size:6.4px" dy="3.2">y</tspan></text>
<text x="279.3" y="15.8" style="font-size:8.8px;fill:#ff1a1a">B<tspan style="font-size:6.4px" dy="3.2">z</tspan></text>
<text x="268.6" y="76.6" style="font-size:8.6px;fill:#111" textLength="11.4" lengthAdjust="spacingAndGlyphs">PVI</text>
<text x="248.0" y="132.7" style="font-size:8.8px;fill:#111">V<tspan style="font-size:6.4px" dy="3.2">ex</tspan></text>
<text x="262.0" y="132.7" style="font-size:8.8px;fill:#1a1aff">V<tspan style="font-size:6.4px" dy="3.2">ey</tspan></text>
<text x="276.4" y="132.7" style="font-size:8.8px;fill:#ff1a1a">V<tspan style="font-size:6.4px" dy="3.2">ez</tspan></text>
<text x="254.2" y="191.3" style="font-size:8.8px;fill:#111">V<tspan style="font-size:6.4px" dy="3.2">ix</tspan></text>
<text x="265.6" y="191.3" style="font-size:8.8px;fill:#1a1aff">V<tspan style="font-size:6.4px" dy="3.2">iy</tspan></text>
<text x="277.8" y="191.3" style="font-size:8.8px;fill:#ff1a1a">V<tspan style="font-size:6.4px" dy="3.2">iz</tspan></text>
<text x="252.8" y="251.3" style="font-size:8.6px;fill:#111">E'<tspan style="font-size:6.2px" dy="3">x</tspan></text>
<text x="265.6" y="251.3" style="font-size:8.6px;fill:#1a1aff">E'<tspan style="font-size:6.2px" dy="3">y</tspan></text>
<text x="276.8" y="251.3" style="font-size:8.6px;fill:#ff1a1a">E'<tspan style="font-size:6.2px" dy="3">z</tspan></text>
<text x="265.0" y="312.6" style="font-size:8.6px;fill:#111" textLength="12.9" lengthAdjust="spacingAndGlyphs">J·E'</text>
<line x1="236.1" y1="7.4" x2="326.4" y2="145.5" stroke="#5ab43c" stroke-width="1.8" stroke-dasharray="10 10.6" stroke-dashoffset="5.2"/>
<line x1="237.1" y1="357.8" x2="316.3" y2="354.7" stroke="#5ab43c" stroke-width="1.8" stroke-dasharray="9.5 10.1" stroke-dashoffset="4.5"/>
<rect x="340.4" y="7.3" width="127.8" height="125.3" fill="none" stroke="#cfcfcf" stroke-width="1.2"/>
<line x1="340.4" y1="133.0" x2="340.4" y2="130.4" stroke="#777" stroke-width="0.6"/>
<line x1="340.4" y1="6.8999999999999995" x2="340.4" y2="9.5" stroke="#777" stroke-width="0.6"/>
<line x1="346.8" y1="133.0" x2="346.8" y2="131.5" stroke="#777" stroke-width="0.6"/>
<line x1="346.8" y1="6.8999999999999995" x2="346.8" y2="8.4" stroke="#777" stroke-width="0.6"/>
<line x1="353.2" y1="133.0" x2="353.2" y2="131.5" stroke="#777" stroke-width="0.6"/>
<line x1="353.2" y1="6.8999999999999995" x2="353.2" y2="8.4" stroke="#777" stroke-width="0.6"/>
<line x1="359.6" y1="133.0" x2="359.6" y2="131.5" stroke="#777" stroke-width="0.6"/>
<line x1="359.6" y1="6.8999999999999995" x2="359.6" y2="8.4" stroke="#777" stroke-width="0.6"/>
<line x1="366.0" y1="133.0" x2="366.0" y2="131.5" stroke="#777" stroke-width="0.6"/>
<line x1="366.0" y1="6.8999999999999995" x2="366.0" y2="8.4" stroke="#777" stroke-width="0.6"/>
<line x1="372.3" y1="133.0" x2="372.3" y2="130.4" stroke="#777" stroke-width="0.6"/>
<line x1="372.3" y1="6.8999999999999995" x2="372.3" y2="9.5" stroke="#777" stroke-width="0.6"/>
<line x1="378.7" y1="133.0" x2="378.7" y2="131.5" stroke="#777" stroke-width="0.6"/>
<line x1="378.7" y1="6.8999999999999995" x2="378.7" y2="8.4" stroke="#777" stroke-width="0.6"/>
<line x1="385.1" y1="133.0" x2="385.1" y2="131.5" stroke="#777" stroke-width="0.6"/>
<line x1="385.1" y1="6.8999999999999995" x2="385.1" y2="8.4" stroke="#777" stroke-width="0.6"/>
<line x1="391.5" y1="133.0" x2="391.5" y2="131.5" stroke="#777" stroke-width="0.6"/>
<line x1="391.5" y1="6.8999999999999995" x2="391.5" y2="8.4" stroke="#777" stroke-width="0.6"/>
<line x1="397.9" y1="133.0" x2="397.9" y2="131.5" stroke="#777" stroke-width="0.6"/>
<line x1="397.9" y1="6.8999999999999995" x2="397.9" y2="8.4" stroke="#777" stroke-width="0.6"/>
<line x1="404.3" y1="133.0" x2="404.3" y2="130.4" stroke="#777" stroke-width="0.6"/>
<line x1="404.3" y1="6.8999999999999995" x2="404.3" y2="9.5" stroke="#777" stroke-width="0.6"/>
<line x1="410.7" y1="133.0" x2="410.7" y2="131.5" stroke="#777" stroke-width="0.6"/>
<line x1="410.7" y1="6.8999999999999995" x2="410.7" y2="8.4" stroke="#777" stroke-width="0.6"/>
<line x1="417.1" y1="133.0" x2="417.1" y2="131.5" stroke="#777" stroke-width="0.6"/>
<line x1="417.1" y1="6.8999999999999995" x2="417.1" y2="8.4" stroke="#777" stroke-width="0.6"/>
<line x1="423.5" y1="133.0" x2="423.5" y2="131.5" stroke="#777" stroke-width="0.6"/>
<line x1="423.5" y1="6.8999999999999995" x2="423.5" y2="8.4" stroke="#777" stroke-width="0.6"/>
<line x1="429.9" y1="133.0" x2="429.9" y2="131.5" stroke="#777" stroke-width="0.6"/>
<line x1="429.9" y1="6.8999999999999995" x2="429.9" y2="8.4" stroke="#777" stroke-width="0.6"/>
<line x1="436.2" y1="133.0" x2="436.2" y2="130.4" stroke="#777" stroke-width="0.6"/>
<line x1="436.2" y1="6.8999999999999995" x2="436.2" y2="9.5" stroke="#777" stroke-width="0.6"/>
<line x1="442.6" y1="133.0" x2="442.6" y2="131.5" stroke="#777" stroke-width="0.6"/>
<line x1="442.6" y1="6.8999999999999995" x2="442.6" y2="8.4" stroke="#777" stroke-width="0.6"/>
<line x1="449.0" y1="133.0" x2="449.0" y2="131.5" stroke="#777" stroke-width="0.6"/>
<line x1="449.0" y1="6.8999999999999995" x2="449.0" y2="8.4" stroke="#777" stroke-width="0.6"/>
<line x1="455.4" y1="133.0" x2="455.4" y2="131.5" stroke="#777" stroke-width="0.6"/>
<line x1="455.4" y1="6.8999999999999995" x2="455.4" y2="8.4" stroke="#777" stroke-width="0.6"/>
<line x1="461.8" y1="133.0" x2="461.8" y2="131.5" stroke="#777" stroke-width="0.6"/>
<line x1="461.8" y1="6.8999999999999995" x2="461.8" y2="8.4" stroke="#777" stroke-width="0.6"/>
<line x1="468.2" y1="133.0" x2="468.2" y2="130.4" stroke="#777" stroke-width="0.6"/>
<line x1="468.2" y1="6.8999999999999995" x2="468.2" y2="9.5" stroke="#777" stroke-width="0.6"/>
<line x1="340.0" y1="132.6" x2="342.59999999999997" y2="132.6" stroke="#777" stroke-width="0.6"/>
<line x1="468.59999999999997" y1="132.6" x2="466.0" y2="132.6" stroke="#777" stroke-width="0.6"/>
<line x1="340.0" y1="126.3" x2="341.5" y2="126.3" stroke="#777" stroke-width="0.6"/>
<line x1="468.59999999999997" y1="126.3" x2="467.09999999999997" y2="126.3" stroke="#777" stroke-width="0.6"/>
<line x1="340.0" y1="120.1" x2="341.5" y2="120.1" stroke="#777" stroke-width="0.6"/>
<line x1="468.59999999999997" y1="120.1" x2="467.09999999999997" y2="120.1" stroke="#777" stroke-width="0.6"/>
<line x1="340.0" y1="113.8" x2="341.5" y2="113.8" stroke="#777" stroke-width="0.6"/>
<line x1="468.59999999999997" y1="113.8" x2="467.09999999999997" y2="113.8" stroke="#777" stroke-width="0.6"/>
<line x1="340.0" y1="107.5" x2="341.5" y2="107.5" stroke="#777" stroke-width="0.6"/>
<line x1="468.59999999999997" y1="107.5" x2="467.09999999999997" y2="107.5" stroke="#777" stroke-width="0.6"/>
<line x1="340.0" y1="101.3" x2="342.59999999999997" y2="101.3" stroke="#777" stroke-width="0.6"/>
<line x1="468.59999999999997" y1="101.3" x2="466.0" y2="101.3" stroke="#777" stroke-width="0.6"/>
<line x1="340.0" y1="95.0" x2="341.5" y2="95.0" stroke="#777" stroke-width="0.6"/>
<line x1="468.59999999999997" y1="95.0" x2="467.09999999999997" y2="95.0" stroke="#777" stroke-width="0.6"/>
<line x1="340.0" y1="88.7" x2="341.5" y2="88.7" stroke="#777" stroke-width="0.6"/>
<line x1="468.59999999999997" y1="88.7" x2="467.09999999999997" y2="88.7" stroke="#777" stroke-width="0.6"/>
<line x1="340.0" y1="82.5" x2="341.5" y2="82.5" stroke="#777" stroke-width="0.6"/>
<line x1="468.59999999999997" y1="82.5" x2="467.09999999999997" y2="82.5" stroke="#777" stroke-width="0.6"/>
<line x1="340.0" y1="76.2" x2="341.5" y2="76.2" stroke="#777" stroke-width="0.6"/>
<line x1="468.59999999999997" y1="76.2" x2="467.09999999999997" y2="76.2" stroke="#777" stroke-width="0.6"/>
<line x1="340.0" y1="70.0" x2="342.59999999999997" y2="70.0" stroke="#777" stroke-width="0.6"/>
<line x1="468.59999999999997" y1="70.0" x2="466.0" y2="70.0" stroke="#777" stroke-width="0.6"/>
<line x1="340.0" y1="63.7" x2="341.5" y2="63.7" stroke="#777" stroke-width="0.6"/>
<line x1="468.59999999999997" y1="63.7" x2="467.09999999999997" y2="63.7" stroke="#777" stroke-width="0.6"/>
<line x1="340.0" y1="57.4" x2="341.5" y2="57.4" stroke="#777" stroke-width="0.6"/>
<line x1="468.59999999999997" y1="57.4" x2="467.09999999999997" y2="57.4" stroke="#777" stroke-width="0.6"/>
<line x1="340.0" y1="51.2" x2="341.5" y2="51.2" stroke="#777" stroke-width="0.6"/>
<line x1="468.59999999999997" y1="51.2" x2="467.09999999999997" y2="51.2" stroke="#777" stroke-width="0.6"/>
<line x1="340.0" y1="44.9" x2="341.5" y2="44.9" stroke="#777" stroke-width="0.6"/>
<line x1="468.59999999999997" y1="44.9" x2="467.09999999999997" y2="44.9" stroke="#777" stroke-width="0.6"/>
<line x1="340.0" y1="38.6" x2="342.59999999999997" y2="38.6" stroke="#777" stroke-width="0.6"/>
<line x1="468.59999999999997" y1="38.6" x2="466.0" y2="38.6" stroke="#777" stroke-width="0.6"/>
<line x1="340.0" y1="32.4" x2="341.5" y2="32.4" stroke="#777" stroke-width="0.6"/>
<line x1="468.59999999999997" y1="32.4" x2="467.09999999999997" y2="32.4" stroke="#777" stroke-width="0.6"/>
<line x1="340.0" y1="26.1" x2="341.5" y2="26.1" stroke="#777" stroke-width="0.6"/>
<line x1="468.59999999999997" y1="26.1" x2="467.09999999999997" y2="26.1" stroke="#777" stroke-width="0.6"/>
<line x1="340.0" y1="19.8" x2="341.5" y2="19.8" stroke="#777" stroke-width="0.6"/>
<line x1="468.59999999999997" y1="19.8" x2="467.09999999999997" y2="19.8" stroke="#777" stroke-width="0.6"/>
<line x1="340.0" y1="13.6" x2="341.5" y2="13.6" stroke="#777" stroke-width="0.6"/>
<line x1="468.59999999999997" y1="13.6" x2="467.09999999999997" y2="13.6" stroke="#777" stroke-width="0.6"/>
<line x1="340.0" y1="7.3" x2="342.59999999999997" y2="7.3" stroke="#777" stroke-width="0.6"/>
<line x1="468.59999999999997" y1="7.3" x2="466.0" y2="7.3" stroke="#777" stroke-width="0.6"/>
<text x="340.4" y="139.8" text-anchor="middle" class="gs">-5</text>
<text x="372.3" y="139.8" text-anchor="middle" class="gs">0</text>
<text x="404.3" y="139.8" text-anchor="middle" class="gs">5</text>
<text x="436.2" y="139.8" text-anchor="middle" class="gs">10</text>
<text x="468.2" y="139.8" text-anchor="middle" class="gs">15</text>
<text x="338.0" y="9.1" text-anchor="end" class="gs">10</text>
<text x="338.0" y="40.4" text-anchor="end" class="gs">5</text>
<text x="338.0" y="71.8" text-anchor="end" class="gs">0</text>
<text x="338.0" y="103.1" text-anchor="end" class="gs">-5</text>
<text x="338.0" y="134.4" text-anchor="end" class="gs">-10</text>
<text x="404" y="5.2" text-anchor="middle" style="font-size:6.4px">spacecraft position</text>
<text transform="translate(394.3,145.5) scale(0.84,1)" style="font-size:6.4px">X<tspan style="font-size:3.8px" dy="1.3">GSE</tspan><tspan dy="-1.3">[Re]</tspan></text>
<text transform="translate(327.3,70.0) rotate(-90) scale(0.82,1)" text-anchor="middle" style="font-size:6.4px">Y<tspan style="font-size:3.8px" dy="1.3">GSE</tspan><tspan dy="-1.3">[Re]</tspan></text>
<text x="311.2" y="16" class="gl">(g)</text>
<circle cx="372.3" cy="70.0" r="6.7" fill="#fff" stroke="#111" stroke-width="0.7"/>
<path d="M372.3,63.2 A6.7,6.7 0 0 0 372.3,76.7 Z" fill="#111"/>
<polyline points="401.1,132.6 402.2,131.3 403.2,130.1 404.3,128.8 405.3,127.6 406.3,126.3 407.2,125.1 408.2,123.8 409.1,122.6 410.0,121.3 410.9,120.1 411.7,118.8 412.6,117.6 413.4,116.3 414.2,115.1 415.0,113.8 415.7,112.6 416.4,111.3 417.1,110.0 417.8,108.8 418.5,107.5 419.1,106.3 419.7,105.0 420.3,103.8 420.9,102.5 421.5,101.3 422.0,100.0 422.5,98.8 423.0,97.5 423.5,96.3 423.9,95.0 424.3,93.8 424.7,92.5 425.1,91.3 425.5,90.0 425.8,88.7 426.1,87.5 426.4,86.2 426.7,85.0 426.9,83.7 427.2,82.5 427.4,81.2 427.6,80.0 427.7,78.7 427.9,77.5 428.0,76.2 428.1,75.0 428.2,73.7 428.2,72.5 428.3,71.2 428.3,70.0 428.3,68.7 428.2,67.4 428.2,66.2 428.1,64.9 428.0,63.7 427.9,62.4 427.7,61.2 427.6,59.9 427.4,58.7 427.2,57.4 426.9,56.2 426.7,54.9 426.4,53.7 426.1,52.4 425.8,51.2 425.5,49.9 425.1,48.6 424.7,47.4 424.3,46.1 423.9,44.9 423.5,43.6 423.0,42.4 422.5,41.1 422.0,39.9 421.5,38.6 420.9,37.4 420.3,36.1 419.7,34.9 419.1,33.6 418.5,32.4 417.8,31.1 417.1,29.9 416.4,28.6 415.7,27.3 415.0,26.1 414.2,24.8 413.4,23.6 412.6,22.3 411.7,21.1 410.9,19.8 410.0,18.6 409.1,17.3 408.2,16.1 407.2,14.8 406.3,13.6 405.3,12.3 404.3,11.1 403.2,9.8 402.2,8.6 401.1,7.3" fill="none" stroke="#111" stroke-width="1.0" stroke-linejoin="round" stroke-dasharray="2.8 1.6"/>
<polyline points="428.9,132.6 429.6,131.3 430.3,130.1 431.0,128.8 431.6,127.6 432.3,126.3 432.9,125.1 433.6,123.8 434.2,122.6 434.8,121.3 435.3,120.1 435.9,118.8 436.5,117.6 437.0,116.3 437.5,115.1 438.0,113.8 438.5,112.6 439.0,111.3 439.5,110.0 439.9,108.8 440.4,107.5 440.8,106.3 441.2,105.0 441.6,103.8 442.0,102.5 442.3,101.3 442.7,100.0 443.0,98.8 443.3,97.5 443.6,96.3 443.9,95.0 444.2,93.8 444.5,92.5 444.7,91.3 445.0,90.0 445.2,88.7 445.4,87.5 445.6,86.2 445.8,85.0 445.9,83.7 446.1,82.5 446.2,81.2 446.3,80.0 446.4,78.7 446.5,77.5 446.6,76.2 446.7,75.0 446.7,73.7 446.8,72.5 446.8,71.2 446.8,70.0 446.8,68.7 446.8,67.4 446.7,66.2 446.7,64.9 446.6,63.7 446.5,62.4 446.4,61.2 446.3,59.9 446.2,58.7 446.1,57.4 445.9,56.2 445.8,54.9 445.6,53.7 445.4,52.4 445.2,51.2 445.0,49.9 444.7,48.6 444.5,47.4 444.2,46.1 443.9,44.9 443.6,43.6 443.3,42.4 443.0,41.1 442.7,39.9 442.3,38.6 442.0,37.4 441.6,36.1 441.2,34.9 440.8,33.6 440.4,32.4 439.9,31.1 439.5,29.9 439.0,28.6 438.5,27.3 438.0,26.1 437.5,24.8 437.0,23.6 436.5,22.3 435.9,21.1 435.3,19.8 434.8,18.6 434.2,17.3 433.6,16.1 432.9,14.8 432.3,13.6 431.6,12.3 431.0,11.1 430.3,9.8 429.6,8.6 428.9,7.3" fill="none" stroke="#111" stroke-width="0.85" stroke-linejoin="round" stroke-dasharray="3.2 1.2 0.9 1.2"/>
<path d="M433.4,25.299999999999997L436.6,28.5M433.4,28.5L436.6,25.299999999999997M433,26.9L437,26.9" stroke="#ff4040" stroke-width="0.9"/>
<line x1="353.4" y1="144.6" x2="353.4" y2="198.7" stroke="#eeeeee" stroke-width="0.7"/>
<line x1="366.3" y1="144.6" x2="366.3" y2="198.7" stroke="#eeeeee" stroke-width="0.7"/>
<line x1="379.2" y1="144.6" x2="379.2" y2="198.7" stroke="#eeeeee" stroke-width="0.7"/>
<line x1="392.1" y1="144.6" x2="392.1" y2="198.7" stroke="#eeeeee" stroke-width="0.7"/>
<line x1="404.9" y1="144.6" x2="404.9" y2="198.7" stroke="#eeeeee" stroke-width="0.7"/>
<line x1="417.8" y1="144.6" x2="417.8" y2="198.7" stroke="#eeeeee" stroke-width="0.7"/>
<line x1="430.7" y1="144.6" x2="430.7" y2="198.7" stroke="#eeeeee" stroke-width="0.7"/>
<line x1="443.6" y1="144.6" x2="443.6" y2="198.7" stroke="#eeeeee" stroke-width="0.7"/>
<line x1="456.5" y1="144.6" x2="456.5" y2="198.7" stroke="#eeeeee" stroke-width="0.7"/>
<line x1="340.5" y1="145.3" x2="469.4" y2="145.3" stroke="#eeeeee" stroke-width="0.7"/>
<line x1="340.5" y1="172.2" x2="469.4" y2="172.2" stroke="#eeeeee" stroke-width="0.7"/>
<line x1="353.4" y1="198.7" x2="353.4" y2="252.9" stroke="#eeeeee" stroke-width="0.7"/>
<line x1="366.3" y1="198.7" x2="366.3" y2="252.9" stroke="#eeeeee" stroke-width="0.7"/>
<line x1="379.2" y1="198.7" x2="379.2" y2="252.9" stroke="#eeeeee" stroke-width="0.7"/>
<line x1="392.1" y1="198.7" x2="392.1" y2="252.9" stroke="#eeeeee" stroke-width="0.7"/>
<line x1="404.9" y1="198.7" x2="404.9" y2="252.9" stroke="#eeeeee" stroke-width="0.7"/>
<line x1="417.8" y1="198.7" x2="417.8" y2="252.9" stroke="#eeeeee" stroke-width="0.7"/>
<line x1="430.7" y1="198.7" x2="430.7" y2="252.9" stroke="#eeeeee" stroke-width="0.7"/>
<line x1="443.6" y1="198.7" x2="443.6" y2="252.9" stroke="#eeeeee" stroke-width="0.7"/>
<line x1="456.5" y1="198.7" x2="456.5" y2="252.9" stroke="#eeeeee" stroke-width="0.7"/>
<line x1="340.5" y1="206.5" x2="469.4" y2="206.5" stroke="#eeeeee" stroke-width="0.7"/>
<line x1="340.5" y1="222.0" x2="469.4" y2="222.0" stroke="#eeeeee" stroke-width="0.7"/>
<line x1="340.5" y1="237.4" x2="469.4" y2="237.4" stroke="#eeeeee" stroke-width="0.7"/>
<line x1="353.4" y1="252.9" x2="353.4" y2="307.2" stroke="#eeeeee" stroke-width="0.7"/>
<line x1="366.3" y1="252.9" x2="366.3" y2="307.2" stroke="#eeeeee" stroke-width="0.7"/>
<line x1="379.2" y1="252.9" x2="379.2" y2="307.2" stroke="#eeeeee" stroke-width="0.7"/>
<line x1="392.1" y1="252.9" x2="392.1" y2="307.2" stroke="#eeeeee" stroke-width="0.7"/>
<line x1="404.9" y1="252.9" x2="404.9" y2="307.2" stroke="#eeeeee" stroke-width="0.7"/>
<line x1="417.8" y1="252.9" x2="417.8" y2="307.2" stroke="#eeeeee" stroke-width="0.7"/>
<line x1="430.7" y1="252.9" x2="430.7" y2="307.2" stroke="#eeeeee" stroke-width="0.7"/>
<line x1="443.6" y1="252.9" x2="443.6" y2="307.2" stroke="#eeeeee" stroke-width="0.7"/>
<line x1="456.5" y1="252.9" x2="456.5" y2="307.2" stroke="#eeeeee" stroke-width="0.7"/>
<line x1="340.5" y1="259.8" x2="469.4" y2="259.8" stroke="#eeeeee" stroke-width="0.7"/>
<line x1="340.5" y1="271.7" x2="469.4" y2="271.7" stroke="#eeeeee" stroke-width="0.7"/>
<line x1="340.5" y1="283.7" x2="469.4" y2="283.7" stroke="#eeeeee" stroke-width="0.7"/>
<line x1="340.5" y1="295.7" x2="469.4" y2="295.7" stroke="#eeeeee" stroke-width="0.7"/>
<line x1="353.4" y1="307.2" x2="353.4" y2="361.4" stroke="#eeeeee" stroke-width="0.7"/>
<line x1="366.3" y1="307.2" x2="366.3" y2="361.4" stroke="#eeeeee" stroke-width="0.7"/>
<line x1="379.2" y1="307.2" x2="379.2" y2="361.4" stroke="#eeeeee" stroke-width="0.7"/>
<line x1="392.1" y1="307.2" x2="392.1" y2="361.4" stroke="#eeeeee" stroke-width="0.7"/>
<line x1="404.9" y1="307.2" x2="404.9" y2="361.4" stroke="#eeeeee" stroke-width="0.7"/>
<line x1="417.8" y1="307.2" x2="417.8" y2="361.4" stroke="#eeeeee" stroke-width="0.7"/>
<line x1="430.7" y1="307.2" x2="430.7" y2="361.4" stroke="#eeeeee" stroke-width="0.7"/>
<line x1="443.6" y1="307.2" x2="443.6" y2="361.4" stroke="#eeeeee" stroke-width="0.7"/>
<line x1="456.5" y1="307.2" x2="456.5" y2="361.4" stroke="#eeeeee" stroke-width="0.7"/>
<line x1="340.5" y1="313.0" x2="469.4" y2="313.0" stroke="#eeeeee" stroke-width="0.7"/>
<line x1="340.5" y1="328.4" x2="469.4" y2="328.4" stroke="#eeeeee" stroke-width="0.7"/>
<line x1="340.5" y1="343.8" x2="469.4" y2="343.8" stroke="#eeeeee" stroke-width="0.7"/>
<text x="339" y="147.4" text-anchor="end" class="hs">50</text>
<text x="339" y="174.3" text-anchor="end" class="hs">0</text>
<text x="339" y="200.5" text-anchor="end" class="hs">-50</text>
<text x="339" y="208.6" text-anchor="end" class="hs">12</text>
<text x="339" y="224.1" text-anchor="end" class="hs">10</text>
<text x="339" y="239.5" text-anchor="end" class="hs">8</text>
<text x="339" y="254.9" text-anchor="end" class="hs">6</text>
<text x="339" y="261.9" text-anchor="end" class="hs">600</text>
<text x="339" y="273.8" text-anchor="end" class="hs">400</text>
<text x="339" y="285.8" text-anchor="end" class="hs">200</text>
<text x="339" y="297.8" text-anchor="end" class="hs">0</text>
<text x="339" y="309.7" text-anchor="end" class="hs">-200</text>
<text x="339" y="316.1" text-anchor="end" class="hs">8.5</text>
<text x="339" y="330.9" text-anchor="end" class="hs">8</text>
<text x="339" y="346.2" text-anchor="end" class="hs">7.5</text>
<text x="339" y="361.1" text-anchor="end" class="hs">7</text>
<polyline points="340.6,171.3 353.5,172.8 366.5,173.8 376.0,175.2 386.0,174.2 400.0,173.0 406.0,172.5 418.0,172.6 430.0,172.7 443.0,173.8 456.0,174.6 469.4,174.3" fill="none" stroke="#ff6060" stroke-width="0.95" stroke-linejoin="round"/>
<polyline points="340.6,154.9 353.5,157.8 366.5,162.0 379.5,167.0 392.7,170.5 400.0,171.1 406.0,170.5 418.0,168.5 430.0,166.2 443.0,162.8 456.0,162.0 469.4,163.6" fill="none" stroke="#4040ff" stroke-width="0.95" stroke-linejoin="round"/>
<polyline points="340.6,146.8 353.5,150.0 366.5,153.5 379.5,159.5 392.7,165.4 400.0,168.4 406.5,168.4 418.0,163.8 430.0,158.9 440.0,154.8 449.4,151.5 459.0,148.2 469.4,145.6" fill="none" stroke="#4ee06a" stroke-width="1.0" stroke-linejoin="round"/>
<polyline points="340.6,153.2 346.0,152.8 353.5,153.4 366.5,155.2 379.5,158.8 392.7,164.5 400.0,170.2 404.0,173.6 417.0,178.8 430.0,183.2 443.0,187.8 456.0,192.0 469.4,194.4" fill="none" stroke="#333" stroke-width="0.95" stroke-linejoin="round"/>
<polyline points="340.6,231.2 353.5,226.1 366.5,220.6 379.5,214.1 392.5,209.0 400.0,206.8 406.6,205.6 417.6,207.3 430.5,213.0 443.0,222.4 456.0,234.7 469.4,248.4" fill="none" stroke="#333" stroke-width="0.95" stroke-linejoin="round"/>
<polyline points="340.6,286.0 353.5,287.2 366.5,287.6 379.5,288.6 392.5,287.6 400.0,285.6 404.6,283.8 417.6,281.3 430.5,279.7 443.0,279.4 456.0,279.7 469.4,280.8" fill="none" stroke="#ff6060" stroke-width="0.95" stroke-linejoin="round"/>
<polyline points="340.6,281.0 353.5,283.8 366.5,291.4 379.5,299.9 392.5,303.3 400.0,304.2 417.6,305.2 430.5,304.1 443.0,301.5 456.0,297.8 469.4,294.2" fill="none" stroke="#4040ff" stroke-width="0.95" stroke-linejoin="round"/>
<polyline points="340.6,260.1 346.2,258.8 353.5,260.1 366.5,265.2 379.5,273.7 392.5,282.1 400.0,287.5 404.6,290.4 417.6,296.2 426.0,296.2 430.5,292.0 443.0,283.0 450.0,279.7 456.0,277.2 469.4,276.0" fill="none" stroke="#333" stroke-width="0.95" stroke-linejoin="round"/>
<polyline points="340.6,356.8 345.3,349.5 383.6,308.4 421.3,318.5 459.3,353.8 463.5,361.4" fill="none" stroke="#333" stroke-width="0.95" stroke-linejoin="round"/>
<rect x="340.5" y="144.6" width="128.9" height="54.1" fill="none" stroke="#bbb" stroke-width="0.7"/>
<line x1="353.4" y1="144.6" x2="353.4" y2="146.1" stroke="#888" stroke-width="0.5"/>
<line x1="353.4" y1="198.7" x2="353.4" y2="197.2" stroke="#888" stroke-width="0.5"/>
<line x1="366.3" y1="144.6" x2="366.3" y2="146.1" stroke="#888" stroke-width="0.5"/>
<line x1="366.3" y1="198.7" x2="366.3" y2="197.2" stroke="#888" stroke-width="0.5"/>
<line x1="379.2" y1="144.6" x2="379.2" y2="146.1" stroke="#888" stroke-width="0.5"/>
<line x1="379.2" y1="198.7" x2="379.2" y2="197.2" stroke="#888" stroke-width="0.5"/>
<line x1="392.1" y1="144.6" x2="392.1" y2="146.1" stroke="#888" stroke-width="0.5"/>
<line x1="392.1" y1="198.7" x2="392.1" y2="197.2" stroke="#888" stroke-width="0.5"/>
<line x1="404.9" y1="144.6" x2="404.9" y2="146.1" stroke="#888" stroke-width="0.5"/>
<line x1="404.9" y1="198.7" x2="404.9" y2="197.2" stroke="#888" stroke-width="0.5"/>
<line x1="417.8" y1="144.6" x2="417.8" y2="146.1" stroke="#888" stroke-width="0.5"/>
<line x1="417.8" y1="198.7" x2="417.8" y2="197.2" stroke="#888" stroke-width="0.5"/>
<line x1="430.7" y1="144.6" x2="430.7" y2="146.1" stroke="#888" stroke-width="0.5"/>
<line x1="430.7" y1="198.7" x2="430.7" y2="197.2" stroke="#888" stroke-width="0.5"/>
<line x1="443.6" y1="144.6" x2="443.6" y2="146.1" stroke="#888" stroke-width="0.5"/>
<line x1="443.6" y1="198.7" x2="443.6" y2="197.2" stroke="#888" stroke-width="0.5"/>
<line x1="456.5" y1="144.6" x2="456.5" y2="146.1" stroke="#888" stroke-width="0.5"/>
<line x1="456.5" y1="198.7" x2="456.5" y2="197.2" stroke="#888" stroke-width="0.5"/>
<rect x="340.5" y="198.7" width="128.9" height="54.2" fill="none" stroke="#bbb" stroke-width="0.7"/>
<line x1="353.4" y1="198.7" x2="353.4" y2="200.2" stroke="#888" stroke-width="0.5"/>
<line x1="353.4" y1="252.9" x2="353.4" y2="251.4" stroke="#888" stroke-width="0.5"/>
<line x1="366.3" y1="198.7" x2="366.3" y2="200.2" stroke="#888" stroke-width="0.5"/>
<line x1="366.3" y1="252.9" x2="366.3" y2="251.4" stroke="#888" stroke-width="0.5"/>
<line x1="379.2" y1="198.7" x2="379.2" y2="200.2" stroke="#888" stroke-width="0.5"/>
<line x1="379.2" y1="252.9" x2="379.2" y2="251.4" stroke="#888" stroke-width="0.5"/>
<line x1="392.1" y1="198.7" x2="392.1" y2="200.2" stroke="#888" stroke-width="0.5"/>
<line x1="392.1" y1="252.9" x2="392.1" y2="251.4" stroke="#888" stroke-width="0.5"/>
<line x1="404.9" y1="198.7" x2="404.9" y2="200.2" stroke="#888" stroke-width="0.5"/>
<line x1="404.9" y1="252.9" x2="404.9" y2="251.4" stroke="#888" stroke-width="0.5"/>
<line x1="417.8" y1="198.7" x2="417.8" y2="200.2" stroke="#888" stroke-width="0.5"/>
<line x1="417.8" y1="252.9" x2="417.8" y2="251.4" stroke="#888" stroke-width="0.5"/>
<line x1="430.7" y1="198.7" x2="430.7" y2="200.2" stroke="#888" stroke-width="0.5"/>
<line x1="430.7" y1="252.9" x2="430.7" y2="251.4" stroke="#888" stroke-width="0.5"/>
<line x1="443.6" y1="198.7" x2="443.6" y2="200.2" stroke="#888" stroke-width="0.5"/>
<line x1="443.6" y1="252.9" x2="443.6" y2="251.4" stroke="#888" stroke-width="0.5"/>
<line x1="456.5" y1="198.7" x2="456.5" y2="200.2" stroke="#888" stroke-width="0.5"/>
<line x1="456.5" y1="252.9" x2="456.5" y2="251.4" stroke="#888" stroke-width="0.5"/>
<rect x="340.5" y="252.9" width="128.9" height="54.3" fill="none" stroke="#bbb" stroke-width="0.7"/>
<line x1="353.4" y1="252.9" x2="353.4" y2="254.4" stroke="#888" stroke-width="0.5"/>
<line x1="353.4" y1="307.2" x2="353.4" y2="305.7" stroke="#888" stroke-width="0.5"/>
<line x1="366.3" y1="252.9" x2="366.3" y2="254.4" stroke="#888" stroke-width="0.5"/>
<line x1="366.3" y1="307.2" x2="366.3" y2="305.7" stroke="#888" stroke-width="0.5"/>
<line x1="379.2" y1="252.9" x2="379.2" y2="254.4" stroke="#888" stroke-width="0.5"/>
<line x1="379.2" y1="307.2" x2="379.2" y2="305.7" stroke="#888" stroke-width="0.5"/>
<line x1="392.1" y1="252.9" x2="392.1" y2="254.4" stroke="#888" stroke-width="0.5"/>
<line x1="392.1" y1="307.2" x2="392.1" y2="305.7" stroke="#888" stroke-width="0.5"/>
<line x1="404.9" y1="252.9" x2="404.9" y2="254.4" stroke="#888" stroke-width="0.5"/>
<line x1="404.9" y1="307.2" x2="404.9" y2="305.7" stroke="#888" stroke-width="0.5"/>
<line x1="417.8" y1="252.9" x2="417.8" y2="254.4" stroke="#888" stroke-width="0.5"/>
<line x1="417.8" y1="307.2" x2="417.8" y2="305.7" stroke="#888" stroke-width="0.5"/>
<line x1="430.7" y1="252.9" x2="430.7" y2="254.4" stroke="#888" stroke-width="0.5"/>
<line x1="430.7" y1="307.2" x2="430.7" y2="305.7" stroke="#888" stroke-width="0.5"/>
<line x1="443.6" y1="252.9" x2="443.6" y2="254.4" stroke="#888" stroke-width="0.5"/>
<line x1="443.6" y1="307.2" x2="443.6" y2="305.7" stroke="#888" stroke-width="0.5"/>
<line x1="456.5" y1="252.9" x2="456.5" y2="254.4" stroke="#888" stroke-width="0.5"/>
<line x1="456.5" y1="307.2" x2="456.5" y2="305.7" stroke="#888" stroke-width="0.5"/>
<rect x="340.5" y="307.2" width="128.9" height="54.2" fill="none" stroke="#bbb" stroke-width="0.7"/>
<line x1="353.4" y1="307.2" x2="353.4" y2="308.7" stroke="#888" stroke-width="0.5"/>
<line x1="353.4" y1="361.4" x2="353.4" y2="359.9" stroke="#888" stroke-width="0.5"/>
<line x1="366.3" y1="307.2" x2="366.3" y2="308.7" stroke="#888" stroke-width="0.5"/>
<line x1="366.3" y1="361.4" x2="366.3" y2="359.9" stroke="#888" stroke-width="0.5"/>
<line x1="379.2" y1="307.2" x2="379.2" y2="308.7" stroke="#888" stroke-width="0.5"/>
<line x1="379.2" y1="361.4" x2="379.2" y2="359.9" stroke="#888" stroke-width="0.5"/>
<line x1="392.1" y1="307.2" x2="392.1" y2="308.7" stroke="#888" stroke-width="0.5"/>
<line x1="392.1" y1="361.4" x2="392.1" y2="359.9" stroke="#888" stroke-width="0.5"/>
<line x1="404.9" y1="307.2" x2="404.9" y2="308.7" stroke="#888" stroke-width="0.5"/>
<line x1="404.9" y1="361.4" x2="404.9" y2="359.9" stroke="#888" stroke-width="0.5"/>
<line x1="417.8" y1="307.2" x2="417.8" y2="308.7" stroke="#888" stroke-width="0.5"/>
<line x1="417.8" y1="361.4" x2="417.8" y2="359.9" stroke="#888" stroke-width="0.5"/>
<line x1="430.7" y1="307.2" x2="430.7" y2="308.7" stroke="#888" stroke-width="0.5"/>
<line x1="430.7" y1="361.4" x2="430.7" y2="359.9" stroke="#888" stroke-width="0.5"/>
<line x1="443.6" y1="307.2" x2="443.6" y2="308.7" stroke="#888" stroke-width="0.5"/>
<line x1="443.6" y1="361.4" x2="443.6" y2="359.9" stroke="#888" stroke-width="0.5"/>
<line x1="456.5" y1="307.2" x2="456.5" y2="308.7" stroke="#888" stroke-width="0.5"/>
<line x1="456.5" y1="361.4" x2="456.5" y2="359.9" stroke="#888" stroke-width="0.5"/>
<text x="311.2" y="156" class="gl">(h)</text>
<text transform="translate(445.2,150.6) scale(0.8,1)" style="font-size:6.2px;stroke-width:0.25;paint-order:stroke"><tspan fill="#333" stroke="#333">B<tspan style="font-size:4.6px" dy="2.4">l</tspan></tspan><tspan fill="#33f" stroke="#33f" dy="-2.4">B<tspan style="font-size:4.6px" dy="2.4">m</tspan></tspan><tspan fill="#f33" stroke="#f33" dy="-2.4">B<tspan style="font-size:4.6px" dy="2.4">n</tspan></tspan><tspan fill="#3c5" stroke="#3c5" dy="-2.4">|B|</tspan></text>
<text x="468.3" y="205.1" text-anchor="end" style="font-size:6.1px;stroke:#111;stroke-width:0.25" textLength="8.1" lengthAdjust="spacingAndGlyphs">PVI</text>
<text transform="translate(447.3,259.2) scale(0.82,1)" style="font-size:4.7px;stroke-width:0.25;paint-order:stroke"><tspan fill="#222" stroke="#222">V<tspan style="font-size:4.6px" dy="2.6">el</tspan></tspan><tspan fill="#33f" stroke="#33f" dy="-2.6">V<tspan style="font-size:4.6px" dy="2.6">em</tspan></tspan><tspan fill="#f33" stroke="#f33" dy="-2.6">V<tspan style="font-size:4.6px" dy="2.6">en</tspan></tspan></text>
<text x="468" y="314" text-anchor="end" style="font-size:6.2px;stroke:#111;stroke-width:0.2" textLength="8.6" lengthAdjust="spacingAndGlyphs">J·E'</text>
<text transform="translate(329.3,171.6) rotate(-90)" text-anchor="middle" style="font-size:6.3px" textLength="16.2" lengthAdjust="spacingAndGlyphs">B [nT]</text>
<text transform="translate(327.8,226.2) rotate(-90)" text-anchor="middle" style="font-size:5.8px" textLength="10" lengthAdjust="spacingAndGlyphs">PVI</text>
<text transform="translate(325.9,280.2) rotate(-90)" text-anchor="middle" style="font-size:6.2px" textLength="26.5" lengthAdjust="spacingAndGlyphs">Ve [km/s]</text>
<text transform="translate(326.2,333.4) rotate(-90)" text-anchor="middle" style="font-size:6.2px">J·E' [nW/m<tspan style="font-size:4.5px" dy="-2">3</tspan><tspan dy="2">]</tspan></text>
<text x="340.5" y="370" text-anchor="middle" class="hs">.55</text>
<text x="405" y="369.3" text-anchor="middle" class="hs">11:07:46.60</text>
<text x="469.6" y="370" text-anchor="middle" class="hs">.65</text>
<text x="404.8" y="378" text-anchor="middle" style="font-size:6.4px">2015-10-25 UTC</text>
</svg>
</body></html>
